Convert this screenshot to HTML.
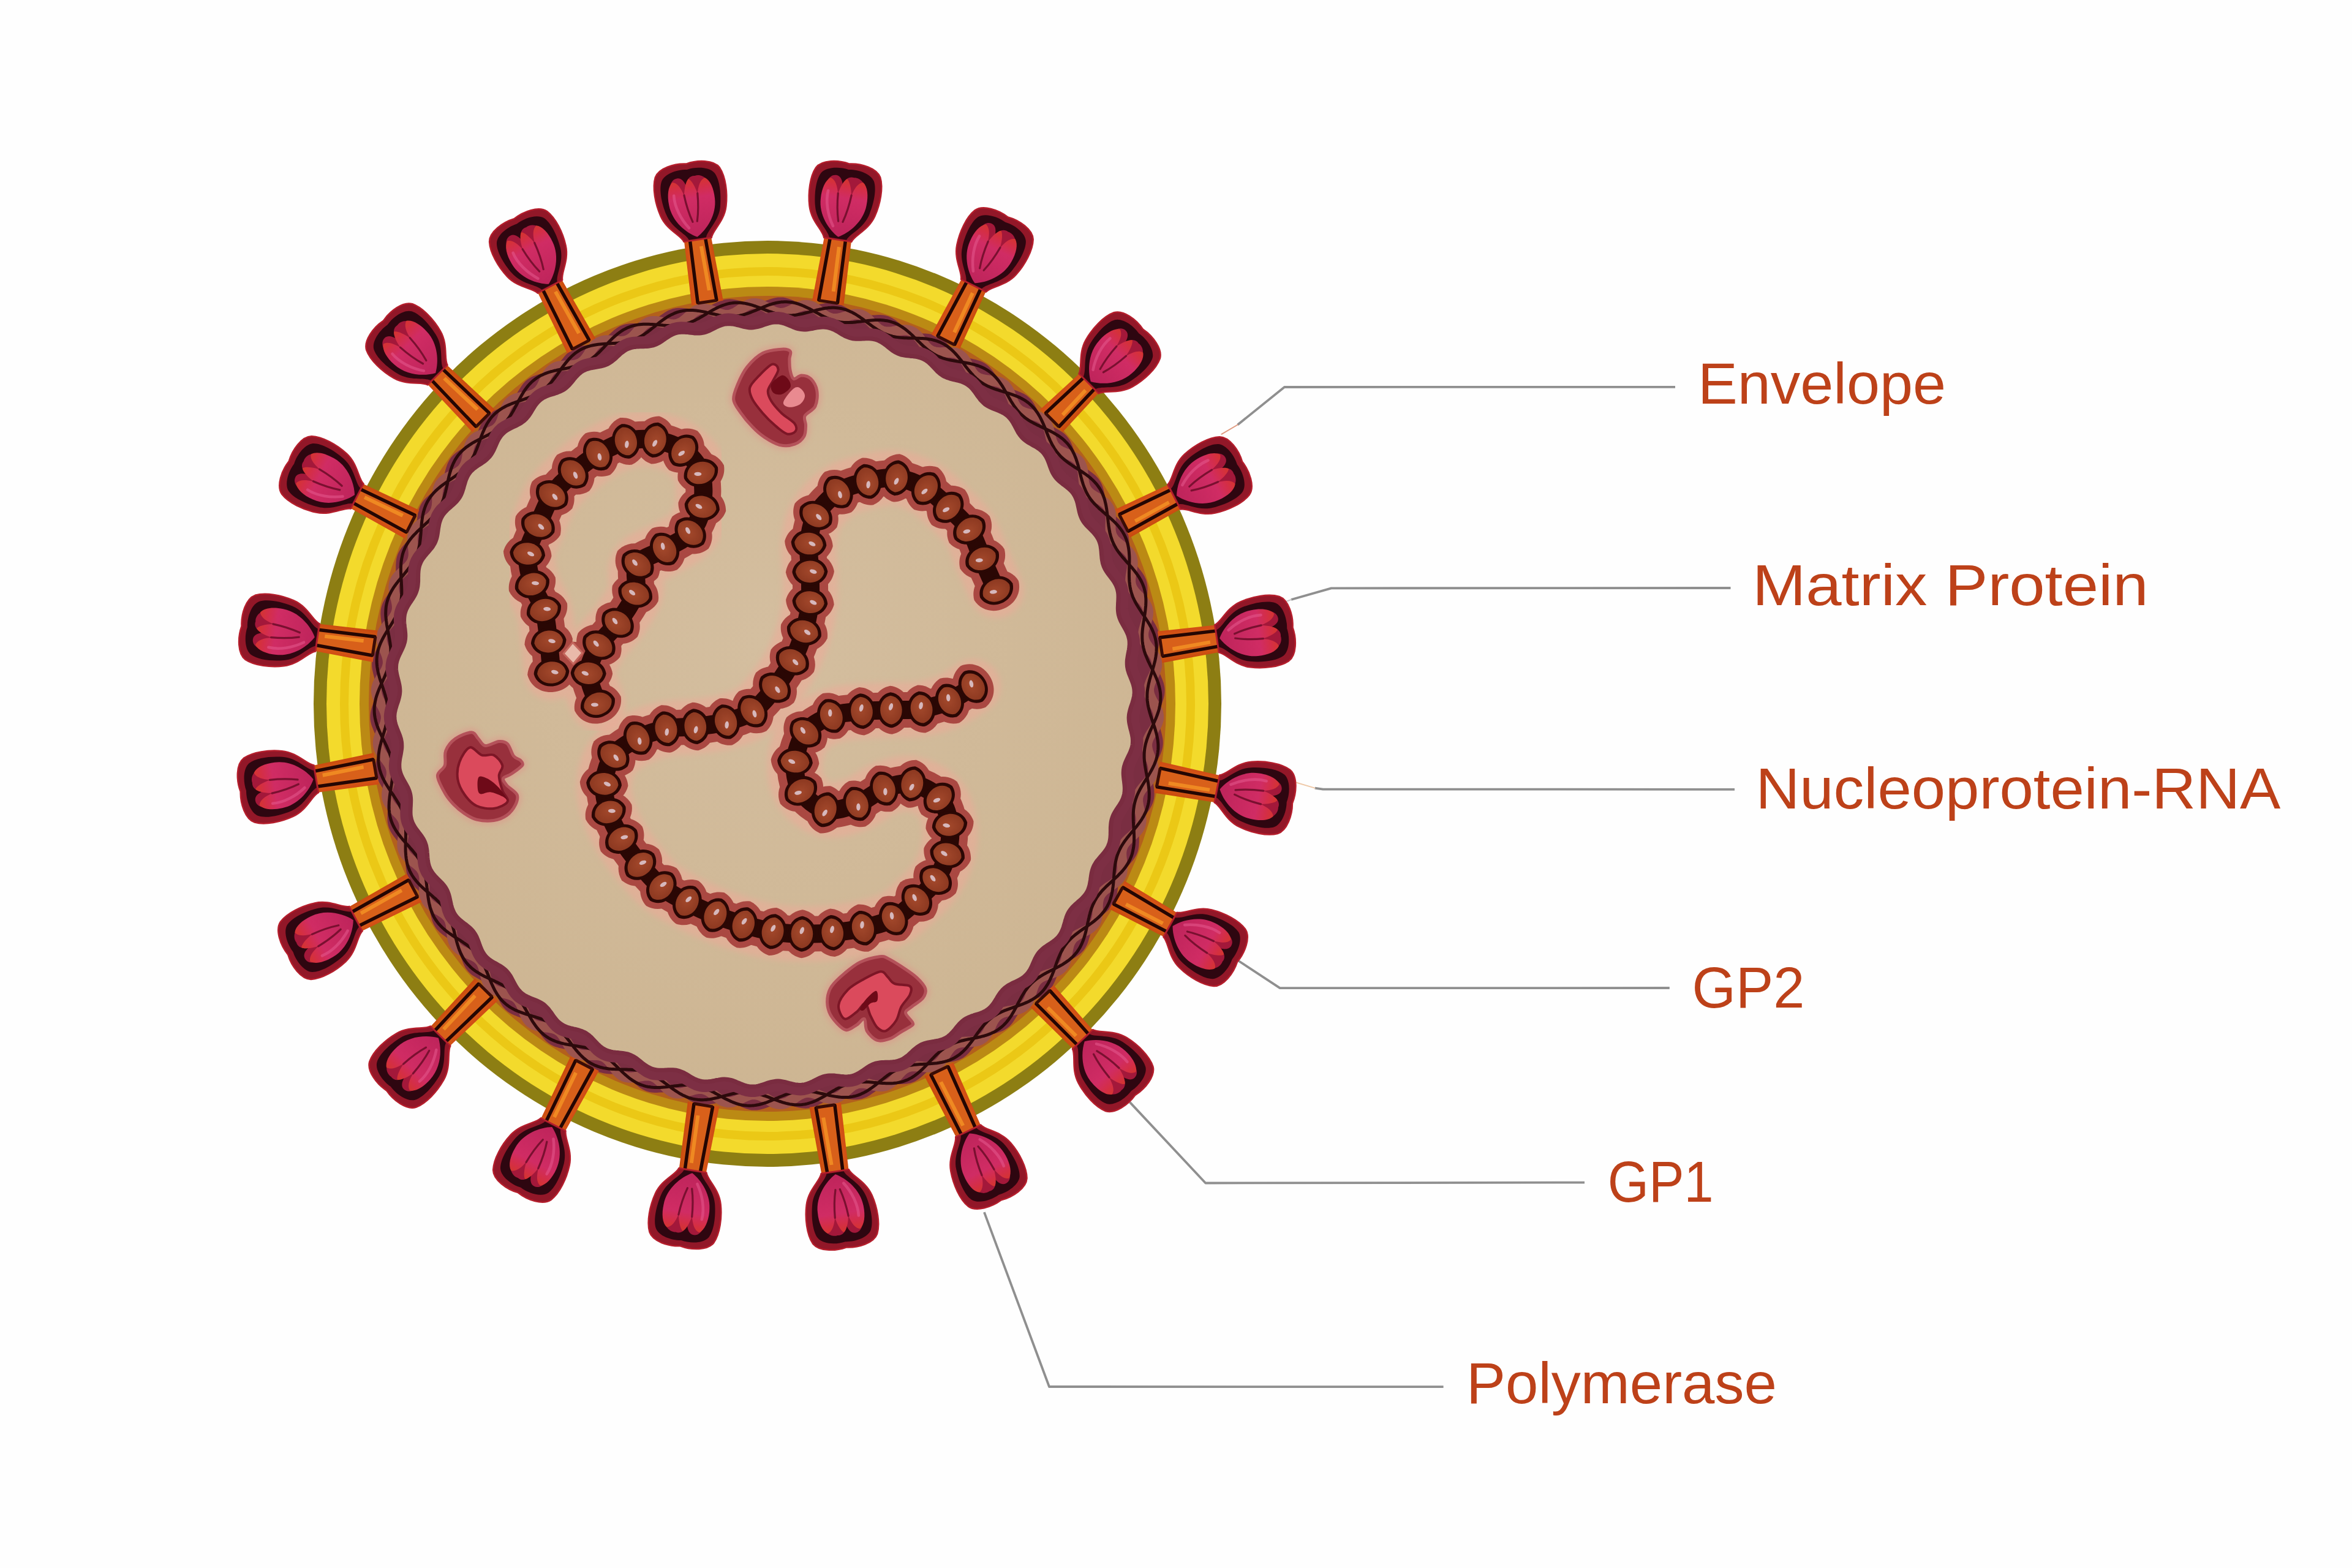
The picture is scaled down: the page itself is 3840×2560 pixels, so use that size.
<!DOCTYPE html>
<html><head><meta charset="utf-8"><title>Virus structure</title>
<style>html,body{margin:0;padding:0;background:#fefefe;}body{width:3840px;height:2560px;overflow:hidden;font-family:"Liberation Sans",sans-serif;}svg{display:block;}text{font-family:"Liberation Sans",sans-serif;}</style></head><body>
<svg width="3840" height="2560" viewBox="0 0 3840 2560">
<defs>
<linearGradient id="petal" gradientUnits="userSpaceOnUse" x1="0" y1="-48" x2="0" y2="60">
 <stop offset="0" stop-color="#d4362a"/><stop offset="0.16" stop-color="#d42e46"/><stop offset="0.34" stop-color="#d02c64"/><stop offset="1" stop-color="#be245b"/>
</linearGradient>
<linearGradient id="stalk" x1="0" y1="0" x2="1" y2="0">
 <stop offset="0" stop-color="#cf4a14"/><stop offset="0.5" stop-color="#de6a18"/><stop offset="1" stop-color="#c8480f"/>
</linearGradient>
<radialGradient id="core" cx="0.5" cy="0.42" r="0.62">
 <stop offset="0" stop-color="#d4be9f"/><stop offset="1" stop-color="#cdb592"/>
</radialGradient>
<radialGradient id="bead" cx="0.45" cy="0.42" r="0.6">
 <stop offset="0" stop-color="#a4492c"/><stop offset="1" stop-color="#8c3820"/>
</radialGradient>
<filter id="soft" x="-10%" y="-10%" width="120%" height="120%"><feGaussianBlur stdDeviation="5"/></filter>
<filter id="soft2" x="-10%" y="-10%" width="120%" height="120%"><feGaussianBlur stdDeviation="1.2"/></filter>
</defs>
<rect width="3840" height="2560" fill="#fefefe"/>
<g fill="none" stroke="#8f8f8f" stroke-width="3.8" stroke-linejoin="round" stroke-linecap="butt">
<polyline points="2020.6,693.5 2097,632 2735,631.8"/>
<polyline points="2108,979 2173.5,960.3 2825.5,960"/>
<polyline points="2146.7,1286.6 2160,1288.6 2832,1288.8"/>
<polyline points="2021.7,1568.5 2089.6,1613.2 2725.8,1613"/>
<polyline points="1844.7,1799.6 1968.2,1931.5 2587,1930.6"/>
<polyline points="1606.9,1979.2 1713,2264 2356.6,2264.2"/>
</g>
<g fill="none" stroke="#e09a80" stroke-width="2" stroke-linecap="round">
<path d="M2020.6,693.5 L1994.4,708.8"/><path d="M2108,979 L2100,982" stroke="#c8c8c8"/><path d="M2146.7,1286.6 L2111,1276" stroke="#efc9a8"/>
</g>
<g fill="#bd4119" font-size="95">
<text x="2772" y="658.6" textLength="405" lengthAdjust="spacingAndGlyphs">Envelope</text>
<text x="2861" y="988.4" textLength="646.6" lengthAdjust="spacingAndGlyphs">Matrix Protein</text>
<text x="2866.4" y="1320" textLength="857" lengthAdjust="spacingAndGlyphs">Nucleoprotein-RNA</text>
<text x="2762.5" y="1644.6" textLength="183.8" lengthAdjust="spacingAndGlyphs">GP2</text>
<text x="2624.7" y="1962" textLength="172.9" lengthAdjust="spacingAndGlyphs">GP1</text>
<text x="2394" y="2291" textLength="506.9" lengthAdjust="spacingAndGlyphs">Polymerase</text>
</g>
<ellipse cx="1253" cy="1149" rx="741" ry="756" fill="#8d7e13"/>
<ellipse cx="1253" cy="1149" rx="720" ry="735" fill="#f3da2c"/>
<ellipse cx="1253" cy="1149" rx="691" ry="706" fill="none" stroke="#ebc816" stroke-width="14"/>
<ellipse cx="1253" cy="1149" rx="666" ry="681" fill="#bb8a14"/>
<ellipse cx="1253" cy="1149" rx="651" ry="666" fill="#b3601c"/>
<path d="M1253,490 L1255.8,489 L1258.6,488.1 L1261.5,487.2 L1264.3,486.5 L1267.1,485.9 L1270,485.6 L1272.8,485.4 L1275.6,485.4 L1278.5,485.6 L1281.3,486.1 L1284.1,486.7 L1286.9,487.6 L1289.7,488.5 L1292.4,489.6 L1295.2,490.8 L1297.9,492 L1300.6,493.1 L1303.3,494.3 L1306.1,495.4 L1308.8,496.3 L1311.5,497.1 L1314.3,497.8 L1317,498.3 L1319.8,498.6 L1322.6,498.7 L1325.4,498.6 L1328.2,498.3 L1331.1,498 L1334,497.5 L1336.9,496.9 L1339.8,496.3 L1342.7,495.7 L1345.6,495.2 L1348.6,494.7 L1351.5,494.3 L1354.4,494.1 L1357.2,494.1 L1360.1,494.2 L1362.9,494.6 L1365.7,495.2 L1368.4,495.9 L1371.1,496.9 L1373.8,498.1 L1376.4,499.4 L1379,500.8 L1381.6,502.3 L1384.1,503.9 L1386.7,505.4 L1389.2,507 L1391.8,508.4 L1394.3,509.8 L1396.9,511 L1399.5,512.1 L1402.2,513 L1404.9,513.7 L1407.6,514.3 L1410.4,514.7 L1413.2,514.9 L1416.1,514.9 L1419,514.9 L1422,514.7 L1424.9,514.6 L1427.9,514.4 L1430.9,514.2 L1433.9,514.1 L1436.8,514.1 L1439.7,514.3 L1442.6,514.6 L1445.4,515.1 L1448.2,515.8 L1450.8,516.6 L1453.5,517.7 L1456,519 L1458.5,520.5 L1461,522.1 L1463.4,523.8 L1465.7,525.7 L1468.1,527.6 L1470.4,529.5 L1472.7,531.3 L1475,533.2 L1477.3,534.9 L1479.7,536.6 L1482.2,538 L1484.6,539.4 L1487.2,540.5 L1489.8,541.5 L1492.5,542.3 L1495.3,542.9 L1498.1,543.4 L1501,543.8 L1503.9,544.1 L1506.9,544.4 L1509.8,544.6 L1512.8,544.8 L1515.8,545.1 L1518.7,545.5 L1521.6,546 L1524.4,546.7 L1527.2,547.5 L1529.8,548.5 L1532.4,549.7 L1534.9,551.1 L1537.3,552.7 L1539.6,554.4 L1541.8,556.3 L1544,558.3 L1546.1,560.5 L1548.1,562.6 L1550.2,564.8 L1552.2,567 L1554.2,569.2 L1556.3,571.3 L1558.4,573.3 L1560.6,575.1 L1562.9,576.8 L1565.2,578.4 L1567.7,579.8 L1570.2,581 L1572.8,582 L1575.5,583 L1578.3,583.8 L1581.2,584.5 L1584.1,585.2 L1587,585.8 L1589.9,586.4 L1592.8,587.1 L1595.7,587.9 L1598.5,588.8 L1601.2,589.8 L1603.9,590.9 L1606.4,592.2 L1608.8,593.7 L1611.2,595.4 L1613.4,597.2 L1615.4,599.2 L1617.4,601.4 L1619.3,603.7 L1621.1,606 L1622.9,608.5 L1624.6,610.9 L1626.3,613.4 L1628,615.9 L1629.8,618.2 L1631.6,620.5 L1633.5,622.7 L1635.5,624.8 L1637.6,626.7 L1639.8,628.4 L1642.1,630 L1644.5,631.5 L1647.1,632.8 L1649.7,634 L1652.4,635.2 L1655.2,636.2 L1658,637.3 L1660.8,638.3 L1663.6,639.4 L1666.3,640.5 L1669,641.7 L1671.6,643 L1674.1,644.5 L1676.5,646.1 L1678.8,647.9 L1680.9,649.8 L1682.9,651.9 L1684.7,654.1 L1686.4,656.5 L1688,659 L1689.5,661.6 L1690.9,664.2 L1692.3,666.9 L1693.7,669.6 L1695.1,672.3 L1696.5,674.9 L1697.9,677.5 L1699.5,679.9 L1701.2,682.3 L1702.9,684.5 L1704.8,686.6 L1706.9,688.5 L1709.1,690.3 L1711.3,692 L1713.8,693.6 L1716.3,695.2 L1718.8,696.6 L1721.5,698 L1724.1,699.4 L1726.8,700.9 L1729.4,702.4 L1731.9,703.9 L1734.3,705.6 L1736.7,707.3 L1738.9,709.2 L1740.9,711.2 L1742.8,713.4 L1744.5,715.7 L1746.1,718.1 L1747.5,720.7 L1748.8,723.3 L1750,726.1 L1751.1,728.9 L1752.1,731.7 L1753.1,734.6 L1754.1,737.5 L1755.1,740.3 L1756.2,743 L1757.4,745.7 L1758.7,748.3 L1760.1,750.8 L1761.7,753.1 L1763.4,755.4 L1765.2,757.5 L1767.2,759.6 L1769.4,761.5 L1771.6,763.4 L1774,765.2 L1776.4,767 L1778.8,768.7 L1781.2,770.5 L1783.6,772.3 L1786,774.2 L1788.2,776.1 L1790.3,778.2 L1792.3,780.3 L1794.1,782.6 L1795.7,784.9 L1797.2,787.4 L1798.5,790 L1799.6,792.7 L1800.6,795.5 L1801.4,798.4 L1802.1,801.3 L1802.8,804.3 L1803.4,807.2 L1804,810.2 L1804.6,813.2 L1805.3,816.1 L1806.1,818.9 L1807,821.7 L1808,824.3 L1809.2,826.9 L1810.5,829.4 L1812.1,831.8 L1813.7,834.2 L1815.5,836.4 L1817.5,838.6 L1819.5,840.7 L1821.7,842.8 L1823.8,844.9 L1826,847 L1828.2,849.1 L1830.3,851.3 L1832.3,853.5 L1834.1,855.8 L1835.9,858.1 L1837.4,860.6 L1838.8,863.1 L1839.9,865.8 L1840.9,868.5 L1841.7,871.3 L1842.3,874.2 L1842.8,877.1 L1843.2,880.1 L1843.5,883.2 L1843.7,886.2 L1843.9,889.2 L1844.1,892.2 L1844.4,895.2 L1844.7,898.2 L1845.2,901 L1845.8,903.9 L1846.6,906.6 L1847.5,909.3 L1848.7,911.9 L1850,914.5 L1851.4,917 L1853,919.4 L1854.7,921.8 L1856.6,924.2 L1858.4,926.6 L1860.3,928.9 L1862.2,931.3 L1864,933.7 L1865.7,936.2 L1867.3,938.7 L1868.7,941.3 L1870,943.9 L1871.1,946.6 L1871.9,949.3 L1872.6,952.2 L1873.1,955 L1873.4,958 L1873.5,960.9 L1873.5,963.9 L1873.4,967 L1873.2,970 L1873,973.1 L1872.8,976.1 L1872.6,979.1 L1872.6,982.1 L1872.6,985 L1872.8,987.9 L1873.2,990.7 L1873.7,993.6 L1874.4,996.3 L1875.3,999 L1876.4,1001.7 L1877.6,1004.4 L1878.9,1007 L1880.4,1009.6 L1881.9,1012.2 L1883.5,1014.8 L1885,1017.4 L1886.5,1020.1 L1887.9,1022.7 L1889.2,1025.4 L1890.3,1028.1 L1891.3,1030.9 L1892.1,1033.7 L1892.6,1036.6 L1893,1039.4 L1893.1,1042.3 L1893.1,1045.3 L1892.8,1048.2 L1892.5,1051.2 L1892,1054.2 L1891.4,1057.2 L1890.8,1060.2 L1890.2,1063.2 L1889.6,1066.1 L1889.1,1069.1 L1888.8,1072 L1888.5,1074.9 L1888.4,1077.8 L1888.5,1080.6 L1888.8,1083.5 L1889.3,1086.3 L1889.9,1089.1 L1890.7,1091.9 L1891.7,1094.7 L1892.8,1097.5 L1893.9,1100.3 L1895.1,1103.1 L1896.3,1105.9 L1897.4,1108.7 L1898.5,1111.5 L1899.5,1114.3 L1900.3,1117.2 L1900.9,1120.1 L1901.4,1122.9 L1901.6,1125.8 L1901.6,1128.7 L1901.4,1131.6 L1901.1,1134.5 L1900.5,1137.4 L1899.8,1140.3 L1898.9,1143.2 L1898,1146.1 L1897,1149 L1896,1151.9 L1895,1154.7 L1894.1,1157.6 L1893.3,1160.4 L1892.6,1163.3 L1892.1,1166.1 L1891.8,1169 L1891.6,1171.8 L1891.6,1174.7 L1891.9,1177.5 L1892.2,1180.4 L1892.8,1183.3 L1893.4,1186.2 L1894.2,1189.1 L1895,1192.1 L1895.8,1195 L1896.6,1197.9 L1897.3,1200.9 L1897.9,1203.8 L1898.4,1206.8 L1898.7,1209.7 L1898.8,1212.6 L1898.7,1215.5 L1898.4,1218.4 L1897.9,1221.3 L1897.2,1224.1 L1896.3,1226.9 L1895.3,1229.7 L1894.1,1232.4 L1892.8,1235.2 L1891.4,1237.9 L1890,1240.6 L1888.7,1243.3 L1887.4,1246 L1886.2,1248.7 L1885.1,1251.5 L1884.1,1254.2 L1883.4,1257 L1882.8,1259.8 L1882.4,1262.6 L1882.1,1265.4 L1882.1,1268.3 L1882.2,1271.3 L1882.4,1274.2 L1882.7,1277.2 L1883.1,1280.2 L1883.5,1283.2 L1883.9,1286.2 L1884.3,1289.2 L1884.5,1292.3 L1884.7,1295.2 L1884.6,1298.2 L1884.4,1301.1 L1884,1304 L1883.4,1306.8 L1882.6,1309.6 L1881.6,1312.3 L1880.4,1315 L1879,1317.6 L1877.5,1320.2 L1875.9,1322.8 L1874.2,1325.3 L1872.4,1327.8 L1870.7,1330.3 L1869.1,1332.8 L1867.5,1335.3 L1866,1337.8 L1864.6,1340.4 L1863.5,1343 L1862.4,1345.7 L1861.6,1348.4 L1861,1351.2 L1860.5,1354 L1860.1,1356.9 L1859.9,1359.9 L1859.8,1362.8 L1859.8,1365.9 L1859.8,1368.9 L1859.8,1371.9 L1859.8,1375 L1859.6,1378 L1859.4,1381 L1859,1383.9 L1858.5,1386.8 L1857.8,1389.6 L1856.8,1392.4 L1855.7,1395 L1854.4,1397.6 L1852.9,1400.1 L1851.2,1402.5 L1849.4,1404.9 L1847.5,1407.2 L1845.5,1409.5 L1843.5,1411.7 L1841.5,1414 L1839.5,1416.2 L1837.5,1418.5 L1835.7,1420.8 L1834,1423.1 L1832.4,1425.5 L1831,1428 L1829.8,1430.6 L1828.7,1433.2 L1827.8,1435.9 L1827,1438.7 L1826.4,1441.6 L1825.9,1444.5 L1825.4,1447.5 L1825,1450.5 L1824.6,1453.5 L1824.2,1456.5 L1823.7,1459.5 L1823.1,1462.4 L1822.4,1465.3 L1821.5,1468.1 L1820.5,1470.8 L1819.2,1473.4 L1817.8,1476 L1816.2,1478.4 L1814.5,1480.7 L1812.5,1482.9 L1810.5,1485 L1808.3,1487 L1806.1,1489 L1803.7,1491 L1801.4,1492.9 L1799.1,1494.9 L1796.9,1496.8 L1794.7,1498.8 L1792.7,1500.9 L1790.8,1503 L1789,1505.3 L1787.4,1507.6 L1785.9,1510 L1784.6,1512.6 L1783.5,1515.2 L1782.4,1517.9 L1781.5,1520.7 L1780.6,1523.6 L1779.8,1526.5 L1779,1529.4 L1778.2,1532.3 L1777.3,1535.2 L1776.4,1538.1 L1775.3,1540.9 L1774.1,1543.5 L1772.8,1546.1 L1771.3,1548.6 L1769.6,1550.9 L1767.8,1553.1 L1765.7,1555.2 L1763.6,1557.1 L1761.3,1559 L1758.9,1560.7 L1756.4,1562.4 L1753.9,1564.1 L1751.3,1565.6 L1748.8,1567.2 L1746.3,1568.9 L1743.9,1570.5 L1741.5,1572.3 L1739.3,1574.1 L1737.2,1576 L1735.3,1578.1 L1733.5,1580.2 L1731.8,1582.5 L1730.2,1584.9 L1728.8,1587.5 L1727.5,1590.1 L1726.2,1592.8 L1725,1595.5 L1723.9,1598.3 L1722.7,1601.1 L1721.4,1603.9 L1720.1,1606.6 L1718.8,1609.2 L1717.3,1611.7 L1715.6,1614.1 L1713.8,1616.4 L1711.9,1618.5 L1709.8,1620.5 L1707.6,1622.3 L1705.3,1624 L1702.8,1625.5 L1700.2,1627 L1697.5,1628.3 L1694.8,1629.6 L1692.1,1630.8 L1689.4,1632.1 L1686.7,1633.3 L1684,1634.6 L1681.4,1636 L1679,1637.4 L1676.6,1639 L1674.4,1640.7 L1672.2,1642.6 L1670.2,1644.6 L1668.4,1646.7 L1666.6,1649 L1664.9,1651.4 L1663.3,1653.8 L1661.7,1656.4 L1660.2,1659 L1658.6,1661.5 L1657,1664.1 L1655.4,1666.6 L1653.7,1669.1 L1651.9,1671.4 L1650,1673.6 L1648,1675.7 L1645.8,1677.5 L1643.5,1679.3 L1641.1,1680.8 L1638.6,1682.2 L1636,1683.4 L1633.3,1684.5 L1630.5,1685.5 L1627.6,1686.4 L1624.8,1687.3 L1621.9,1688.1 L1619,1689 L1616.2,1689.9 L1613.5,1690.8 L1610.8,1691.9 L1608.2,1693.1 L1605.7,1694.4 L1603.4,1695.9 L1601.1,1697.6 L1598.9,1699.4 L1596.8,1701.3 L1594.8,1703.4 L1592.9,1705.6 L1591,1707.9 L1589.1,1710.2 L1587.2,1712.6 L1585.3,1714.9 L1583.4,1717.2 L1581.4,1719.4 L1579.3,1721.5 L1577.2,1723.5 L1574.9,1725.3 L1572.6,1726.9 L1570.1,1728.3 L1567.5,1729.6 L1564.9,1730.7 L1562.1,1731.6 L1559.3,1732.3 L1556.4,1732.9 L1553.5,1733.5 L1550.6,1733.9 L1547.6,1734.4 L1544.7,1734.8 L1541.8,1735.3 L1538.9,1735.8 L1536.1,1736.5 L1533.3,1737.3 L1530.7,1738.2 L1528.1,1739.3 L1525.6,1740.6 L1523.2,1742 L1520.8,1743.6 L1518.5,1745.3 L1516.3,1747.2 L1514.1,1749.2 L1511.9,1751.2 L1509.8,1753.3 L1507.6,1755.3 L1505.4,1757.3 L1503.1,1759.3 L1500.8,1761.1 L1498.4,1762.8 L1496,1764.3 L1493.5,1765.7 L1490.9,1766.8 L1488.2,1767.7 L1485.4,1768.5 L1482.6,1769.1 L1479.7,1769.5 L1476.8,1769.7 L1473.8,1769.9 L1470.9,1769.9 L1467.9,1770 L1464.9,1770 L1462,1770 L1459,1770.1 L1456.1,1770.4 L1453.3,1770.7 L1450.5,1771.2 L1447.8,1771.9 L1445.2,1772.7 L1442.6,1773.8 L1440,1775 L1437.5,1776.3 L1435,1777.8 L1432.6,1779.5 L1430.1,1781.1 L1427.7,1782.9 L1425.3,1784.6 L1422.8,1786.3 L1420.3,1788 L1417.8,1789.5 L1415.2,1790.9 L1412.6,1792.1 L1410,1793.1 L1407.3,1794 L1404.5,1794.6 L1401.7,1795 L1398.8,1795.2 L1395.9,1795.3 L1393,1795.2 L1390.1,1794.9 L1387.1,1794.6 L1384.2,1794.2 L1381.2,1793.8 L1378.3,1793.5 L1375.3,1793.1 L1372.5,1792.9 L1369.6,1792.8 L1366.8,1792.9 L1364,1793.1 L1361.2,1793.6 L1358.5,1794.2 L1355.8,1794.9 L1353.1,1795.9 L1350.5,1797 L1347.8,1798.2 L1345.2,1799.5 L1342.5,1800.9 L1339.9,1802.3 L1337.2,1803.6 L1334.6,1804.9 L1331.9,1806.1 L1329.1,1807.2 L1326.4,1808.1 L1323.6,1808.8 L1320.8,1809.3 L1318,1809.6 L1315.2,1809.7 L1312.3,1809.6 L1309.5,1809.3 L1306.6,1808.8 L1303.7,1808.2 L1300.8,1807.5 L1297.9,1806.7 L1295.1,1805.9 L1292.2,1805.1 L1289.4,1804.4 L1286.5,1803.8 L1283.7,1803.2 L1280.9,1802.8 L1278.1,1802.6 L1275.3,1802.6 L1272.5,1802.8 L1269.7,1803.1 L1267,1803.6 L1264.2,1804.3 L1261.4,1805.1 L1258.6,1806 L1255.8,1807 L1253,1808 L1250.2,1809 L1247.4,1809.9 L1244.5,1810.8 L1241.7,1811.5 L1238.9,1812.1 L1236,1812.4 L1233.2,1812.6 L1230.4,1812.6 L1227.5,1812.4 L1224.7,1811.9 L1221.9,1811.3 L1219.1,1810.4 L1216.3,1809.5 L1213.6,1808.4 L1210.8,1807.2 L1208.1,1806 L1205.4,1804.9 L1202.7,1803.7 L1199.9,1802.6 L1197.2,1801.7 L1194.5,1800.9 L1191.7,1800.2 L1189,1799.7 L1186.2,1799.4 L1183.4,1799.3 L1180.6,1799.4 L1177.8,1799.7 L1174.9,1800 L1172,1800.5 L1169.1,1801.1 L1166.2,1801.7 L1163.3,1802.3 L1160.4,1802.8 L1157.4,1803.3 L1154.5,1803.7 L1151.6,1803.9 L1148.8,1803.9 L1145.9,1803.8 L1143.1,1803.4 L1140.3,1802.8 L1137.6,1802.1 L1134.9,1801.1 L1132.2,1799.9 L1129.6,1798.6 L1127,1797.2 L1124.4,1795.7 L1121.9,1794.1 L1119.3,1792.6 L1116.8,1791 L1114.2,1789.6 L1111.7,1788.2 L1109.1,1787 L1106.5,1785.9 L1103.8,1785 L1101.1,1784.3 L1098.4,1783.7 L1095.6,1783.3 L1092.8,1783.1 L1089.9,1783.1 L1087,1783.1 L1084,1783.3 L1081.1,1783.4 L1078.1,1783.6 L1075.1,1783.8 L1072.1,1783.9 L1069.2,1783.9 L1066.3,1783.7 L1063.4,1783.4 L1060.6,1782.9 L1057.8,1782.2 L1055.2,1781.4 L1052.5,1780.3 L1050,1779 L1047.5,1777.5 L1045,1775.9 L1042.6,1774.2 L1040.3,1772.3 L1037.9,1770.4 L1035.6,1768.5 L1033.3,1766.7 L1031,1764.8 L1028.7,1763.1 L1026.3,1761.4 L1023.8,1760 L1021.4,1758.6 L1018.8,1757.5 L1016.2,1756.5 L1013.5,1755.7 L1010.7,1755.1 L1007.9,1754.6 L1005,1754.2 L1002.1,1753.9 L999.1,1753.6 L996.2,1753.4 L993.2,1753.2 L990.2,1752.9 L987.3,1752.5 L984.4,1752 L981.6,1751.3 L978.8,1750.5 L976.2,1749.5 L973.6,1748.3 L971.1,1746.9 L968.7,1745.3 L966.4,1743.6 L964.2,1741.7 L962,1739.7 L959.9,1737.5 L957.9,1735.4 L955.8,1733.2 L953.8,1731 L951.8,1728.8 L949.7,1726.7 L947.6,1724.7 L945.4,1722.9 L943.1,1721.2 L940.8,1719.6 L938.3,1718.2 L935.8,1717 L933.2,1716 L930.5,1715 L927.7,1714.2 L924.8,1713.5 L921.9,1712.8 L919,1712.2 L916.1,1711.6 L913.2,1710.9 L910.3,1710.1 L907.5,1709.2 L904.8,1708.2 L902.1,1707.1 L899.6,1705.8 L897.2,1704.3 L894.8,1702.6 L892.6,1700.8 L890.6,1698.8 L888.6,1696.6 L886.7,1694.3 L884.9,1692 L883.1,1689.5 L881.4,1687.1 L879.7,1684.6 L878,1682.1 L876.2,1679.8 L874.4,1677.5 L872.5,1675.3 L870.5,1673.2 L868.4,1671.3 L866.2,1669.6 L863.9,1668 L861.5,1666.5 L858.9,1665.2 L856.3,1664 L853.6,1662.8 L850.8,1661.8 L848,1660.7 L845.2,1659.7 L842.4,1658.6 L839.7,1657.5 L837,1656.3 L834.4,1655 L831.9,1653.5 L829.5,1651.9 L827.2,1650.1 L825.1,1648.2 L823.1,1646.1 L821.3,1643.9 L819.6,1641.5 L818,1639 L816.5,1636.4 L815.1,1633.8 L813.7,1631.1 L812.3,1628.4 L810.9,1625.7 L809.5,1623.1 L808.1,1620.5 L806.5,1618.1 L804.8,1615.7 L803.1,1613.5 L801.2,1611.4 L799.1,1609.5 L796.9,1607.7 L794.7,1606 L792.2,1604.4 L789.7,1602.8 L787.2,1601.4 L784.5,1600 L781.9,1598.6 L779.2,1597.1 L776.6,1595.6 L774.1,1594.1 L771.7,1592.4 L769.3,1590.7 L767.1,1588.8 L765.1,1586.8 L763.2,1584.6 L761.5,1582.3 L759.9,1579.9 L758.5,1577.3 L757.2,1574.7 L756,1571.9 L754.9,1569.1 L753.9,1566.3 L752.9,1563.4 L751.9,1560.5 L750.9,1557.7 L749.8,1555 L748.6,1552.3 L747.3,1549.7 L745.9,1547.2 L744.3,1544.9 L742.6,1542.6 L740.8,1540.5 L738.8,1538.4 L736.6,1536.5 L734.4,1534.6 L732,1532.8 L729.6,1531 L727.2,1529.3 L724.8,1527.5 L722.4,1525.7 L720,1523.8 L717.8,1521.9 L715.7,1519.8 L713.7,1517.7 L711.9,1515.4 L710.3,1513.1 L708.8,1510.6 L707.5,1508 L706.4,1505.3 L705.4,1502.5 L704.6,1499.6 L703.9,1496.7 L703.2,1493.7 L702.6,1490.8 L702,1487.8 L701.4,1484.8 L700.7,1481.9 L699.9,1479.1 L699,1476.3 L698,1473.7 L696.8,1471.1 L695.5,1468.6 L693.9,1466.2 L692.3,1463.8 L690.5,1461.6 L688.5,1459.4 L686.5,1457.3 L684.3,1455.2 L682.2,1453.1 L680,1451 L677.8,1448.9 L675.7,1446.7 L673.7,1444.5 L671.9,1442.2 L670.1,1439.9 L668.6,1437.4 L667.2,1434.9 L666.1,1432.2 L665.1,1429.5 L664.3,1426.7 L663.7,1423.8 L663.2,1420.9 L662.8,1417.9 L662.5,1414.8 L662.3,1411.8 L662.1,1408.8 L661.9,1405.8 L661.6,1402.8 L661.3,1399.8 L660.8,1397 L660.2,1394.1 L659.4,1391.4 L658.5,1388.7 L657.3,1386.1 L656,1383.5 L654.6,1381 L653,1378.6 L651.3,1376.2 L649.4,1373.8 L647.6,1371.4 L645.7,1369.1 L643.8,1366.7 L642,1364.3 L640.3,1361.8 L638.7,1359.3 L637.3,1356.7 L636,1354.1 L634.9,1351.4 L634.1,1348.7 L633.4,1345.8 L632.9,1343 L632.6,1340 L632.5,1337.1 L632.5,1334.1 L632.6,1331 L632.8,1328 L633,1324.9 L633.2,1321.9 L633.4,1318.9 L633.4,1315.9 L633.4,1313 L633.2,1310.1 L632.8,1307.3 L632.3,1304.4 L631.6,1301.7 L630.7,1299 L629.6,1296.3 L628.4,1293.6 L627.1,1291 L625.6,1288.4 L624.1,1285.8 L622.5,1283.2 L621,1280.6 L619.5,1277.9 L618.1,1275.3 L616.8,1272.6 L615.7,1269.9 L614.7,1267.1 L613.9,1264.3 L613.4,1261.4 L613,1258.6 L612.9,1255.7 L612.9,1252.7 L613.2,1249.8 L613.5,1246.8 L614,1243.8 L614.6,1240.8 L615.2,1237.8 L615.8,1234.8 L616.4,1231.9 L616.9,1228.9 L617.2,1226 L617.5,1223.1 L617.6,1220.2 L617.5,1217.4 L617.2,1214.5 L616.7,1211.7 L616.1,1208.9 L615.3,1206.1 L614.3,1203.3 L613.2,1200.5 L612.1,1197.7 L610.9,1194.9 L609.7,1192.1 L608.6,1189.3 L607.5,1186.5 L606.5,1183.7 L605.7,1180.8 L605.1,1177.9 L604.6,1175.1 L604.4,1172.2 L604.4,1169.3 L604.6,1166.4 L604.9,1163.5 L605.5,1160.6 L606.2,1157.7 L607.1,1154.8 L608,1151.9 L609,1149 L610,1146.1 L611,1143.3 L611.9,1140.4 L612.7,1137.6 L613.4,1134.7 L613.9,1131.9 L614.2,1129 L614.4,1126.2 L614.4,1123.3 L614.1,1120.5 L613.8,1117.6 L613.2,1114.7 L612.6,1111.8 L611.8,1108.9 L611,1105.9 L610.2,1103 L609.4,1100.1 L608.7,1097.1 L608.1,1094.2 L607.6,1091.2 L607.3,1088.3 L607.2,1085.4 L607.3,1082.5 L607.6,1079.6 L608.1,1076.7 L608.8,1073.9 L609.7,1071.1 L610.7,1068.3 L611.9,1065.6 L613.2,1062.8 L614.6,1060.1 L616,1057.4 L617.3,1054.7 L618.6,1052 L619.8,1049.3 L620.9,1046.5 L621.9,1043.8 L622.6,1041 L623.2,1038.2 L623.6,1035.4 L623.9,1032.6 L623.9,1029.7 L623.8,1026.7 L623.6,1023.8 L623.3,1020.8 L622.9,1017.8 L622.5,1014.8 L622.1,1011.8 L621.7,1008.8 L621.5,1005.7 L621.3,1002.8 L621.4,999.8 L621.6,996.9 L622,994 L622.6,991.2 L623.4,988.4 L624.4,985.7 L625.6,983 L627,980.4 L628.5,977.8 L630.1,975.2 L631.8,972.7 L633.6,970.2 L635.3,967.7 L636.9,965.2 L638.5,962.7 L640,960.2 L641.4,957.6 L642.5,955 L643.6,952.3 L644.4,949.6 L645,946.8 L645.5,944 L645.9,941.1 L646.1,938.1 L646.2,935.2 L646.2,932.1 L646.2,929.1 L646.2,926.1 L646.2,923 L646.4,920 L646.6,917 L647,914.1 L647.5,911.2 L648.2,908.4 L649.2,905.6 L650.3,903 L651.6,900.4 L653.1,897.9 L654.8,895.5 L656.6,893.1 L658.5,890.8 L660.5,888.5 L662.5,886.3 L664.5,884 L666.5,881.8 L668.5,879.5 L670.3,877.2 L672,874.9 L673.6,872.5 L675,870 L676.2,867.4 L677.3,864.8 L678.2,862.1 L679,859.3 L679.6,856.4 L680.1,853.5 L680.6,850.5 L681,847.5 L681.4,844.5 L681.8,841.5 L682.3,838.5 L682.9,835.6 L683.6,832.7 L684.5,829.9 L685.5,827.2 L686.8,824.6 L688.2,822 L689.8,819.6 L691.5,817.3 L693.5,815.1 L695.5,813 L697.7,811 L699.9,809 L702.3,807 L704.6,805.1 L706.9,803.1 L709.1,801.2 L711.3,799.2 L713.3,797.1 L715.2,795 L717,792.7 L718.6,790.4 L720.1,788 L721.4,785.4 L722.5,782.8 L723.6,780.1 L724.5,777.3 L725.4,774.4 L726.2,771.5 L727,768.6 L727.8,765.7 L728.7,762.8 L729.6,759.9 L730.7,757.1 L731.9,754.5 L733.2,751.9 L734.7,749.4 L736.4,747.1 L738.2,744.9 L740.3,742.8 L742.4,740.9 L744.7,739 L747.1,737.3 L749.6,735.6 L752.1,733.9 L754.7,732.4 L757.2,730.8 L759.7,729.1 L762.1,727.5 L764.5,725.7 L766.7,723.9 L768.8,722 L770.7,719.9 L772.5,717.8 L774.2,715.5 L775.8,713.1 L777.2,710.5 L778.5,707.9 L779.8,705.2 L781,702.5 L782.1,699.7 L783.3,696.9 L784.6,694.1 L785.9,691.4 L787.2,688.8 L788.7,686.3 L790.4,683.9 L792.2,681.6 L794.1,679.5 L796.2,677.5 L798.4,675.7 L800.7,674 L803.2,672.5 L805.8,671 L808.5,669.7 L811.2,668.4 L813.9,667.2 L816.6,665.9 L819.3,664.7 L822,663.4 L824.6,662 L827,660.6 L829.4,659 L831.6,657.3 L833.8,655.4 L835.8,653.4 L837.6,651.3 L839.4,649 L841.1,646.6 L842.7,644.2 L844.3,641.6 L845.8,639 L847.4,636.5 L849,633.9 L850.6,631.4 L852.3,628.9 L854.1,626.6 L856,624.4 L858,622.3 L860.2,620.5 L862.5,618.7 L864.9,617.2 L867.4,615.8 L870,614.6 L872.7,613.5 L875.5,612.5 L878.4,611.6 L881.2,610.7 L884.1,609.9 L887,609 L889.8,608.1 L892.5,607.2 L895.2,606.1 L897.8,604.9 L900.3,603.6 L902.6,602.1 L904.9,600.4 L907.1,598.6 L909.2,596.7 L911.2,594.6 L913.1,592.4 L915,590.1 L916.9,587.8 L918.8,585.4 L920.7,583.1 L922.6,580.8 L924.6,578.6 L926.7,576.5 L928.8,574.5 L931.1,572.7 L933.4,571.1 L935.9,569.7 L938.5,568.4 L941.1,567.3 L943.9,566.4 L946.7,565.7 L949.6,565.1 L952.5,564.5 L955.4,564.1 L958.4,563.6 L961.3,563.2 L964.2,562.7 L967.1,562.2 L969.9,561.5 L972.7,560.7 L975.3,559.8 L977.9,558.7 L980.4,557.4 L982.8,556 L985.2,554.4 L987.5,552.7 L989.7,550.8 L991.9,548.8 L994.1,546.8 L996.2,544.7 L998.4,542.7 L1000.6,540.7 L1002.9,538.7 L1005.2,536.9 L1007.6,535.2 L1010,533.7 L1012.5,532.3 L1015.1,531.2 L1017.8,530.3 L1020.6,529.5 L1023.4,528.9 L1026.3,528.5 L1029.2,528.3 L1032.2,528.1 L1035.1,528.1 L1038.1,528 L1041.1,528 L1044,528 L1047,527.9 L1049.9,527.6 L1052.7,527.3 L1055.5,526.8 L1058.2,526.1 L1060.8,525.3 L1063.4,524.2 L1066,523 L1068.5,521.7 L1071,520.2 L1073.4,518.5 L1075.9,516.9 L1078.3,515.1 L1080.7,513.4 L1083.2,511.7 L1085.7,510 L1088.2,508.5 L1090.8,507.1 L1093.4,505.9 L1096,504.9 L1098.7,504 L1101.5,503.4 L1104.3,503 L1107.2,502.8 L1110.1,502.7 L1113,502.8 L1115.9,503.1 L1118.9,503.4 L1121.8,503.8 L1124.8,504.2 L1127.7,504.5 L1130.7,504.9 L1133.5,505.1 L1136.4,505.2 L1139.2,505.1 L1142,504.9 L1144.8,504.4 L1147.5,503.8 L1150.2,503.1 L1152.9,502.1 L1155.5,501 L1158.2,499.8 L1160.8,498.5 L1163.5,497.1 L1166.1,495.7 L1168.8,494.4 L1171.4,493.1 L1174.1,491.9 L1176.9,490.8 L1179.6,489.9 L1182.4,489.2 L1185.2,488.7 L1188,488.4 L1190.8,488.3 L1193.7,488.4 L1196.5,488.7 L1199.4,489.2 L1202.3,489.8 L1205.2,490.5 L1208.1,491.3 L1210.9,492.1 L1213.8,492.9 L1216.6,493.6 L1219.5,494.2 L1222.3,494.8 L1225.1,495.2 L1227.9,495.4 L1230.7,495.4 L1233.5,495.2 L1236.3,494.9 L1239,494.4 L1241.8,493.7 L1244.6,492.9 L1247.4,492 L1250.2,491Z" fill="#7a2e42"/>
<path d="M1253,503 L1255.7,504.6 L1258.5,506.2 L1261.2,507.6 L1263.9,508.9 L1266.6,509.9 L1269.3,510.7 L1272,511.2 L1274.7,511.4 L1277.5,511.3 L1280.2,510.9 L1283,510.2 L1285.7,509.2 L1288.5,508.1 L1291.4,506.8 L1294.2,505.4 L1297.1,504 L1299.9,502.6 L1302.8,501.4 L1305.7,500.3 L1308.5,499.4 L1311.4,498.7 L1314.2,498.4 L1317,498.3 L1319.8,498.6 L1322.5,499.3 L1325.2,500.2 L1327.9,501.4 L1330.5,502.9 L1333.1,504.6 L1335.6,506.5 L1338.2,508.4 L1340.7,510.4 L1343.2,512.3 L1345.7,514.2 L1348.2,515.9 L1350.7,517.3 L1353.3,518.6 L1355.9,519.5 L1358.5,520.2 L1361.2,520.6 L1364,520.6 L1366.8,520.4 L1369.6,519.9 L1372.5,519.3 L1375.5,518.4 L1378.5,517.5 L1381.5,516.5 L1384.5,515.5 L1387.6,514.6 L1390.6,513.8 L1393.5,513.3 L1396.5,512.9 L1399.3,512.9 L1402.1,513.2 L1404.9,513.7 L1407.5,514.7 L1410.1,515.9 L1412.6,517.4 L1415,519.2 L1417.4,521.1 L1419.6,523.3 L1421.9,525.6 L1424.1,527.9 L1426.3,530.1 L1428.5,532.4 L1430.8,534.4 L1433.1,536.3 L1435.4,538 L1437.8,539.4 L1440.3,540.5 L1442.9,541.3 L1445.6,541.9 L1448.4,542.1 L1451.3,542.1 L1454.3,541.9 L1457.3,541.5 L1460.4,541 L1463.5,540.4 L1466.6,539.9 L1469.8,539.4 L1472.8,539 L1475.9,538.8 L1478.9,538.8 L1481.7,539.1 L1484.5,539.6 L1487.2,540.5 L1489.7,541.7 L1492.2,543.2 L1494.5,544.9 L1496.6,546.9 L1498.7,549.2 L1500.7,551.6 L1502.7,554.1 L1504.6,556.7 L1506.4,559.3 L1508.3,561.8 L1510.3,564.2 L1512.2,566.5 L1514.3,568.5 L1516.5,570.3 L1518.8,571.9 L1521.2,573.1 L1523.8,574.1 L1526.5,574.8 L1529.3,575.3 L1532.2,575.6 L1535.2,575.7 L1538.3,575.6 L1541.5,575.5 L1544.7,575.4 L1547.9,575.3 L1551,575.3 L1554.1,575.5 L1557.1,575.8 L1559.9,576.4 L1562.6,577.3 L1565.2,578.4 L1567.6,579.8 L1569.9,581.6 L1572,583.5 L1573.9,585.8 L1575.7,588.2 L1577.4,590.9 L1579,593.6 L1580.5,596.4 L1582,599.3 L1583.6,602.1 L1585.1,604.8 L1586.8,607.3 L1588.5,609.7 L1590.4,611.9 L1592.4,613.8 L1594.6,615.4 L1596.9,616.9 L1599.5,618 L1602.1,618.9 L1605,619.7 L1607.9,620.2 L1611,620.6 L1614.1,621 L1617.3,621.3 L1620.5,621.6 L1623.6,622 L1626.7,622.6 L1629.6,623.3 L1632.4,624.2 L1635.1,625.3 L1637.5,626.8 L1639.8,628.4 L1641.8,630.4 L1643.7,632.6 L1645.4,635 L1646.9,637.6 L1648.2,640.4 L1649.5,643.3 L1650.6,646.3 L1651.8,649.3 L1652.9,652.3 L1654,655.3 L1655.3,658.1 L1656.7,660.7 L1658.2,663.2 L1659.9,665.5 L1661.7,667.5 L1663.8,669.3 L1666.1,670.8 L1668.6,672.2 L1671.2,673.3 L1674.1,674.3 L1677,675.2 L1680.1,676 L1683.2,676.7 L1686.3,677.5 L1689.3,678.3 L1692.3,679.2 L1695.2,680.3 L1697.9,681.5 L1700.4,683 L1702.8,684.7 L1704.8,686.6 L1706.7,688.7 L1708.3,691.1 L1709.7,693.6 L1710.9,696.4 L1711.9,699.3 L1712.8,702.3 L1713.6,705.5 L1714.3,708.6 L1715,711.8 L1715.7,714.9 L1716.6,717.9 L1717.5,720.7 L1718.6,723.4 L1719.9,726 L1721.4,728.3 L1723.2,730.4 L1725.2,732.3 L1727.4,734.1 L1729.8,735.6 L1732.4,737.1 L1735.2,738.4 L1738.1,739.6 L1741,740.8 L1744,741.9 L1747,743.1 L1749.9,744.4 L1752.6,745.8 L1755.2,747.4 L1757.6,749.1 L1759.7,751 L1761.6,753.1 L1763.3,755.5 L1764.6,758 L1765.7,760.7 L1766.6,763.5 L1767.3,766.5 L1767.8,769.6 L1768.2,772.8 L1768.5,776 L1768.7,779.3 L1769.1,782.5 L1769.4,785.6 L1769.9,788.6 L1770.6,791.5 L1771.5,794.2 L1772.6,796.8 L1774,799.2 L1775.6,801.4 L1777.5,803.5 L1779.7,805.4 L1782,807.2 L1784.5,808.9 L1787.2,810.5 L1789.9,812.1 L1792.7,813.7 L1795.5,815.3 L1798.2,816.9 L1800.8,818.7 L1803.3,820.5 L1805.5,822.5 L1807.4,824.7 L1809.1,827 L1810.5,829.5 L1811.6,832.1 L1812.4,834.9 L1813,837.8 L1813.3,840.8 L1813.5,844 L1813.4,847.2 L1813.3,850.4 L1813.2,853.6 L1813,856.8 L1813,860 L1813,863.1 L1813.2,866.1 L1813.7,869 L1814.4,871.7 L1815.3,874.3 L1816.6,876.8 L1818.1,879.2 L1819.8,881.4 L1821.9,883.5 L1824.1,885.6 L1826.5,887.6 L1829,889.5 L1831.5,891.5 L1834.1,893.4 L1836.6,895.4 L1839,897.5 L1841.2,899.6 L1843.2,901.9 L1844.9,904.2 L1846.4,906.7 L1847.5,909.3 L1848.4,912 L1848.9,914.9 L1849.2,917.8 L1849.2,920.9 L1848.9,924 L1848.5,927.1 L1848,930.3 L1847.4,933.5 L1846.8,936.7 L1846.3,939.8 L1845.9,942.9 L1845.7,945.9 L1845.6,948.9 L1845.9,951.7 L1846.4,954.5 L1847.2,957.1 L1848.3,959.7 L1849.7,962.2 L1851.3,964.6 L1853.2,967 L1855.2,969.3 L1857.4,971.5 L1859.7,973.8 L1862,976.1 L1864.2,978.4 L1866.4,980.8 L1868.3,983.2 L1870.1,985.7 L1871.6,988.2 L1872.8,990.8 L1873.7,993.6 L1874.2,996.3 L1874.5,999.2 L1874.4,1002.2 L1874.1,1005.1 L1873.5,1008.2 L1872.8,1011.3 L1871.8,1014.3 L1870.8,1017.4 L1869.8,1020.5 L1868.9,1023.6 L1868,1026.6 L1867.3,1029.6 L1866.8,1032.5 L1866.6,1035.4 L1866.7,1038.2 L1867,1041 L1867.7,1043.7 L1868.6,1046.3 L1869.8,1049 L1871.3,1051.6 L1873,1054.1 L1874.8,1056.7 L1876.8,1059.2 L1878.7,1061.8 L1880.7,1064.4 L1882.5,1067 L1884.2,1069.7 L1885.7,1072.4 L1886.9,1075.1 L1887.8,1077.8 L1888.5,1080.6 L1888.7,1083.5 L1888.7,1086.4 L1888.4,1089.2 L1887.7,1092.2 L1886.8,1095.1 L1885.7,1098 L1884.4,1101 L1883,1103.9 L1881.6,1106.8 L1880.2,1109.7 L1878.9,1112.6 L1877.8,1115.5 L1876.8,1118.3 L1876.2,1121.1 L1875.7,1123.9 L1875.6,1126.7 L1875.8,1129.5 L1876.3,1132.3 L1877.1,1135.1 L1878.2,1137.8 L1879.4,1140.6 L1880.9,1143.4 L1882.4,1146.2 L1884,1149 L1885.6,1151.8 L1887.1,1154.7 L1888.5,1157.5 L1889.7,1160.4 L1890.6,1163.2 L1891.2,1166.1 L1891.6,1169 L1891.6,1171.8 L1891.3,1174.7 L1890.6,1177.5 L1889.7,1180.3 L1888.5,1183.1 L1887,1185.9 L1885.4,1188.6 L1883.7,1191.3 L1881.9,1194 L1880.1,1196.7 L1878.4,1199.4 L1876.9,1202.1 L1875.5,1204.8 L1874.4,1207.5 L1873.5,1210.2 L1872.9,1212.9 L1872.6,1215.7 L1872.7,1218.5 L1873,1221.3 L1873.6,1224.2 L1874.4,1227.1 L1875.4,1230.1 L1876.5,1233 L1877.8,1236 L1879,1239.1 L1880.1,1242.1 L1881.1,1245.1 L1882,1248.1 L1882.6,1251.1 L1883,1254 L1883,1256.9 L1882.8,1259.8 L1882.2,1262.5 L1881.3,1265.3 L1880,1267.9 L1878.5,1270.6 L1876.8,1273.1 L1874.9,1275.6 L1872.8,1278.1 L1870.7,1280.5 L1868.6,1283 L1866.5,1285.4 L1864.6,1287.8 L1862.8,1290.3 L1861.2,1292.8 L1859.9,1295.3 L1858.9,1298 L1858.2,1300.6 L1857.7,1303.4 L1857.6,1306.2 L1857.7,1309.1 L1858.1,1312.1 L1858.6,1315.2 L1859.3,1318.3 L1860.1,1321.4 L1860.9,1324.5 L1861.7,1327.7 L1862.3,1330.8 L1862.8,1333.9 L1863.1,1337 L1863.2,1339.9 L1862.9,1342.8 L1862.4,1345.7 L1861.5,1348.4 L1860.4,1351 L1858.9,1353.5 L1857.1,1355.9 L1855.1,1358.2 L1852.9,1360.5 L1850.6,1362.6 L1848.2,1364.8 L1845.8,1366.9 L1843.4,1369 L1841.1,1371.1 L1838.9,1373.3 L1837,1375.6 L1835.3,1377.9 L1833.8,1380.3 L1832.7,1382.8 L1831.8,1385.5 L1831.2,1388.2 L1830.8,1391.1 L1830.7,1394 L1830.8,1397.1 L1831.1,1400.2 L1831.4,1403.4 L1831.8,1406.6 L1832.1,1409.9 L1832.4,1413.1 L1832.6,1416.2 L1832.5,1419.3 L1832.2,1422.3 L1831.7,1425.2 L1830.9,1427.9 L1829.7,1430.5 L1828.3,1433 L1826.6,1435.3 L1824.6,1437.5 L1822.4,1439.6 L1820,1441.5 L1817.4,1443.4 L1814.8,1445.2 L1812.1,1447 L1809.4,1448.7 L1806.8,1450.5 L1804.4,1452.4 L1802.1,1454.3 L1800,1456.3 L1798.2,1458.5 L1796.6,1460.8 L1795.3,1463.2 L1794.2,1465.8 L1793.5,1468.5 L1792.9,1471.4 L1792.5,1474.4 L1792.3,1477.5 L1792.2,1480.7 L1792.2,1483.9 L1792.1,1487.2 L1792,1490.4 L1791.7,1493.6 L1791.3,1496.7 L1790.7,1499.6 L1789.9,1502.4 L1788.8,1505.1 L1787.4,1507.6 L1785.7,1509.9 L1783.8,1512 L1781.6,1513.9 L1779.2,1515.7 L1776.6,1517.4 L1773.9,1518.9 L1771,1520.3 L1768.1,1521.7 L1765.2,1523.1 L1762.4,1524.5 L1759.7,1525.9 L1757.1,1527.5 L1754.7,1529.2 L1752.5,1531 L1750.6,1533 L1748.9,1535.2 L1747.5,1537.6 L1746.3,1540.1 L1745.3,1542.8 L1744.5,1545.7 L1743.8,1548.7 L1743.2,1551.8 L1742.7,1555 L1742.2,1558.2 L1741.7,1561.4 L1741.1,1564.5 L1740.3,1567.5 L1739.4,1570.4 L1738.2,1573.2 L1736.9,1575.7 L1735.2,1578 L1733.4,1580.2 L1731.3,1582.1 L1728.9,1583.7 L1726.3,1585.2 L1723.6,1586.5 L1720.7,1587.7 L1717.7,1588.8 L1714.7,1589.8 L1711.6,1590.7 L1708.6,1591.7 L1705.7,1592.7 L1702.9,1593.9 L1700.3,1595.2 L1697.8,1596.6 L1695.6,1598.3 L1693.5,1600.1 L1691.7,1602.2 L1690.1,1604.5 L1688.7,1607 L1687.5,1609.7 L1686.4,1612.5 L1685.4,1615.5 L1684.4,1618.6 L1683.5,1621.7 L1682.6,1624.7 L1681.6,1627.8 L1680.5,1630.7 L1679.2,1633.5 L1677.8,1636.1 L1676.1,1638.5 L1674.3,1640.7 L1672.2,1642.6 L1669.9,1644.2 L1667.4,1645.6 L1664.7,1646.8 L1661.9,1647.8 L1658.9,1648.6 L1655.9,1649.3 L1652.7,1649.9 L1649.6,1650.4 L1646.5,1650.9 L1643.4,1651.5 L1640.4,1652.2 L1637.6,1653.1 L1634.9,1654.1 L1632.4,1655.4 L1630.1,1656.9 L1628,1658.6 L1626,1660.6 L1624.3,1662.8 L1622.6,1665.2 L1621.1,1667.8 L1619.7,1670.6 L1618.4,1673.5 L1617.1,1676.4 L1615.7,1679.3 L1614.3,1682.2 L1612.9,1685 L1611.3,1687.6 L1609.6,1690.1 L1607.7,1692.3 L1605.6,1694.2 L1603.4,1695.9 L1600.9,1697.3 L1598.3,1698.5 L1595.6,1699.4 L1592.6,1700 L1589.6,1700.4 L1586.5,1700.7 L1583.4,1700.9 L1580.2,1701 L1577,1701.1 L1573.9,1701.2 L1570.8,1701.5 L1567.9,1701.9 L1565,1702.5 L1562.3,1703.3 L1559.8,1704.3 L1557.4,1705.7 L1555.2,1707.3 L1553.1,1709.1 L1551.1,1711.3 L1549.3,1713.6 L1547.5,1716.1 L1545.7,1718.7 L1544,1721.4 L1542.3,1724.1 L1540.6,1726.8 L1538.8,1729.4 L1536.9,1731.8 L1534.9,1734.1 L1532.8,1736.1 L1530.5,1737.8 L1528.1,1739.3 L1525.5,1740.4 L1522.8,1741.3 L1520,1741.9 L1517.1,1742.2 L1514.1,1742.2 L1511,1742.1 L1507.8,1741.9 L1504.7,1741.5 L1501.5,1741.2 L1498.4,1740.9 L1495.3,1740.7 L1492.3,1740.6 L1489.4,1740.7 L1486.6,1741.1 L1483.9,1741.7 L1481.3,1742.6 L1478.9,1743.8 L1476.5,1745.3 L1474.3,1747 L1472.1,1749 L1470,1751.1 L1467.9,1753.5 L1465.8,1755.9 L1463.8,1758.3 L1461.7,1760.8 L1459.6,1763.1 L1457.4,1765.3 L1455.1,1767.3 L1452.8,1769.1 L1450.3,1770.6 L1447.8,1771.8 L1445.1,1772.7 L1442.4,1773.3 L1439.6,1773.5 L1436.6,1773.5 L1433.6,1773.2 L1430.6,1772.7 L1427.5,1772.1 L1424.4,1771.4 L1421.4,1770.6 L1418.3,1769.8 L1415.3,1769.1 L1412.3,1768.6 L1409.4,1768.2 L1406.5,1768.1 L1403.8,1768.3 L1401.1,1768.7 L1398.5,1769.5 L1395.9,1770.5 L1393.4,1771.8 L1391,1773.4 L1388.6,1775.2 L1386.2,1777.2 L1383.8,1779.3 L1381.5,1781.4 L1379.1,1783.5 L1376.7,1785.6 L1374.3,1787.5 L1371.8,1789.3 L1369.2,1790.8 L1366.6,1792 L1363.9,1792.9 L1361.2,1793.6 L1358.4,1793.8 L1355.6,1793.8 L1352.7,1793.4 L1349.8,1792.8 L1346.9,1792 L1343.9,1791 L1341,1789.8 L1338,1788.6 L1335.1,1787.4 L1332.2,1786.3 L1329.3,1785.3 L1326.5,1784.5 L1323.6,1783.9 L1320.9,1783.6 L1318.1,1783.5 L1315.4,1783.8 L1312.7,1784.4 L1310.1,1785.3 L1307.5,1786.4 L1304.8,1787.8 L1302.2,1789.4 L1299.6,1791.1 L1297,1792.9 L1294.3,1794.7 L1291.7,1796.4 L1289,1798 L1286.3,1799.5 L1283.6,1800.7 L1280.8,1801.6 L1278.1,1802.3 L1275.3,1802.6 L1272.5,1802.6 L1269.7,1802.2 L1266.9,1801.6 L1264.1,1800.7 L1261.3,1799.5 L1258.5,1798.1 L1255.8,1796.6 L1253,1795 L1250.3,1793.4 L1247.5,1791.8 L1244.8,1790.4 L1242.1,1789.1 L1239.4,1788.1 L1236.7,1787.3 L1234,1786.8 L1231.3,1786.6 L1228.5,1786.7 L1225.8,1787.1 L1223,1787.8 L1220.3,1788.8 L1217.5,1789.9 L1214.6,1791.2 L1211.8,1792.6 L1208.9,1794 L1206.1,1795.4 L1203.2,1796.6 L1200.3,1797.7 L1197.5,1798.6 L1194.6,1799.3 L1191.8,1799.6 L1189,1799.7 L1186.2,1799.4 L1183.5,1798.7 L1180.8,1797.8 L1178.1,1796.6 L1175.5,1795.1 L1172.9,1793.4 L1170.4,1791.5 L1167.8,1789.6 L1165.3,1787.6 L1162.8,1785.7 L1160.3,1783.8 L1157.8,1782.1 L1155.3,1780.7 L1152.7,1779.4 L1150.1,1778.5 L1147.5,1777.8 L1144.8,1777.4 L1142,1777.4 L1139.2,1777.6 L1136.4,1778.1 L1133.5,1778.7 L1130.5,1779.6 L1127.5,1780.5 L1124.5,1781.5 L1121.5,1782.5 L1118.4,1783.4 L1115.4,1784.2 L1112.5,1784.7 L1109.5,1785.1 L1106.7,1785.1 L1103.9,1784.8 L1101.1,1784.3 L1098.5,1783.3 L1095.9,1782.1 L1093.4,1780.6 L1091,1778.8 L1088.6,1776.9 L1086.4,1774.7 L1084.1,1772.4 L1081.9,1770.1 L1079.7,1767.9 L1077.5,1765.6 L1075.2,1763.6 L1072.9,1761.7 L1070.6,1760 L1068.2,1758.6 L1065.7,1757.5 L1063.1,1756.7 L1060.4,1756.1 L1057.6,1755.9 L1054.7,1755.9 L1051.7,1756.1 L1048.7,1756.5 L1045.6,1757 L1042.5,1757.6 L1039.4,1758.1 L1036.2,1758.6 L1033.2,1759 L1030.1,1759.2 L1027.1,1759.2 L1024.3,1758.9 L1021.5,1758.4 L1018.8,1757.5 L1016.3,1756.3 L1013.8,1754.8 L1011.5,1753.1 L1009.4,1751.1 L1007.3,1748.8 L1005.3,1746.4 L1003.3,1743.9 L1001.4,1741.3 L999.6,1738.7 L997.7,1736.2 L995.7,1733.8 L993.8,1731.5 L991.7,1729.5 L989.5,1727.7 L987.2,1726.1 L984.8,1724.9 L982.2,1723.9 L979.5,1723.2 L976.7,1722.7 L973.8,1722.4 L970.8,1722.3 L967.7,1722.4 L964.5,1722.5 L961.3,1722.6 L958.1,1722.7 L955,1722.7 L951.9,1722.5 L948.9,1722.2 L946.1,1721.6 L943.4,1720.7 L940.8,1719.6 L938.4,1718.2 L936.1,1716.4 L934,1714.5 L932.1,1712.2 L930.3,1709.8 L928.6,1707.1 L927,1704.4 L925.5,1701.6 L924,1698.7 L922.4,1695.9 L920.9,1693.2 L919.2,1690.7 L917.5,1688.3 L915.6,1686.1 L913.6,1684.2 L911.4,1682.6 L909.1,1681.1 L906.5,1680 L903.9,1679.1 L901,1678.3 L898.1,1677.8 L895,1677.4 L891.9,1677 L888.7,1676.7 L885.5,1676.4 L882.4,1676 L879.3,1675.4 L876.4,1674.7 L873.6,1673.8 L870.9,1672.7 L868.5,1671.2 L866.2,1669.6 L864.2,1667.6 L862.3,1665.4 L860.6,1663 L859.1,1660.4 L857.8,1657.6 L856.5,1654.7 L855.4,1651.7 L854.2,1648.7 L853.1,1645.7 L852,1642.7 L850.7,1639.9 L849.3,1637.3 L847.8,1634.8 L846.1,1632.5 L844.3,1630.5 L842.2,1628.7 L839.9,1627.2 L837.4,1625.8 L834.8,1624.7 L831.9,1623.7 L829,1622.8 L825.9,1622 L822.8,1621.3 L819.7,1620.5 L816.7,1619.7 L813.7,1618.8 L810.8,1617.7 L808.1,1616.5 L805.6,1615 L803.2,1613.3 L801.2,1611.4 L799.3,1609.3 L797.7,1606.9 L796.3,1604.4 L795.1,1601.6 L794.1,1598.7 L793.2,1595.7 L792.4,1592.5 L791.7,1589.4 L791,1586.2 L790.3,1583.1 L789.4,1580.1 L788.5,1577.3 L787.4,1574.6 L786.1,1572 L784.6,1569.7 L782.8,1567.6 L780.8,1565.7 L778.6,1563.9 L776.2,1562.4 L773.6,1560.9 L770.8,1559.6 L767.9,1558.4 L765,1557.2 L762,1556.1 L759,1554.9 L756.1,1553.6 L753.4,1552.2 L750.8,1550.6 L748.4,1548.9 L746.3,1547 L744.4,1544.9 L742.7,1542.5 L741.4,1540 L740.3,1537.3 L739.4,1534.5 L738.7,1531.5 L738.2,1528.4 L737.8,1525.2 L737.5,1522 L737.3,1518.7 L736.9,1515.5 L736.6,1512.4 L736.1,1509.4 L735.4,1506.5 L734.5,1503.8 L733.4,1501.2 L732,1498.8 L730.4,1496.6 L728.5,1494.5 L726.3,1492.6 L724,1490.8 L721.5,1489.1 L718.8,1487.5 L716.1,1485.9 L713.3,1484.3 L710.5,1482.7 L707.8,1481.1 L705.2,1479.3 L702.7,1477.5 L700.5,1475.5 L698.6,1473.3 L696.9,1471 L695.5,1468.5 L694.4,1465.9 L693.6,1463.1 L693,1460.2 L692.7,1457.2 L692.5,1454 L692.6,1450.8 L692.7,1447.6 L692.8,1444.4 L693,1441.2 L693,1438 L693,1434.9 L692.8,1431.9 L692.3,1429 L691.6,1426.3 L690.7,1423.7 L689.4,1421.2 L687.9,1418.8 L686.2,1416.6 L684.1,1414.5 L681.9,1412.4 L679.5,1410.4 L677,1408.5 L674.5,1406.5 L671.9,1404.6 L669.4,1402.6 L667,1400.5 L664.8,1398.4 L662.8,1396.1 L661.1,1393.8 L659.6,1391.3 L658.5,1388.7 L657.6,1386 L657.1,1383.1 L656.8,1380.2 L656.8,1377.1 L657.1,1374 L657.5,1370.9 L658,1367.7 L658.6,1364.5 L659.2,1361.3 L659.7,1358.2 L660.1,1355.1 L660.3,1352.1 L660.4,1349.1 L660.1,1346.3 L659.6,1343.5 L658.8,1340.9 L657.7,1338.3 L656.3,1335.8 L654.7,1333.4 L652.8,1331 L650.8,1328.7 L648.6,1326.5 L646.3,1324.2 L644,1321.9 L641.8,1319.6 L639.6,1317.2 L637.7,1314.8 L635.9,1312.3 L634.4,1309.8 L633.2,1307.2 L632.3,1304.4 L631.8,1301.7 L631.5,1298.8 L631.6,1295.8 L631.9,1292.9 L632.5,1289.8 L633.2,1286.7 L634.2,1283.7 L635.2,1280.6 L636.2,1277.5 L637.1,1274.4 L638,1271.4 L638.7,1268.4 L639.2,1265.5 L639.4,1262.6 L639.3,1259.8 L639,1257 L638.3,1254.3 L637.4,1251.7 L636.2,1249 L634.7,1246.4 L633,1243.9 L631.2,1241.3 L629.2,1238.8 L627.3,1236.2 L625.3,1233.6 L623.5,1231 L621.8,1228.3 L620.3,1225.6 L619.1,1222.9 L618.2,1220.2 L617.5,1217.4 L617.3,1214.5 L617.3,1211.6 L617.6,1208.8 L618.3,1205.8 L619.2,1202.9 L620.3,1200 L621.6,1197 L623,1194.1 L624.4,1191.2 L625.8,1188.3 L627.1,1185.4 L628.2,1182.5 L629.2,1179.7 L629.8,1176.9 L630.3,1174.1 L630.4,1171.3 L630.2,1168.5 L629.7,1165.7 L628.9,1162.9 L627.8,1160.2 L626.6,1157.4 L625.1,1154.6 L623.6,1151.8 L622,1149 L620.4,1146.2 L618.9,1143.3 L617.5,1140.5 L616.3,1137.6 L615.4,1134.8 L614.8,1131.9 L614.4,1129 L614.4,1126.2 L614.7,1123.3 L615.4,1120.5 L616.3,1117.7 L617.5,1114.9 L619,1112.1 L620.6,1109.4 L622.3,1106.7 L624.1,1104 L625.9,1101.3 L627.6,1098.6 L629.1,1095.9 L630.5,1093.2 L631.6,1090.5 L632.5,1087.8 L633.1,1085.1 L633.4,1082.3 L633.3,1079.5 L633,1076.7 L632.4,1073.8 L631.6,1070.9 L630.6,1067.9 L629.5,1065 L628.2,1062 L627,1058.9 L625.9,1055.9 L624.9,1052.9 L624,1049.9 L623.4,1046.9 L623,1044 L623,1041.1 L623.2,1038.2 L623.8,1035.5 L624.7,1032.7 L626,1030.1 L627.5,1027.4 L629.2,1024.9 L631.1,1022.4 L633.2,1019.9 L635.3,1017.5 L637.4,1015 L639.5,1012.6 L641.4,1010.2 L643.2,1007.7 L644.8,1005.2 L646.1,1002.7 L647.1,1000 L647.8,997.4 L648.3,994.6 L648.4,991.8 L648.3,988.9 L647.9,985.9 L647.4,982.8 L646.7,979.7 L645.9,976.6 L645.1,973.5 L644.3,970.3 L643.7,967.2 L643.2,964.1 L642.9,961 L642.8,958.1 L643.1,955.2 L643.6,952.3 L644.5,949.6 L645.6,947 L647.1,944.5 L648.9,942.1 L650.9,939.8 L653.1,937.5 L655.4,935.4 L657.8,933.2 L660.2,931.1 L662.6,929 L664.9,926.9 L667.1,924.7 L669,922.4 L670.7,920.1 L672.2,917.7 L673.3,915.2 L674.2,912.5 L674.8,909.8 L675.2,906.9 L675.3,904 L675.2,900.9 L674.9,897.8 L674.6,894.6 L674.2,891.4 L673.9,888.1 L673.6,884.9 L673.4,881.8 L673.5,878.7 L673.8,875.7 L674.3,872.8 L675.1,870.1 L676.3,867.5 L677.7,865 L679.4,862.7 L681.4,860.5 L683.6,858.4 L686,856.5 L688.6,854.6 L691.2,852.8 L693.9,851 L696.6,849.3 L699.2,847.5 L701.6,845.6 L703.9,843.7 L706,841.7 L707.8,839.5 L709.4,837.2 L710.7,834.8 L711.8,832.2 L712.5,829.5 L713.1,826.6 L713.5,823.6 L713.7,820.5 L713.8,817.3 L713.8,814.1 L713.9,810.8 L714,807.6 L714.3,804.4 L714.7,801.3 L715.3,798.4 L716.1,795.6 L717.2,792.9 L718.6,790.4 L720.3,788.1 L722.2,786 L724.4,784.1 L726.8,782.3 L729.4,780.6 L732.1,779.1 L735,777.7 L737.9,776.3 L740.8,774.9 L743.6,773.5 L746.3,772.1 L748.9,770.5 L751.3,768.8 L753.5,767 L755.4,765 L757.1,762.8 L758.5,760.4 L759.7,757.9 L760.7,755.2 L761.5,752.3 L762.2,749.3 L762.8,746.2 L763.3,743 L763.8,739.8 L764.3,736.6 L764.9,733.5 L765.7,730.5 L766.6,727.6 L767.8,724.8 L769.1,722.3 L770.8,720 L772.6,717.8 L774.7,715.9 L777.1,714.3 L779.7,712.8 L782.4,711.5 L785.3,710.3 L788.3,709.2 L791.3,708.2 L794.4,707.3 L797.4,706.3 L800.3,705.3 L803.1,704.1 L805.7,702.8 L808.2,701.4 L810.4,699.7 L812.5,697.9 L814.3,695.8 L815.9,693.5 L817.3,691 L818.5,688.3 L819.6,685.5 L820.6,682.5 L821.6,679.4 L822.5,676.3 L823.4,673.3 L824.4,670.2 L825.5,667.3 L826.8,664.5 L828.2,661.9 L829.9,659.5 L831.7,657.3 L833.8,655.4 L836.1,653.8 L838.6,652.4 L841.3,651.2 L844.1,650.2 L847.1,649.4 L850.1,648.7 L853.3,648.1 L856.4,647.6 L859.5,647.1 L862.6,646.5 L865.6,645.8 L868.4,644.9 L871.1,643.9 L873.6,642.6 L875.9,641.1 L878,639.4 L880,637.4 L881.7,635.2 L883.4,632.8 L884.9,630.2 L886.3,627.4 L887.6,624.5 L888.9,621.6 L890.3,618.7 L891.7,615.8 L893.1,613 L894.7,610.4 L896.4,607.9 L898.3,605.7 L900.4,603.8 L902.6,602.1 L905.1,600.7 L907.7,599.5 L910.4,598.6 L913.4,598 L916.4,597.6 L919.5,597.3 L922.6,597.1 L925.8,597 L929,596.9 L932.1,596.8 L935.2,596.5 L938.1,596.1 L941,595.5 L943.7,594.7 L946.2,593.7 L948.6,592.3 L950.8,590.7 L952.9,588.9 L954.9,586.7 L956.7,584.4 L958.5,581.9 L960.3,579.3 L962,576.6 L963.7,573.9 L965.4,571.2 L967.2,568.6 L969.1,566.2 L971.1,563.9 L973.2,561.9 L975.5,560.2 L977.9,558.7 L980.5,557.6 L983.2,556.7 L986,556.1 L988.9,555.8 L991.9,555.8 L995,555.9 L998.2,556.1 L1001.3,556.5 L1004.5,556.8 L1007.6,557.1 L1010.7,557.3 L1013.7,557.4 L1016.6,557.3 L1019.4,556.9 L1022.1,556.3 L1024.7,555.4 L1027.1,554.2 L1029.5,552.7 L1031.7,551 L1033.9,549 L1036,546.9 L1038.1,544.5 L1040.2,542.1 L1042.2,539.7 L1044.3,537.2 L1046.4,534.9 L1048.6,532.7 L1050.9,530.7 L1053.2,528.9 L1055.7,527.4 L1058.2,526.2 L1060.9,525.3 L1063.6,524.7 L1066.4,524.5 L1069.4,524.5 L1072.4,524.8 L1075.4,525.3 L1078.5,525.9 L1081.6,526.6 L1084.6,527.4 L1087.7,528.2 L1090.7,528.9 L1093.7,529.4 L1096.6,529.8 L1099.5,529.9 L1102.2,529.7 L1104.9,529.3 L1107.5,528.5 L1110.1,527.5 L1112.6,526.2 L1115,524.6 L1117.4,522.8 L1119.8,520.8 L1122.2,518.7 L1124.5,516.6 L1126.9,514.5 L1129.3,512.4 L1131.7,510.5 L1134.2,508.7 L1136.8,507.2 L1139.4,506 L1142.1,505.1 L1144.8,504.4 L1147.6,504.2 L1150.4,504.2 L1153.3,504.6 L1156.2,505.2 L1159.1,506 L1162.1,507 L1165,508.2 L1168,509.4 L1170.9,510.6 L1173.8,511.7 L1176.7,512.7 L1179.5,513.5 L1182.4,514.1 L1185.1,514.4 L1187.9,514.5 L1190.6,514.2 L1193.3,513.6 L1195.9,512.7 L1198.5,511.6 L1201.2,510.2 L1203.8,508.6 L1206.4,506.9 L1209,505.1 L1211.7,503.3 L1214.3,501.6 L1217,500 L1219.7,498.5 L1222.4,497.3 L1225.2,496.4 L1227.9,495.7 L1230.7,495.4 L1233.5,495.4 L1236.3,495.8 L1239.1,496.4 L1241.9,497.3 L1244.7,498.5 L1247.5,499.9 L1250.2,501.4Z" fill="none" stroke="#9c544e" stroke-width="17"/>
<path d="M1253,498.7 L1255.8,497.7 L1258.6,496.8 L1261.4,496 L1264.2,495.2 L1267,494.5 L1269.8,494 L1272.6,493.5 L1275.4,493.1 L1278.2,492.9 L1281,492.8 L1283.8,492.8 L1286.6,492.9 L1289.4,493.2 L1292.2,493.5 L1294.9,494 L1297.7,494.6 L1300.5,495.3 L1303.2,496.2 L1305.9,497.1 L1308.6,498.1 L1311.3,499.2 L1314,500.4 L1316.7,501.7 L1319.3,503 L1322,504.3 L1324.6,505.7 L1327.2,507.1 L1329.8,508.6 L1332.4,510 L1335,511.4 L1337.6,512.8 L1340.1,514.2 L1342.7,515.6 L1345.3,516.9 L1347.8,518.1 L1350.4,519.3 L1353,520.4 L1355.6,521.4 L1358.1,522.3 L1360.7,523.2 L1363.4,523.9 L1366,524.6 L1368.6,525.1 L1371.3,525.6 L1374,526 L1376.7,526.3 L1379.4,526.4 L1382.2,526.5 L1385,526.5 L1387.8,526.5 L1390.6,526.4 L1393.4,526.2 L1396.3,525.9 L1399.2,525.6 L1402.1,525.3 L1405,525 L1407.9,524.6 L1410.8,524.2 L1413.8,523.9 L1416.7,523.5 L1419.7,523.2 L1422.6,523 L1425.5,522.8 L1428.5,522.6 L1431.4,522.5 L1434.3,522.5 L1437.2,522.6 L1440.1,522.7 L1442.9,523 L1445.8,523.4 L1448.5,523.8 L1451.3,524.4 L1454,525.1 L1456.7,526 L1459.4,526.9 L1462,527.9 L1464.5,529.1 L1467.1,530.4 L1469.5,531.8 L1472,533.3 L1474.4,534.9 L1476.7,536.6 L1479.1,538.3 L1481.3,540.2 L1483.6,542.1 L1485.8,544 L1488,546 L1490.2,548.1 L1492.3,550.2 L1494.4,552.2 L1496.6,554.3 L1498.7,556.4 L1500.8,558.5 L1502.9,560.6 L1505,562.6 L1507.1,564.6 L1509.2,566.5 L1511.4,568.4 L1513.5,570.2 L1515.7,572 L1518,573.6 L1520.2,575.2 L1522.5,576.7 L1524.9,578.1 L1527.2,579.5 L1529.6,580.7 L1532.1,581.9 L1534.6,582.9 L1537.2,583.9 L1539.8,584.8 L1542.4,585.6 L1545.1,586.4 L1547.8,587.1 L1550.6,587.7 L1553.4,588.3 L1556.2,588.8 L1559.1,589.3 L1562,589.8 L1564.9,590.3 L1567.8,590.7 L1570.8,591.2 L1573.7,591.7 L1576.6,592.2 L1579.5,592.7 L1582.5,593.3 L1585.3,593.9 L1588.2,594.6 L1591,595.3 L1593.8,596.1 L1596.6,597 L1599.3,598 L1602,599.1 L1604.6,600.2 L1607.1,601.5 L1609.6,602.9 L1612,604.4 L1614.3,605.9 L1616.6,607.6 L1618.8,609.4 L1620.9,611.3 L1623,613.2 L1625,615.3 L1626.9,617.4 L1628.8,619.7 L1630.6,621.9 L1632.3,624.3 L1634,626.7 L1635.7,629.2 L1637.3,631.7 L1638.8,634.3 L1640.3,636.9 L1641.8,639.5 L1643.3,642.1 L1644.8,644.7 L1646.3,647.3 L1647.7,649.9 L1649.2,652.4 L1650.7,655 L1652.2,657.4 L1653.8,659.9 L1655.4,662.3 L1657,664.6 L1658.7,666.8 L1660.4,669 L1662.2,671.2 L1664,673.2 L1665.9,675.2 L1667.9,677.1 L1669.9,678.9 L1672,680.7 L1674.2,682.4 L1676.4,684 L1678.7,685.6 L1681,687.1 L1683.4,688.5 L1685.9,689.9 L1688.4,691.3 L1691,692.6 L1693.6,693.9 L1696.3,695.1 L1698.9,696.4 L1701.6,697.6 L1704.3,698.9 L1707,700.1 L1709.7,701.4 L1712.4,702.7 L1715.1,704 L1717.7,705.4 L1720.4,706.8 L1722.9,708.3 L1725.4,709.8 L1727.9,711.4 L1730.3,713 L1732.6,714.7 L1734.9,716.5 L1737,718.4 L1739.1,720.4 L1741.1,722.4 L1743,724.5 L1744.8,726.7 L1746.5,729 L1748.1,731.3 L1749.6,733.7 L1751.1,736.2 L1752.4,738.8 L1753.7,741.4 L1754.8,744.1 L1755.9,746.8 L1757,749.6 L1757.9,752.4 L1758.8,755.3 L1759.7,758.2 L1760.5,761.1 L1761.2,764 L1762,766.9 L1762.7,769.8 L1763.5,772.8 L1764.2,775.7 L1764.9,778.6 L1765.7,781.4 L1766.4,784.3 L1767.3,787.1 L1768.1,789.8 L1769,792.5 L1770,795.2 L1771.1,797.8 L1772.2,800.4 L1773.3,802.9 L1774.6,805.4 L1775.9,807.8 L1777.4,810.2 L1778.9,812.5 L1780.4,814.7 L1782.1,816.9 L1783.9,819.1 L1785.7,821.2 L1787.6,823.3 L1789.6,825.3 L1791.6,827.3 L1793.7,829.3 L1795.9,831.3 L1798.1,833.2 L1800.3,835.2 L1802.5,837.1 L1804.8,839 L1807.1,841 L1809.4,842.9 L1811.6,844.9 L1813.9,846.9 L1816.1,848.9 L1818.3,851 L1820.4,853.1 L1822.5,855.2 L1824.5,857.4 L1826.4,859.6 L1828.2,861.9 L1830,864.2 L1831.6,866.5 L1833.2,869 L1834.6,871.4 L1836,874 L1837.2,876.5 L1838.3,879.2 L1839.3,881.9 L1840.2,884.6 L1841,887.4 L1841.7,890.2 L1842.2,893 L1842.7,895.9 L1843.1,898.8 L1843.4,901.8 L1843.6,904.8 L1843.8,907.7 L1843.9,910.8 L1843.9,913.8 L1843.9,916.8 L1843.8,919.8 L1843.8,922.9 L1843.7,925.9 L1843.6,928.9 L1843.6,931.9 L1843.5,934.9 L1843.5,937.8 L1843.5,940.8 L1843.6,943.7 L1843.7,946.6 L1843.9,949.5 L1844.2,952.3 L1844.5,955.1 L1844.9,957.9 L1845.4,960.6 L1846,963.3 L1846.7,966 L1847.5,968.6 L1848.4,971.3 L1849.3,973.9 L1850.4,976.4 L1851.6,979 L1852.8,981.5 L1854.1,984 L1855.5,986.6 L1857,989 L1858.5,991.5 L1860.1,994 L1861.7,996.5 L1863.3,999 L1865,1001.5 L1866.7,1003.9 L1868.4,1006.4 L1870.1,1009 L1871.7,1011.5 L1873.3,1014 L1874.9,1016.6 L1876.5,1019.2 L1877.9,1021.8 L1879.3,1024.4 L1880.7,1027 L1881.9,1029.7 L1883,1032.4 L1884.1,1035.1 L1885,1037.9 L1885.8,1040.6 L1886.5,1043.4 L1887.1,1046.2 L1887.5,1049.1 L1887.9,1051.9 L1888.1,1054.8 L1888.2,1057.6 L1888.1,1060.5 L1888,1063.4 L1887.8,1066.4 L1887.4,1069.3 L1887,1072.2 L1886.5,1075.1 L1885.9,1078.1 L1885.2,1081 L1884.4,1083.9 L1883.7,1086.8 L1882.8,1089.8 L1882,1092.7 L1881.1,1095.6 L1880.3,1098.5 L1879.4,1101.3 L1878.5,1104.2 L1877.7,1107.1 L1876.9,1109.9 L1876.2,1112.8 L1875.5,1115.6 L1874.9,1118.4 L1874.4,1121.2 L1873.9,1124 L1873.5,1126.8 L1873.2,1129.6 L1873,1132.4 L1872.9,1135.1 L1872.9,1137.9 L1873,1140.7 L1873.2,1143.5 L1873.5,1146.2 L1873.9,1149 L1874.3,1151.8 L1874.9,1154.6 L1875.5,1157.3 L1876.3,1160.1 L1877,1162.9 L1877.9,1165.8 L1878.7,1168.6 L1879.7,1171.4 L1880.6,1174.2 L1881.6,1177.1 L1882.5,1180 L1883.5,1182.8 L1884.5,1185.7 L1885.4,1188.6 L1886.3,1191.5 L1887.1,1194.4 L1887.9,1197.3 L1888.6,1200.2 L1889.2,1203.1 L1889.7,1206 L1890.2,1208.9 L1890.5,1211.8 L1890.8,1214.7 L1890.9,1217.6 L1890.9,1220.5 L1890.8,1223.4 L1890.5,1226.2 L1890.2,1229.1 L1889.7,1231.9 L1889.1,1234.7 L1888.4,1237.5 L1887.6,1240.3 L1886.6,1243 L1885.6,1245.8 L1884.5,1248.5 L1883.2,1251.2 L1881.9,1253.8 L1880.5,1256.5 L1879.1,1259.1 L1877.6,1261.7 L1876.1,1264.3 L1874.5,1266.9 L1872.9,1269.5 L1871.3,1272 L1869.7,1274.6 L1868.1,1277.1 L1866.5,1279.7 L1865,1282.2 L1863.5,1284.7 L1862.1,1287.3 L1860.7,1289.8 L1859.4,1292.4 L1858.2,1294.9 L1857,1297.5 L1855.9,1300.1 L1855,1302.7 L1854.1,1305.3 L1853.3,1308 L1852.6,1310.7 L1852,1313.4 L1851.5,1316.1 L1851.1,1318.9 L1850.7,1321.6 L1850.5,1324.5 L1850.3,1327.3 L1850.2,1330.2 L1850.2,1333.1 L1850.2,1336 L1850.3,1338.9 L1850.4,1341.9 L1850.6,1344.9 L1850.7,1347.9 L1850.9,1350.9 L1851.1,1353.9 L1851.3,1356.9 L1851.4,1359.9 L1851.5,1363 L1851.6,1366 L1851.6,1369 L1851.6,1372 L1851.4,1375 L1851.3,1377.9 L1851,1380.9 L1850.6,1383.8 L1850.1,1386.6 L1849.5,1389.5 L1848.9,1392.3 L1848.1,1395 L1847.2,1397.8 L1846.1,1400.4 L1845,1403 L1843.7,1405.6 L1842.4,1408.1 L1840.9,1410.6 L1839.4,1413 L1837.7,1415.4 L1835.9,1417.8 L1834.1,1420 L1832.2,1422.3 L1830.2,1424.5 L1828.1,1426.6 L1826,1428.8 L1823.9,1430.9 L1821.7,1432.9 L1819.5,1435 L1817.3,1437 L1815.1,1439.1 L1812.9,1441.1 L1810.7,1443.1 L1808.5,1445.1 L1806.4,1447.1 L1804.3,1449.2 L1802.3,1451.2 L1800.3,1453.3 L1798.4,1455.4 L1796.6,1457.6 L1794.8,1459.8 L1793.1,1462 L1791.5,1464.2 L1790,1466.5 L1788.6,1468.9 L1787.2,1471.3 L1786,1473.8 L1784.8,1476.3 L1783.7,1478.8 L1782.7,1481.4 L1781.7,1484.1 L1780.9,1486.8 L1780,1489.5 L1779.3,1492.3 L1778.5,1495.2 L1777.9,1498 L1777.2,1500.9 L1776.6,1503.8 L1775.9,1506.7 L1775.3,1509.7 L1774.7,1512.6 L1774,1515.6 L1773.4,1518.5 L1772.7,1521.5 L1771.9,1524.4 L1771.1,1527.3 L1770.2,1530.1 L1769.3,1532.9 L1768.3,1535.7 L1767.2,1538.4 L1766.1,1541.1 L1764.8,1543.7 L1763.5,1546.3 L1762.1,1548.7 L1760.5,1551.1 L1758.9,1553.5 L1757.2,1555.7 L1755.3,1557.9 L1753.4,1560 L1751.4,1562 L1749.3,1564 L1747.1,1565.9 L1744.9,1567.7 L1742.5,1569.4 L1740.1,1571.1 L1737.7,1572.7 L1735.2,1574.3 L1732.6,1575.8 L1730,1577.2 L1727.4,1578.6 L1724.7,1580 L1722.1,1581.4 L1719.4,1582.7 L1716.8,1584.1 L1714.1,1585.4 L1711.5,1586.8 L1708.9,1588.1 L1706.3,1589.5 L1703.8,1590.9 L1701.3,1592.4 L1698.9,1593.8 L1696.5,1595.4 L1694.2,1596.9 L1692,1598.6 L1689.8,1600.3 L1687.7,1602 L1685.7,1603.9 L1683.7,1605.8 L1681.8,1607.8 L1680,1609.8 L1678.2,1611.9 L1676.5,1614.1 L1674.8,1616.4 L1673.2,1618.7 L1671.7,1621.1 L1670.2,1623.5 L1668.7,1626 L1667.3,1628.5 L1665.9,1631.1 L1664.5,1633.7 L1663.1,1636.3 L1661.7,1639 L1660.4,1641.6 L1659,1644.3 L1657.5,1646.9 L1656.1,1649.6 L1654.6,1652.2 L1653.1,1654.8 L1651.6,1657.3 L1650,1659.8 L1648.3,1662.2 L1646.6,1664.6 L1644.8,1666.9 L1643,1669.1 L1641,1671.2 L1639,1673.3 L1637,1675.2 L1634.8,1677.1 L1632.6,1678.8 L1630.3,1680.5 L1628,1682 L1625.6,1683.5 L1623.1,1684.9 L1620.5,1686.1 L1617.9,1687.3 L1615.2,1688.4 L1612.5,1689.4 L1609.7,1690.3 L1606.9,1691.2 L1604.1,1691.9 L1601.2,1692.7 L1598.3,1693.3 L1595.4,1694 L1592.5,1694.6 L1589.6,1695.2 L1586.7,1695.7 L1583.8,1696.3 L1580.9,1696.8 L1578,1697.4 L1575.2,1698 L1572.3,1698.7 L1569.6,1699.3 L1566.8,1700.1 L1564.1,1700.9 L1561.5,1701.7 L1558.8,1702.6 L1556.3,1703.6 L1553.7,1704.7 L1551.3,1705.8 L1548.8,1707.1 L1546.5,1708.4 L1544.1,1709.8 L1541.8,1711.3 L1539.6,1712.9 L1537.4,1714.5 L1535.2,1716.3 L1533.1,1718.1 L1531,1720 L1528.9,1721.9 L1526.8,1723.9 L1524.8,1726 L1522.8,1728.1 L1520.7,1730.2 L1518.7,1732.4 L1516.7,1734.6 L1514.6,1736.7 L1512.6,1738.9 L1510.5,1741.1 L1508.4,1743.2 L1506.3,1745.3 L1504.1,1747.3 L1501.9,1749.3 L1499.7,1751.2 L1497.5,1753.1 L1495.2,1754.8 L1492.8,1756.5 L1490.4,1758.1 L1488,1759.6 L1485.5,1760.9 L1483,1762.2 L1480.4,1763.4 L1477.8,1764.4 L1475.2,1765.3 L1472.5,1766.1 L1469.7,1766.8 L1467,1767.4 L1464.2,1767.9 L1461.3,1768.2 L1458.5,1768.5 L1455.6,1768.7 L1452.7,1768.8 L1449.7,1768.8 L1446.8,1768.7 L1443.9,1768.6 L1440.9,1768.5 L1437.9,1768.3 L1435,1768 L1432,1767.8 L1429.1,1767.5 L1426.1,1767.3 L1423.2,1767 L1420.3,1766.8 L1417.4,1766.6 L1414.6,1766.5 L1411.7,1766.4 L1408.9,1766.3 L1406.1,1766.4 L1403.3,1766.5 L1400.6,1766.7 L1397.9,1767 L1395.2,1767.3 L1392.5,1767.8 L1389.8,1768.3 L1387.2,1769 L1384.6,1769.7 L1382,1770.6 L1379.4,1771.5 L1376.9,1772.6 L1374.3,1773.7 L1371.8,1774.8 L1369.3,1776.1 L1366.7,1777.4 L1364.2,1778.8 L1361.7,1780.3 L1359.2,1781.7 L1356.7,1783.2 L1354.1,1784.7 L1351.6,1786.3 L1349,1787.8 L1346.5,1789.3 L1343.9,1790.8 L1341.3,1792.2 L1338.7,1793.6 L1336.1,1795 L1333.5,1796.3 L1330.8,1797.5 L1328.1,1798.6 L1325.4,1799.6 L1322.7,1800.5 L1320,1801.4 L1317.3,1802.1 L1314.5,1802.7 L1311.7,1803.1 L1309,1803.5 L1306.2,1803.7 L1303.4,1803.8 L1300.5,1803.8 L1297.7,1803.7 L1294.9,1803.4 L1292.1,1803.1 L1289.3,1802.6 L1286.4,1802 L1283.6,1801.4 L1280.8,1800.6 L1278,1799.8 L1275.2,1798.9 L1272.4,1798 L1269.6,1797 L1266.8,1796 L1264,1794.9 L1261.2,1793.9 L1258.5,1792.8 L1255.7,1791.7 L1253,1790.7 L1250.3,1789.7 L1247.5,1788.8 L1244.8,1787.8 L1242.1,1787 L1239.4,1786.2 L1236.7,1785.5 L1234,1784.9 L1231.3,1784.3 L1228.6,1783.9 L1225.9,1783.5 L1223.3,1783.3 L1220.6,1783.1 L1217.8,1783.1 L1215.1,1783.1 L1212.4,1783.2 L1209.7,1783.5 L1206.9,1783.8 L1204.2,1784.2 L1201.4,1784.7 L1198.6,1785.2 L1195.9,1785.8 L1193.1,1786.5 L1190.2,1787.2 L1187.4,1787.9 L1184.6,1788.6 L1181.7,1789.4 L1178.9,1790.2 L1176,1790.9 L1173.1,1791.7 L1170.3,1792.4 L1167.4,1793 L1164.5,1793.6 L1161.6,1794.2 L1158.7,1794.7 L1155.8,1795.1 L1153,1795.4 L1150.1,1795.6 L1147.3,1795.7 L1144.4,1795.7 L1141.6,1795.5 L1138.8,1795.3 L1136,1794.9 L1133.3,1794.5 L1130.5,1793.9 L1127.8,1793.2 L1125.1,1792.3 L1122.4,1791.4 L1119.8,1790.3 L1117.2,1789.1 L1114.6,1787.9 L1112.1,1786.5 L1109.5,1785.1 L1107,1783.5 L1104.5,1781.9 L1102.1,1780.3 L1099.7,1778.6 L1097.2,1776.9 L1094.8,1775.1 L1092.5,1773.3 L1090.1,1771.5 L1087.7,1769.7 L1085.3,1768 L1083,1766.2 L1080.6,1764.5 L1078.3,1762.9 L1075.9,1761.3 L1073.5,1759.7 L1071.1,1758.3 L1068.7,1756.9 L1066.3,1755.6 L1063.8,1754.3 L1061.3,1753.2 L1058.8,1752.1 L1056.3,1751.2 L1053.7,1750.3 L1051.1,1749.6 L1048.5,1748.9 L1045.8,1748.3 L1043.1,1747.8 L1040.3,1747.4 L1037.6,1747 L1034.8,1746.7 L1031.9,1746.5 L1029.1,1746.3 L1026.2,1746.2 L1023.3,1746.1 L1020.4,1746.1 L1017.4,1746 L1014.5,1746 L1011.5,1745.9 L1008.5,1745.8 L1005.6,1745.7 L1002.6,1745.6 L999.6,1745.4 L996.7,1745.2 L993.8,1744.9 L990.9,1744.5 L988,1744.1 L985.2,1743.6 L982.4,1742.9 L979.6,1742.2 L976.9,1741.4 L974.2,1740.4 L971.6,1739.4 L969.1,1738.2 L966.5,1737 L964.1,1735.6 L961.7,1734.1 L959.3,1732.5 L957,1730.8 L954.8,1729 L952.6,1727.1 L950.5,1725.2 L948.4,1723.1 L946.4,1721 L944.4,1718.8 L942.5,1716.6 L940.6,1714.3 L938.7,1712 L936.8,1709.6 L935,1707.3 L933.2,1704.9 L931.4,1702.5 L929.6,1700.1 L927.8,1697.8 L926,1695.5 L924.1,1693.2 L922.3,1691 L920.4,1688.8 L918.5,1686.7 L916.6,1684.6 L914.6,1682.6 L912.6,1680.7 L910.5,1678.9 L908.4,1677.1 L906.3,1675.5 L904.1,1673.9 L901.8,1672.4 L899.5,1670.9 L897.1,1669.6 L894.6,1668.3 L892.1,1667.1 L889.6,1666 L887,1664.9 L884.3,1663.9 L881.7,1662.9 L878.9,1662 L876.2,1661.1 L873.4,1660.2 L870.6,1659.3 L867.7,1658.5 L864.9,1657.6 L862,1656.7 L859.2,1655.8 L856.4,1654.9 L853.5,1653.9 L850.7,1652.9 L848,1651.9 L845.3,1650.8 L842.6,1649.6 L840,1648.4 L837.4,1647 L834.9,1645.6 L832.4,1644.1 L830.1,1642.5 L827.8,1640.9 L825.6,1639.1 L823.4,1637.2 L821.4,1635.3 L819.4,1633.3 L817.5,1631.1 L815.7,1628.9 L814,1626.6 L812.3,1624.3 L810.8,1621.8 L809.3,1619.3 L807.8,1616.7 L806.5,1614.1 L805.2,1611.4 L803.9,1608.7 L802.7,1606 L801.5,1603.2 L800.3,1600.4 L799.2,1597.6 L798.1,1594.8 L797,1592 L795.9,1589.3 L794.8,1586.5 L793.6,1583.8 L792.5,1581.1 L791.3,1578.5 L790,1575.9 L788.8,1573.3 L787.4,1570.8 L786,1568.4 L784.6,1566 L783.1,1563.7 L781.5,1561.5 L779.8,1559.3 L778,1557.2 L776.2,1555.1 L774.3,1553.1 L772.4,1551.2 L770.3,1549.3 L768.2,1547.5 L766,1545.7 L763.8,1544 L761.5,1542.3 L759.1,1540.6 L756.7,1539 L754.3,1537.3 L751.8,1535.7 L749.3,1534.1 L746.8,1532.5 L744.3,1530.9 L741.7,1529.3 L739.2,1527.6 L736.8,1525.9 L734.3,1524.2 L731.9,1522.5 L729.5,1520.7 L727.2,1518.9 L725,1517 L722.8,1515 L720.7,1513 L718.7,1510.9 L716.8,1508.8 L714.9,1506.6 L713.2,1504.3 L711.6,1502 L710,1499.6 L708.6,1497.1 L707.3,1494.6 L706.1,1492 L705,1489.3 L704,1486.6 L703,1483.9 L702.2,1481.1 L701.5,1478.2 L700.8,1475.3 L700.2,1472.4 L699.7,1469.4 L699.2,1466.5 L698.8,1463.5 L698.4,1460.5 L698,1457.5 L697.7,1454.5 L697.4,1451.5 L697,1448.5 L696.7,1445.5 L696.3,1442.6 L696,1439.6 L695.5,1436.7 L695.1,1433.9 L694.5,1431 L694,1428.2 L693.3,1425.5 L692.6,1422.8 L691.8,1420.1 L690.9,1417.5 L689.9,1414.9 L688.8,1412.3 L687.7,1409.8 L686.4,1407.4 L685.1,1404.9 L683.7,1402.5 L682.2,1400.2 L680.6,1397.8 L678.9,1395.5 L677.2,1393.3 L675.4,1391 L673.5,1388.7 L671.6,1386.5 L669.7,1384.3 L667.7,1382 L665.7,1379.8 L663.7,1377.6 L661.7,1375.3 L659.7,1373.1 L657.7,1370.8 L655.8,1368.5 L653.9,1366.2 L652.1,1363.8 L650.3,1361.4 L648.6,1359 L646.9,1356.5 L645.4,1354.1 L643.9,1351.5 L642.6,1349 L641.3,1346.4 L640.2,1343.7 L639.2,1341.1 L638.2,1338.3 L637.5,1335.6 L636.8,1332.8 L636.2,1330 L635.8,1327.1 L635.5,1324.3 L635.2,1321.4 L635.1,1318.4 L635.1,1315.5 L635.2,1312.5 L635.3,1309.6 L635.6,1306.6 L635.9,1303.6 L636.2,1300.6 L636.6,1297.6 L637,1294.6 L637.5,1291.6 L638,1288.6 L638.4,1285.6 L638.9,1282.6 L639.4,1279.7 L639.8,1276.7 L640.2,1273.8 L640.5,1270.9 L640.8,1268 L641,1265.2 L641.2,1262.3 L641.2,1259.5 L641.2,1256.7 L641.1,1253.9 L640.9,1251.1 L640.6,1248.3 L640.2,1245.6 L639.7,1242.9 L639.1,1240.2 L638.4,1237.5 L637.7,1234.8 L636.8,1232.1 L635.9,1229.4 L634.8,1226.7 L633.7,1224.1 L632.6,1221.4 L631.4,1218.7 L630.1,1216 L628.8,1213.4 L627.5,1210.7 L626.1,1208 L624.8,1205.3 L623.5,1202.6 L622.2,1199.8 L620.9,1197.1 L619.6,1194.3 L618.4,1191.6 L617.3,1188.8 L616.2,1186 L615.2,1183.2 L614.4,1180.4 L613.6,1177.6 L612.9,1174.7 L612.3,1171.9 L611.8,1169 L611.4,1166.2 L611.2,1163.3 L611.1,1160.5 L611.1,1157.6 L611.2,1154.7 L611.5,1151.9 L611.9,1149 L612.4,1146.1 L613,1143.3 L613.6,1140.4 L614.4,1137.6 L615.3,1134.8 L616.3,1131.9 L617.3,1129.1 L618.4,1126.3 L619.6,1123.5 L620.8,1120.7 L622,1118 L623.2,1115.2 L624.5,1112.5 L625.7,1109.7 L627,1107 L628.2,1104.3 L629.3,1101.5 L630.5,1098.8 L631.5,1096.1 L632.5,1093.4 L633.5,1090.7 L634.3,1088 L635.1,1085.3 L635.8,1082.6 L636.4,1079.8 L636.9,1077.1 L637.3,1074.4 L637.6,1071.6 L637.8,1068.8 L637.9,1066.1 L637.9,1063.3 L637.9,1060.5 L637.7,1057.6 L637.5,1054.8 L637.1,1051.9 L636.8,1049.1 L636.3,1046.2 L635.8,1043.2 L635.3,1040.3 L634.8,1037.4 L634.2,1034.4 L633.6,1031.5 L633,1028.5 L632.5,1025.5 L631.9,1022.5 L631.4,1019.6 L631,1016.6 L630.6,1013.6 L630.3,1010.6 L630,1007.6 L629.8,1004.7 L629.7,1001.7 L629.8,998.8 L629.9,995.9 L630.1,993 L630.4,990.1 L630.9,987.3 L631.5,984.5 L632.2,981.7 L633,979 L633.9,976.3 L635,973.6 L636.1,970.9 L637.4,968.3 L638.7,965.8 L640.2,963.2 L641.7,960.7 L643.4,958.2 L645.1,955.8 L646.8,953.4 L648.7,951 L650.5,948.6 L652.4,946.3 L654.3,943.9 L656.2,941.6 L658.2,939.3 L660.1,937 L662,934.7 L663.8,932.4 L665.7,930.1 L667.4,927.8 L669.2,925.5 L670.8,923.1 L672.4,920.8 L673.9,918.4 L675.4,916 L676.7,913.5 L678,911 L679.1,908.5 L680.2,906 L681.2,903.4 L682.1,900.8 L682.9,898.1 L683.6,895.4 L684.2,892.7 L684.8,889.9 L685.3,887.1 L685.7,884.3 L686.1,881.4 L686.4,878.5 L686.7,875.5 L687,872.6 L687.2,869.6 L687.4,866.6 L687.6,863.6 L687.9,860.5 L688.1,857.5 L688.4,854.5 L688.7,851.5 L689.1,848.5 L689.5,845.6 L690,842.6 L690.6,839.7 L691.2,836.8 L692,834 L692.8,831.2 L693.7,828.5 L694.7,825.8 L695.9,823.1 L697.1,820.5 L698.4,818 L699.9,815.6 L701.4,813.2 L703.1,810.8 L704.8,808.6 L706.7,806.4 L708.6,804.2 L710.6,802.1 L712.7,800.1 L714.9,798.1 L717.2,796.2 L719.5,794.3 L721.8,792.5 L724.2,790.7 L726.6,789 L729.1,787.2 L731.5,785.5 L734,783.8 L736.4,782.1 L738.9,780.4 L741.3,778.7 L743.7,777 L746,775.3 L748.3,773.5 L750.6,771.7 L752.8,769.9 L754.9,768.1 L757,766.2 L758.9,764.2 L760.8,762.2 L762.7,760.2 L764.4,758 L766.1,755.9 L767.7,753.6 L769.2,751.3 L770.7,749 L772,746.5 L773.3,744.1 L774.6,741.5 L775.8,738.9 L776.9,736.3 L778.1,733.6 L779.1,730.9 L780.2,728.1 L781.2,725.3 L782.2,722.5 L783.2,719.7 L784.2,716.9 L785.3,714 L786.3,711.2 L787.4,708.4 L788.5,705.6 L789.7,702.9 L790.9,700.2 L792.2,697.5 L793.5,694.9 L794.9,692.3 L796.4,689.8 L798,687.4 L799.6,685 L801.3,682.7 L803.1,680.5 L805,678.4 L807,676.4 L809.1,674.5 L811.3,672.6 L813.5,670.9 L815.8,669.2 L818.2,667.6 L820.6,666.1 L823.2,664.7 L825.8,663.3 L828.4,662.1 L831.1,660.9 L833.8,659.7 L836.5,658.6 L839.3,657.6 L842.1,656.5 L844.9,655.5 L847.8,654.6 L850.6,653.6 L853.4,652.6 L856.2,651.7 L858.9,650.7 L861.7,649.7 L864.4,648.7 L867,647.6 L869.6,646.5 L872.2,645.3 L874.7,644.1 L877.2,642.8 L879.5,641.4 L881.9,640 L884.2,638.5 L886.4,636.9 L888.5,635.2 L890.7,633.5 L892.7,631.7 L894.7,629.8 L896.6,627.8 L898.6,625.7 L900.4,623.6 L902.2,621.4 L904,619.2 L905.8,616.9 L907.5,614.6 L909.3,612.2 L911,609.8 L912.7,607.3 L914.4,604.9 L916.2,602.5 L917.9,600 L919.7,597.6 L921.5,595.2 L923.3,592.9 L925.2,590.6 L927.1,588.3 L929,586.1 L931.1,584 L933.1,581.9 L935.2,580 L937.4,578.1 L939.6,576.3 L941.9,574.7 L944.3,573.1 L946.7,571.6 L949.1,570.3 L951.7,569 L954.2,567.9 L956.9,566.8 L959.6,565.9 L962.3,565.1 L965.1,564.4 L967.9,563.7 L970.7,563.2 L973.6,562.7 L976.5,562.3 L979.5,562 L982.4,561.7 L985.4,561.4 L988.3,561.2 L991.3,561.1 L994.2,560.9 L997.2,560.8 L1000.1,560.6 L1003.1,560.4 L1006,560.2 L1008.8,560 L1011.7,559.7 L1014.5,559.4 L1017.3,559 L1020.1,558.6 L1022.8,558.1 L1025.5,557.5 L1028.1,556.8 L1030.8,556 L1033.3,555.2 L1035.9,554.2 L1038.4,553.2 L1040.9,552 L1043.3,550.8 L1045.7,549.5 L1048.1,548.1 L1050.5,546.6 L1052.8,545.1 L1055.1,543.4 L1057.5,541.8 L1059.8,540 L1062.1,538.2 L1064.4,536.4 L1066.7,534.6 L1069,532.7 L1071.3,530.8 L1073.6,529 L1075.9,527.1 L1078.3,525.3 L1080.7,523.5 L1083.1,521.8 L1085.5,520.1 L1087.9,518.5 L1090.4,516.9 L1092.9,515.5 L1095.5,514.1 L1098,512.9 L1100.6,511.7 L1103.2,510.7 L1105.9,509.7 L1108.6,508.9 L1111.3,508.2 L1114.1,507.6 L1116.8,507.2 L1119.6,506.8 L1122.4,506.6 L1125.3,506.5 L1128.1,506.5 L1131,506.6 L1133.9,506.8 L1136.8,507.1 L1139.7,507.4 L1142.6,507.9 L1145.5,508.4 L1148.4,508.9 L1151.3,509.5 L1154.2,510.2 L1157.1,510.8 L1159.9,511.5 L1162.8,512.2 L1165.7,512.8 L1168.5,513.4 L1171.4,514 L1174.2,514.6 L1177,515.1 L1179.8,515.6 L1182.6,515.9 L1185.3,516.2 L1188.1,516.4 L1190.8,516.6 L1193.5,516.6 L1196.3,516.6 L1199,516.4 L1201.7,516.2 L1204.3,515.8 L1207,515.4 L1209.7,514.8 L1212.4,514.2 L1215,513.5 L1217.7,512.7 L1220.4,511.8 L1223.1,510.9 L1225.7,509.9 L1228.4,508.8 L1231.1,507.7 L1233.8,506.6 L1236.5,505.4 L1239.3,504.3 L1242,503.1 L1244.7,502 L1247.5,500.8 L1250.2,499.8Z" fill="none" stroke="#2c0a0c" stroke-width="5" stroke-linejoin="round"/>
<path d="M1253,507.3 L1255.7,508.3 L1258.5,509.2 L1261.2,510.2 L1263.9,511 L1266.6,511.8 L1269.3,512.5 L1272,513.1 L1274.7,513.7 L1277.4,514.1 L1280.1,514.5 L1282.7,514.7 L1285.4,514.9 L1288.2,514.9 L1290.9,514.9 L1293.6,514.8 L1296.3,514.5 L1299.1,514.2 L1301.8,513.8 L1304.6,513.3 L1307.4,512.8 L1310.1,512.2 L1312.9,511.5 L1315.8,510.8 L1318.6,510.1 L1321.4,509.4 L1324.3,508.6 L1327.1,507.8 L1330,507.1 L1332.9,506.3 L1335.7,505.6 L1338.6,505 L1341.5,504.4 L1344.4,503.8 L1347.3,503.3 L1350.2,502.9 L1353,502.6 L1355.9,502.4 L1358.7,502.3 L1361.6,502.3 L1364.4,502.5 L1367.2,502.7 L1370,503.1 L1372.7,503.5 L1375.5,504.1 L1378.2,504.8 L1380.9,505.7 L1383.6,506.6 L1386.2,507.7 L1388.8,508.9 L1391.4,510.1 L1393.9,511.5 L1396.5,512.9 L1399,514.5 L1401.5,516.1 L1403.9,517.7 L1406.3,519.4 L1408.8,521.1 L1411.2,522.9 L1413.5,524.7 L1415.9,526.5 L1418.3,528.3 L1420.7,530 L1423,531.8 L1425.4,533.5 L1427.7,535.1 L1430.1,536.7 L1432.5,538.3 L1434.9,539.7 L1437.3,541.1 L1439.7,542.4 L1442.2,543.7 L1444.7,544.8 L1447.2,545.9 L1449.7,546.8 L1452.3,547.7 L1454.9,548.4 L1457.5,549.1 L1460.2,549.7 L1462.9,550.2 L1465.7,550.6 L1468.4,551 L1471.2,551.3 L1474.1,551.5 L1476.9,551.7 L1479.8,551.8 L1482.7,551.9 L1485.6,551.9 L1488.6,552 L1491.5,552 L1494.5,552.1 L1497.5,552.2 L1500.4,552.3 L1503.4,552.4 L1506.4,552.6 L1509.3,552.8 L1512.2,553.1 L1515.1,553.5 L1518,553.9 L1520.8,554.4 L1523.6,555.1 L1526.4,555.8 L1529.1,556.6 L1531.8,557.6 L1534.4,558.6 L1536.9,559.8 L1539.5,561 L1541.9,562.4 L1544.3,563.9 L1546.7,565.5 L1549,567.2 L1551.2,569 L1553.4,570.9 L1555.5,572.8 L1557.6,574.9 L1559.6,577 L1561.6,579.2 L1563.5,581.4 L1565.4,583.7 L1567.3,586 L1569.2,588.4 L1571,590.7 L1572.8,593.1 L1574.6,595.5 L1576.4,597.9 L1578.2,600.2 L1580,602.5 L1581.9,604.8 L1583.7,607 L1585.6,609.2 L1587.5,611.3 L1589.4,613.4 L1591.4,615.4 L1593.4,617.3 L1595.5,619.1 L1597.6,620.9 L1599.7,622.5 L1601.9,624.1 L1604.2,625.6 L1606.5,627.1 L1608.9,628.4 L1611.4,629.7 L1613.9,630.9 L1616.4,632 L1619,633.1 L1621.7,634.1 L1624.3,635.1 L1627.1,636 L1629.8,636.9 L1632.6,637.8 L1635.4,638.7 L1638.3,639.5 L1641.1,640.4 L1644,641.3 L1646.8,642.2 L1649.6,643.1 L1652.5,644.1 L1655.3,645.1 L1658,646.1 L1660.7,647.2 L1663.4,648.4 L1666,649.6 L1668.6,651 L1671.1,652.4 L1673.6,653.9 L1675.9,655.5 L1678.2,657.1 L1680.4,658.9 L1682.6,660.8 L1684.6,662.7 L1686.6,664.7 L1688.5,666.9 L1690.3,669.1 L1692,671.4 L1693.7,673.7 L1695.2,676.2 L1696.7,678.7 L1698.2,681.3 L1699.5,683.9 L1700.8,686.6 L1702.1,689.3 L1703.3,692 L1704.5,694.8 L1705.7,697.6 L1706.8,700.4 L1707.9,703.2 L1709,706 L1710.1,708.7 L1711.2,711.5 L1712.4,714.2 L1713.5,716.9 L1714.7,719.5 L1716,722.1 L1717.2,724.7 L1718.6,727.2 L1720,729.6 L1721.4,732 L1722.9,734.3 L1724.5,736.5 L1726.2,738.7 L1728,740.8 L1729.8,742.9 L1731.7,744.9 L1733.6,746.8 L1735.7,748.7 L1737.8,750.5 L1740,752.3 L1742.2,754 L1744.5,755.7 L1746.9,757.4 L1749.3,759 L1751.7,760.7 L1754.2,762.3 L1756.7,763.9 L1759.2,765.5 L1761.7,767.1 L1764.3,768.7 L1766.8,770.4 L1769.2,772.1 L1771.7,773.8 L1774.1,775.5 L1776.5,777.3 L1778.8,779.1 L1781,781 L1783.2,783 L1785.3,785 L1787.3,787.1 L1789.2,789.2 L1791.1,791.4 L1792.8,793.7 L1794.4,796 L1796,798.4 L1797.4,800.9 L1798.7,803.4 L1799.9,806 L1801,808.7 L1802,811.4 L1803,814.1 L1803.8,816.9 L1804.5,819.8 L1805.2,822.7 L1805.8,825.6 L1806.3,828.6 L1806.8,831.5 L1807.2,834.5 L1807.6,837.5 L1808,840.5 L1808.3,843.5 L1808.6,846.5 L1809,849.5 L1809.3,852.5 L1809.7,855.4 L1810,858.4 L1810.5,861.3 L1810.9,864.1 L1811.5,867 L1812,869.8 L1812.7,872.5 L1813.4,875.2 L1814.2,877.9 L1815.1,880.5 L1816.1,883.1 L1817.2,885.7 L1818.3,888.2 L1819.6,890.6 L1820.9,893.1 L1822.3,895.5 L1823.8,897.8 L1825.4,900.2 L1827.1,902.5 L1828.8,904.7 L1830.6,907 L1832.5,909.3 L1834.4,911.5 L1836.3,913.7 L1838.3,916 L1840.3,918.2 L1842.3,920.4 L1844.3,922.7 L1846.3,924.9 L1848.3,927.2 L1850.2,929.5 L1852.1,931.8 L1853.9,934.2 L1855.7,936.6 L1857.4,939 L1859.1,941.5 L1860.6,943.9 L1862.1,946.5 L1863.4,949 L1864.7,951.6 L1865.8,954.3 L1866.8,956.9 L1867.8,959.7 L1868.5,962.4 L1869.2,965.2 L1869.8,968 L1870.2,970.9 L1870.5,973.7 L1870.8,976.6 L1870.9,979.6 L1870.9,982.5 L1870.8,985.5 L1870.7,988.4 L1870.4,991.4 L1870.1,994.4 L1869.8,997.4 L1869.4,1000.4 L1869,1003.4 L1868.5,1006.4 L1868,1009.4 L1867.6,1012.4 L1867.1,1015.4 L1866.6,1018.3 L1866.2,1021.3 L1865.8,1024.2 L1865.5,1027.1 L1865.2,1030 L1865,1032.8 L1864.8,1035.7 L1864.8,1038.5 L1864.8,1041.3 L1864.9,1044.1 L1865.1,1046.9 L1865.4,1049.7 L1865.8,1052.4 L1866.3,1055.1 L1866.9,1057.8 L1867.6,1060.5 L1868.3,1063.2 L1869.2,1065.9 L1870.1,1068.6 L1871.2,1071.3 L1872.3,1073.9 L1873.4,1076.6 L1874.6,1079.3 L1875.9,1082 L1877.2,1084.6 L1878.5,1087.3 L1879.9,1090 L1881.2,1092.7 L1882.5,1095.4 L1883.8,1098.2 L1885.1,1100.9 L1886.4,1103.7 L1887.6,1106.4 L1888.7,1109.2 L1889.8,1112 L1890.8,1114.8 L1891.6,1117.6 L1892.4,1120.4 L1893.1,1123.3 L1893.7,1126.1 L1894.2,1129 L1894.6,1131.8 L1894.8,1134.7 L1894.9,1137.5 L1894.9,1140.4 L1894.8,1143.3 L1894.5,1146.1 L1894.1,1149 L1893.6,1151.9 L1893,1154.7 L1892.4,1157.6 L1891.6,1160.4 L1890.7,1163.2 L1889.7,1166.1 L1888.7,1168.9 L1887.6,1171.7 L1886.4,1174.5 L1885.2,1177.3 L1884,1180 L1882.8,1182.8 L1881.5,1185.5 L1880.3,1188.3 L1879,1191 L1877.8,1193.7 L1876.7,1196.5 L1875.5,1199.2 L1874.5,1201.9 L1873.5,1204.6 L1872.5,1207.3 L1871.7,1210 L1870.9,1212.7 L1870.2,1215.4 L1869.6,1218.2 L1869.1,1220.9 L1868.7,1223.6 L1868.4,1226.4 L1868.2,1229.2 L1868.1,1231.9 L1868.1,1234.7 L1868.1,1237.5 L1868.3,1240.4 L1868.5,1243.2 L1868.9,1246.1 L1869.2,1248.9 L1869.7,1251.8 L1870.2,1254.8 L1870.7,1257.7 L1871.2,1260.6 L1871.8,1263.6 L1872.4,1266.5 L1873,1269.5 L1873.5,1272.5 L1874.1,1275.5 L1874.6,1278.4 L1875,1281.4 L1875.4,1284.4 L1875.7,1287.4 L1876,1290.4 L1876.2,1293.3 L1876.3,1296.3 L1876.2,1299.2 L1876.1,1302.1 L1875.9,1305 L1875.6,1307.9 L1875.1,1310.7 L1874.5,1313.5 L1873.8,1316.3 L1873,1319 L1872.1,1321.7 L1871,1324.4 L1869.9,1327.1 L1868.6,1329.7 L1867.3,1332.2 L1865.8,1334.8 L1864.3,1337.3 L1862.6,1339.8 L1860.9,1342.2 L1859.2,1344.6 L1857.3,1347 L1855.5,1349.4 L1853.6,1351.7 L1851.7,1354.1 L1849.8,1356.4 L1847.8,1358.7 L1845.9,1361 L1844,1363.3 L1842.2,1365.6 L1840.3,1367.9 L1838.6,1370.2 L1836.8,1372.5 L1835.2,1374.9 L1833.6,1377.2 L1832.1,1379.6 L1830.6,1382 L1829.3,1384.5 L1828,1387 L1826.9,1389.5 L1825.8,1392 L1824.8,1394.6 L1823.9,1397.2 L1823.1,1399.9 L1822.4,1402.6 L1821.8,1405.3 L1821.2,1408.1 L1820.7,1410.9 L1820.3,1413.7 L1819.9,1416.6 L1819.6,1419.5 L1819.3,1422.5 L1819,1425.4 L1818.8,1428.4 L1818.6,1431.4 L1818.4,1434.4 L1818.1,1437.5 L1817.9,1440.5 L1817.6,1443.5 L1817.3,1446.5 L1816.9,1449.5 L1816.5,1452.4 L1816,1455.4 L1815.4,1458.3 L1814.8,1461.2 L1814,1464 L1813.2,1466.8 L1812.3,1469.5 L1811.3,1472.2 L1810.1,1474.9 L1808.9,1477.5 L1807.6,1480 L1806.1,1482.4 L1804.6,1484.8 L1802.9,1487.2 L1801.2,1489.4 L1799.3,1491.6 L1797.4,1493.8 L1795.4,1495.9 L1793.3,1497.9 L1791.1,1499.9 L1788.8,1501.8 L1786.5,1503.7 L1784.2,1505.5 L1781.8,1507.3 L1779.4,1509 L1776.9,1510.8 L1774.5,1512.5 L1772,1514.2 L1769.6,1515.9 L1767.1,1517.6 L1764.7,1519.3 L1762.3,1521 L1760,1522.7 L1757.7,1524.5 L1755.4,1526.3 L1753.2,1528.1 L1751.1,1529.9 L1749,1531.8 L1747.1,1533.8 L1745.2,1535.8 L1743.3,1537.8 L1741.6,1540 L1739.9,1542.1 L1738.3,1544.4 L1736.8,1546.7 L1735.3,1549 L1734,1551.5 L1732.7,1553.9 L1731.4,1556.5 L1730.2,1559.1 L1729.1,1561.7 L1727.9,1564.4 L1726.9,1567.1 L1725.8,1569.9 L1724.8,1572.7 L1723.8,1575.5 L1722.8,1578.3 L1721.8,1581.1 L1720.7,1584 L1719.7,1586.8 L1718.6,1589.6 L1717.5,1592.4 L1716.3,1595.1 L1715.1,1597.8 L1713.8,1600.5 L1712.5,1603.1 L1711.1,1605.7 L1709.6,1608.2 L1708,1610.6 L1706.4,1613 L1704.7,1615.3 L1702.9,1617.5 L1701,1619.6 L1699,1621.6 L1696.9,1623.5 L1694.7,1625.4 L1692.5,1627.1 L1690.2,1628.8 L1687.8,1630.4 L1685.4,1631.9 L1682.8,1633.3 L1680.2,1634.7 L1677.6,1635.9 L1674.9,1637.1 L1672.2,1638.3 L1669.5,1639.4 L1666.7,1640.4 L1663.9,1641.5 L1661.1,1642.5 L1658.2,1643.4 L1655.4,1644.4 L1652.6,1645.4 L1649.8,1646.3 L1647.1,1647.3 L1644.3,1648.3 L1641.6,1649.3 L1639,1650.4 L1636.4,1651.5 L1633.8,1652.7 L1631.3,1653.9 L1628.8,1655.2 L1626.5,1656.6 L1624.1,1658 L1621.8,1659.5 L1619.6,1661.1 L1617.5,1662.8 L1615.3,1664.5 L1613.3,1666.3 L1611.3,1668.2 L1609.4,1670.2 L1607.4,1672.3 L1605.6,1674.4 L1603.8,1676.6 L1602,1678.8 L1600.2,1681.1 L1598.5,1683.4 L1596.7,1685.8 L1595,1688.2 L1593.3,1690.7 L1591.6,1693.1 L1589.8,1695.5 L1588.1,1698 L1586.3,1700.4 L1584.5,1702.8 L1582.7,1705.1 L1580.8,1707.4 L1578.9,1709.7 L1577,1711.9 L1574.9,1714 L1572.9,1716.1 L1570.8,1718 L1568.6,1719.9 L1566.4,1721.7 L1564.1,1723.3 L1561.7,1724.9 L1559.3,1726.4 L1556.9,1727.7 L1554.3,1729 L1551.8,1730.1 L1549.1,1731.2 L1546.4,1732.1 L1543.7,1732.9 L1540.9,1733.6 L1538.1,1734.3 L1535.3,1734.8 L1532.4,1735.3 L1529.5,1735.7 L1526.5,1736 L1523.6,1736.3 L1520.6,1736.6 L1517.7,1736.8 L1514.7,1736.9 L1511.8,1737.1 L1508.8,1737.2 L1505.9,1737.4 L1502.9,1737.6 L1500,1737.8 L1497.2,1738 L1494.3,1738.3 L1491.5,1738.6 L1488.7,1739 L1485.9,1739.4 L1483.2,1739.9 L1480.5,1740.5 L1477.9,1741.2 L1475.2,1742 L1472.7,1742.8 L1470.1,1743.8 L1467.6,1744.8 L1465.1,1746 L1462.7,1747.2 L1460.3,1748.5 L1457.9,1749.9 L1455.5,1751.4 L1453.2,1752.9 L1450.9,1754.6 L1448.5,1756.2 L1446.2,1758 L1443.9,1759.8 L1441.6,1761.6 L1439.3,1763.4 L1437,1765.3 L1434.7,1767.2 L1432.4,1769 L1430.1,1770.9 L1427.7,1772.7 L1425.3,1774.5 L1422.9,1776.2 L1420.5,1777.9 L1418.1,1779.5 L1415.6,1781.1 L1413.1,1782.5 L1410.5,1783.9 L1408,1785.1 L1405.4,1786.3 L1402.8,1787.3 L1400.1,1788.3 L1397.4,1789.1 L1394.7,1789.8 L1391.9,1790.4 L1389.2,1790.8 L1386.4,1791.2 L1383.6,1791.4 L1380.7,1791.5 L1377.9,1791.5 L1375,1791.4 L1372.1,1791.2 L1369.2,1790.9 L1366.3,1790.6 L1363.4,1790.1 L1360.5,1789.6 L1357.6,1789.1 L1354.7,1788.5 L1351.8,1787.8 L1348.9,1787.2 L1346.1,1786.5 L1343.2,1785.8 L1340.3,1785.2 L1337.5,1784.6 L1334.6,1784 L1331.8,1783.4 L1329,1782.9 L1326.2,1782.4 L1323.4,1782.1 L1320.7,1781.8 L1317.9,1781.6 L1315.2,1781.4 L1312.5,1781.4 L1309.7,1781.4 L1307,1781.6 L1304.3,1781.8 L1301.7,1782.2 L1299,1782.6 L1296.3,1783.2 L1293.6,1783.8 L1291,1784.5 L1288.3,1785.3 L1285.6,1786.2 L1282.9,1787.1 L1280.3,1788.1 L1277.6,1789.2 L1274.9,1790.3 L1272.2,1791.4 L1269.5,1792.6 L1266.7,1793.7 L1264,1794.9 L1261.3,1796 L1258.5,1797.2 L1255.8,1798.2 L1253,1799.3 L1250.2,1800.3 L1247.4,1801.2 L1244.6,1802 L1241.8,1802.8 L1239,1803.5 L1236.2,1804 L1233.4,1804.5 L1230.6,1804.9 L1227.8,1805.1 L1225,1805.2 L1222.2,1805.2 L1219.4,1805.1 L1216.6,1804.8 L1213.8,1804.5 L1211.1,1804 L1208.3,1803.4 L1205.5,1802.7 L1202.8,1801.8 L1200.1,1800.9 L1197.4,1799.9 L1194.7,1798.8 L1192,1797.6 L1189.3,1796.3 L1186.7,1795 L1184,1793.7 L1181.4,1792.3 L1178.8,1790.9 L1176.2,1789.4 L1173.6,1788 L1171,1786.6 L1168.4,1785.2 L1165.9,1783.8 L1163.3,1782.4 L1160.7,1781.1 L1158.2,1779.9 L1155.6,1778.7 L1153,1777.6 L1150.4,1776.6 L1147.9,1775.7 L1145.3,1774.8 L1142.6,1774.1 L1140,1773.4 L1137.4,1772.9 L1134.7,1772.4 L1132,1772 L1129.3,1771.7 L1126.6,1771.6 L1123.8,1771.5 L1121,1771.5 L1118.2,1771.5 L1115.4,1771.6 L1112.6,1771.8 L1109.7,1772.1 L1106.8,1772.4 L1103.9,1772.7 L1101,1773 L1098.1,1773.4 L1095.2,1773.8 L1092.2,1774.1 L1089.3,1774.5 L1086.3,1774.8 L1083.4,1775 L1080.5,1775.2 L1077.5,1775.4 L1074.6,1775.5 L1071.7,1775.5 L1068.8,1775.4 L1065.9,1775.3 L1063.1,1775 L1060.2,1774.6 L1057.5,1774.2 L1054.7,1773.6 L1052,1772.9 L1049.3,1772 L1046.6,1771.1 L1044,1770.1 L1041.5,1768.9 L1038.9,1767.6 L1036.5,1766.2 L1034,1764.7 L1031.6,1763.1 L1029.3,1761.4 L1026.9,1759.7 L1024.7,1757.8 L1022.4,1755.9 L1020.2,1754 L1018,1752 L1015.8,1749.9 L1013.7,1747.8 L1011.6,1745.8 L1009.4,1743.7 L1007.3,1741.6 L1005.2,1739.5 L1003.1,1737.4 L1001,1735.4 L998.9,1733.4 L996.8,1731.5 L994.6,1729.6 L992.5,1727.8 L990.3,1726 L988,1724.4 L985.8,1722.8 L983.5,1721.3 L981.1,1719.9 L978.8,1718.5 L976.4,1717.3 L973.9,1716.1 L971.4,1715.1 L968.8,1714.1 L966.2,1713.2 L963.6,1712.4 L960.9,1711.6 L958.2,1710.9 L955.4,1710.3 L952.6,1709.7 L949.8,1709.2 L946.9,1708.7 L944,1708.2 L941.1,1707.7 L938.2,1707.3 L935.2,1706.8 L932.3,1706.3 L929.4,1705.8 L926.5,1705.3 L923.5,1704.7 L920.7,1704.1 L917.8,1703.4 L915,1702.7 L912.2,1701.9 L909.4,1701 L906.7,1700 L904,1698.9 L901.4,1697.8 L898.9,1696.5 L896.4,1695.1 L894,1693.6 L891.7,1692.1 L889.4,1690.4 L887.2,1688.6 L885.1,1686.7 L883,1684.8 L881,1682.7 L879.1,1680.6 L877.2,1678.3 L875.4,1676.1 L873.7,1673.7 L872,1671.3 L870.3,1668.8 L868.7,1666.3 L867.2,1663.7 L865.7,1661.1 L864.2,1658.5 L862.7,1655.9 L861.2,1653.3 L859.7,1650.7 L858.3,1648.1 L856.8,1645.6 L855.3,1643 L853.8,1640.6 L852.2,1638.1 L850.6,1635.7 L849,1633.4 L847.3,1631.2 L845.6,1629 L843.8,1626.8 L842,1624.8 L840.1,1622.8 L838.1,1620.9 L836.1,1619.1 L834,1617.3 L831.8,1615.6 L829.6,1614 L827.3,1612.4 L825,1610.9 L822.6,1609.5 L820.1,1608.1 L817.6,1606.7 L815,1605.4 L812.4,1604.1 L809.7,1602.9 L807.1,1601.6 L804.4,1600.4 L801.7,1599.1 L799,1597.9 L796.3,1596.6 L793.6,1595.3 L790.9,1594 L788.3,1592.6 L785.6,1591.2 L783.1,1589.7 L780.6,1588.2 L778.1,1586.6 L775.7,1585 L773.4,1583.3 L771.1,1581.5 L769,1579.6 L766.9,1577.6 L764.9,1575.6 L763,1573.5 L761.2,1571.3 L759.5,1569 L757.9,1566.7 L756.4,1564.3 L754.9,1561.8 L753.6,1559.2 L752.3,1556.6 L751.2,1553.9 L750.1,1551.2 L749,1548.4 L748.1,1545.6 L747.2,1542.7 L746.3,1539.8 L745.5,1536.9 L744.8,1534 L744,1531.1 L743.3,1528.2 L742.5,1525.2 L741.8,1522.3 L741.1,1519.4 L740.3,1516.6 L739.6,1513.7 L738.7,1510.9 L737.9,1508.2 L737,1505.5 L736,1502.8 L734.9,1500.2 L733.8,1497.6 L732.7,1495.1 L731.4,1492.6 L730.1,1490.2 L728.6,1487.8 L727.1,1485.5 L725.6,1483.3 L723.9,1481.1 L722.1,1478.9 L720.3,1476.8 L718.4,1474.7 L716.4,1472.7 L714.4,1470.7 L712.3,1468.7 L710.1,1466.7 L707.9,1464.8 L705.7,1462.8 L703.5,1460.9 L701.2,1459 L698.9,1457 L696.6,1455.1 L694.4,1453.1 L692.1,1451.1 L689.9,1449.1 L687.7,1447 L685.6,1444.9 L683.5,1442.8 L681.5,1440.6 L679.6,1438.4 L677.8,1436.1 L676,1433.8 L674.4,1431.5 L672.8,1429 L671.4,1426.6 L670,1424 L668.8,1421.5 L667.7,1418.8 L666.7,1416.1 L665.8,1413.4 L665,1410.6 L664.3,1407.8 L663.8,1405 L663.3,1402.1 L662.9,1399.2 L662.6,1396.2 L662.4,1393.2 L662.2,1390.3 L662.1,1387.2 L662.1,1384.2 L662.1,1381.2 L662.2,1378.2 L662.2,1375.1 L662.3,1372.1 L662.4,1369.1 L662.4,1366.1 L662.5,1363.1 L662.5,1360.2 L662.5,1357.2 L662.4,1354.3 L662.3,1351.4 L662.1,1348.5 L661.8,1345.7 L661.5,1342.9 L661.1,1340.1 L660.6,1337.4 L660,1334.7 L659.3,1332 L658.5,1329.4 L657.6,1326.7 L656.7,1324.1 L655.6,1321.6 L654.4,1319 L653.2,1316.5 L651.9,1314 L650.5,1311.4 L649,1309 L647.5,1306.5 L645.9,1304 L644.3,1301.5 L642.7,1299 L641,1296.5 L639.3,1294.1 L637.6,1291.6 L635.9,1289 L634.3,1286.5 L632.7,1284 L631.1,1281.4 L629.5,1278.8 L628.1,1276.2 L626.7,1273.6 L625.3,1271 L624.1,1268.3 L623,1265.6 L621.9,1262.9 L621,1260.1 L620.2,1257.4 L619.5,1254.6 L618.9,1251.8 L618.5,1248.9 L618.1,1246.1 L617.9,1243.2 L617.8,1240.4 L617.9,1237.5 L618,1234.6 L618.2,1231.6 L618.6,1228.7 L619,1225.8 L619.5,1222.9 L620.1,1219.9 L620.8,1217 L621.6,1214.1 L622.3,1211.2 L623.2,1208.2 L624,1205.3 L624.9,1202.4 L625.7,1199.5 L626.6,1196.7 L627.5,1193.8 L628.3,1190.9 L629.1,1188.1 L629.8,1185.2 L630.5,1182.4 L631.1,1179.6 L631.6,1176.8 L632.1,1174 L632.5,1171.2 L632.8,1168.4 L633,1165.6 L633.1,1162.9 L633.1,1160.1 L633,1157.3 L632.8,1154.5 L632.5,1151.8 L632.1,1149 L631.7,1146.2 L631.1,1143.4 L630.5,1140.7 L629.7,1137.9 L629,1135.1 L628.1,1132.2 L627.3,1129.4 L626.3,1126.6 L625.4,1123.8 L624.4,1120.9 L623.5,1118 L622.5,1115.2 L621.5,1112.3 L620.6,1109.4 L619.7,1106.5 L618.9,1103.6 L618.1,1100.7 L617.4,1097.8 L616.8,1094.9 L616.3,1092 L615.8,1089.1 L615.5,1086.2 L615.2,1083.3 L615.1,1080.4 L615.1,1077.5 L615.2,1074.6 L615.5,1071.8 L615.8,1068.9 L616.3,1066.1 L616.9,1063.3 L617.6,1060.5 L618.4,1057.7 L619.4,1055 L620.4,1052.2 L621.5,1049.5 L622.8,1046.8 L624.1,1044.2 L625.5,1041.5 L626.9,1038.9 L628.4,1036.3 L629.9,1033.7 L631.5,1031.1 L633.1,1028.5 L634.7,1026 L636.3,1023.4 L637.9,1020.9 L639.5,1018.3 L641,1015.8 L642.5,1013.3 L643.9,1010.7 L645.3,1008.2 L646.6,1005.6 L647.8,1003.1 L649,1000.5 L650.1,997.9 L651,995.3 L651.9,992.7 L652.7,990 L653.4,987.3 L654,984.6 L654.5,981.9 L654.9,979.1 L655.3,976.4 L655.5,973.5 L655.7,970.7 L655.8,967.8 L655.8,964.9 L655.8,962 L655.7,959.1 L655.6,956.1 L655.4,953.1 L655.3,950.1 L655.1,947.1 L654.9,944.1 L654.7,941.1 L654.6,938.1 L654.5,935 L654.4,932 L654.4,929 L654.4,926 L654.6,923 L654.7,920.1 L655,917.1 L655.4,914.2 L655.9,911.4 L656.5,908.5 L657.1,905.7 L657.9,903 L658.8,900.2 L659.9,897.6 L661,895 L662.3,892.4 L663.6,889.9 L665.1,887.4 L666.6,885 L668.3,882.6 L670.1,880.2 L671.9,878 L673.8,875.7 L675.8,873.5 L677.9,871.4 L680,869.2 L682.1,867.1 L684.3,865.1 L686.5,863 L688.7,861 L690.9,858.9 L693.1,856.9 L695.3,854.9 L697.5,852.9 L699.6,850.9 L701.7,848.8 L703.7,846.8 L705.7,844.7 L707.6,842.6 L709.4,840.4 L711.2,838.2 L712.9,836 L714.5,833.8 L716,831.5 L717.4,829.1 L718.8,826.7 L720,824.2 L721.2,821.7 L722.3,819.2 L723.3,816.6 L724.3,813.9 L725.1,811.2 L726,808.5 L726.7,805.7 L727.5,802.8 L728.1,800 L728.8,797.1 L729.4,794.2 L730.1,791.3 L730.7,788.3 L731.3,785.4 L732,782.4 L732.6,779.5 L733.3,776.5 L734.1,773.6 L734.9,770.7 L735.8,767.9 L736.7,765.1 L737.7,762.3 L738.8,759.6 L739.9,756.9 L741.2,754.3 L742.5,751.7 L743.9,749.3 L745.5,746.9 L747.1,744.5 L748.8,742.3 L750.7,740.1 L752.6,738 L754.6,736 L756.7,734 L758.9,732.1 L761.1,730.3 L763.5,728.6 L765.9,726.9 L768.3,725.3 L770.8,723.7 L773.4,722.2 L776,720.8 L778.6,719.4 L781.3,718 L783.9,716.6 L786.6,715.3 L789.2,713.9 L791.9,712.6 L794.5,711.2 L797.1,709.9 L799.7,708.5 L802.2,707.1 L804.7,705.6 L807.1,704.2 L809.5,702.6 L811.8,701.1 L814,699.4 L816.2,697.7 L818.3,696 L820.3,694.1 L822.3,692.2 L824.2,690.2 L826,688.2 L827.8,686.1 L829.5,683.9 L831.2,681.6 L832.8,679.3 L834.3,676.9 L835.8,674.5 L837.3,672 L838.7,669.5 L840.1,666.9 L841.5,664.3 L842.9,661.7 L844.3,659 L845.6,656.4 L847,653.7 L848.5,651.1 L849.9,648.4 L851.4,645.8 L852.9,643.2 L854.4,640.7 L856,638.2 L857.7,635.8 L859.4,633.4 L861.2,631.1 L863,628.9 L865,626.8 L867,624.7 L869,622.8 L871.2,620.9 L873.4,619.2 L875.7,617.5 L878,616 L880.4,614.5 L882.9,613.1 L885.5,611.9 L888.1,610.7 L890.8,609.6 L893.5,608.6 L896.3,607.7 L899.1,606.8 L901.9,606.1 L904.8,605.3 L907.7,604.7 L910.6,604 L913.5,603.4 L916.4,602.8 L919.3,602.3 L922.2,601.7 L925.1,601.2 L928,600.6 L930.8,600 L933.7,599.3 L936.4,598.7 L939.2,597.9 L941.9,597.1 L944.5,596.3 L947.2,595.4 L949.7,594.4 L952.3,593.3 L954.7,592.2 L957.2,590.9 L959.5,589.6 L961.9,588.2 L964.2,586.7 L966.4,585.1 L968.6,583.5 L970.8,581.7 L972.9,579.9 L975,578 L977.1,576.1 L979.2,574.1 L981.2,572 L983.2,569.9 L985.3,567.8 L987.3,565.6 L989.3,563.4 L991.4,561.3 L993.4,559.1 L995.5,556.9 L997.6,554.8 L999.7,552.7 L1001.9,550.7 L1004.1,548.7 L1006.3,546.8 L1008.5,544.9 L1010.8,543.2 L1013.2,541.5 L1015.6,539.9 L1018,538.4 L1020.5,537.1 L1023,535.8 L1025.6,534.6 L1028.2,533.6 L1030.8,532.7 L1033.5,531.9 L1036.3,531.2 L1039,530.6 L1041.8,530.1 L1044.7,529.8 L1047.5,529.5 L1050.4,529.3 L1053.3,529.2 L1056.3,529.2 L1059.2,529.3 L1062.1,529.4 L1065.1,529.5 L1068.1,529.7 L1071,530 L1074,530.2 L1076.9,530.5 L1079.9,530.7 L1082.8,531 L1085.7,531.2 L1088.6,531.4 L1091.4,531.5 L1094.3,531.6 L1097.1,531.7 L1099.9,531.6 L1102.7,531.5 L1105.4,531.3 L1108.1,531 L1110.8,530.7 L1113.5,530.2 L1116.2,529.7 L1118.8,529 L1121.4,528.3 L1124,527.4 L1126.6,526.5 L1129.1,525.4 L1131.7,524.3 L1134.2,523.2 L1136.7,521.9 L1139.3,520.6 L1141.8,519.2 L1144.3,517.7 L1146.8,516.3 L1149.3,514.8 L1151.9,513.3 L1154.4,511.7 L1157,510.2 L1159.5,508.7 L1162.1,507.2 L1164.7,505.8 L1167.3,504.4 L1169.9,503 L1172.5,501.7 L1175.2,500.5 L1177.9,499.4 L1180.6,498.4 L1183.3,497.5 L1186,496.6 L1188.7,495.9 L1191.5,495.3 L1194.3,494.9 L1197,494.5 L1199.8,494.3 L1202.6,494.2 L1205.5,494.2 L1208.3,494.3 L1211.1,494.6 L1213.9,494.9 L1216.7,495.4 L1219.6,496 L1222.4,496.6 L1225.2,497.4 L1228,498.2 L1230.8,499.1 L1233.6,500 L1236.4,501 L1239.2,502 L1242,503.1 L1244.8,504.1 L1247.5,505.2 L1250.3,506.3Z" fill="none" stroke="#2c0a0c" stroke-width="5" stroke-linejoin="round"/>
<path d="M1248,521 L1250.7,520.1 L1253.3,519.3 L1256,518.5 L1258.7,517.9 L1261.4,517.4 L1264.1,517 L1266.7,516.9 L1269.4,516.9 L1272.1,517.1 L1274.7,517.5 L1277.4,518.1 L1280,518.9 L1282.7,519.7 L1285.3,520.7 L1287.9,521.8 L1290.5,522.8 L1293,523.9 L1295.6,525 L1298.2,526 L1300.8,526.8 L1303.4,527.6 L1306,528.2 L1308.6,528.6 L1311.2,528.9 L1313.8,529 L1316.5,529 L1319.2,528.8 L1321.9,528.4 L1324.6,528 L1327.3,527.5 L1330.1,527 L1332.8,526.5 L1335.6,526 L1338.4,525.6 L1341.1,525.3 L1343.8,525.1 L1346.6,525.1 L1349.2,525.3 L1351.9,525.7 L1354.5,526.2 L1357.1,526.9 L1359.7,527.8 L1362.2,528.9 L1364.7,530.1 L1367.1,531.4 L1369.6,532.8 L1372,534.2 L1374.4,535.7 L1376.8,537.1 L1379.3,538.4 L1381.7,539.7 L1384.1,540.8 L1386.6,541.8 L1389.1,542.7 L1391.7,543.4 L1394.3,543.9 L1396.9,544.3 L1399.6,544.5 L1402.3,544.6 L1405,544.6 L1407.8,544.5 L1410.6,544.4 L1413.4,544.3 L1416.2,544.2 L1419,544.1 L1421.8,544.2 L1424.5,544.4 L1427.2,544.7 L1429.9,545.2 L1432.5,545.8 L1435,546.7 L1437.5,547.7 L1439.9,548.9 L1442.3,550.3 L1444.6,551.8 L1446.9,553.4 L1449.2,555.1 L1451.4,556.9 L1453.6,558.6 L1455.8,560.4 L1458,562.1 L1460.2,563.7 L1462.5,565.2 L1464.8,566.6 L1467.1,567.9 L1469.6,569 L1472,569.9 L1474.6,570.7 L1477.2,571.3 L1479.8,571.8 L1482.5,572.2 L1485.3,572.6 L1488.1,572.8 L1490.9,573.1 L1493.7,573.4 L1496.4,573.7 L1499.2,574.1 L1501.9,574.6 L1504.6,575.3 L1507.2,576.1 L1509.7,577.1 L1512.1,578.2 L1514.5,579.5 L1516.7,581 L1518.9,582.7 L1521.1,584.4 L1523.1,586.3 L1525.1,588.3 L1527.1,590.4 L1529,592.4 L1531,594.5 L1532.9,596.5 L1534.9,598.4 L1536.9,600.3 L1539,602 L1541.2,603.6 L1543.4,605.1 L1545.7,606.4 L1548.1,607.6 L1550.6,608.6 L1553.1,609.6 L1555.7,610.4 L1558.4,611.1 L1561.1,611.8 L1563.8,612.4 L1566.6,613.1 L1569.3,613.8 L1572,614.6 L1574.6,615.4 L1577.2,616.4 L1579.7,617.5 L1582.1,618.8 L1584.4,620.2 L1586.6,621.8 L1588.7,623.5 L1590.6,625.4 L1592.5,627.5 L1594.3,629.6 L1596.1,631.8 L1597.8,634.1 L1599.4,636.4 L1601.1,638.7 L1602.7,641 L1604.4,643.3 L1606.1,645.4 L1608,647.5 L1609.8,649.4 L1611.8,651.2 L1613.9,652.9 L1616.1,654.4 L1618.4,655.8 L1620.8,657.1 L1623.2,658.3 L1625.8,659.4 L1628.3,660.5 L1631,661.5 L1633.6,662.6 L1636.2,663.6 L1638.8,664.7 L1641.3,665.9 L1643.8,667.2 L1646.1,668.7 L1648.4,670.2 L1650.5,671.9 L1652.5,673.7 L1654.4,675.7 L1656.1,677.8 L1657.7,680.1 L1659.3,682.4 L1660.7,684.9 L1662.1,687.3 L1663.4,689.9 L1664.8,692.4 L1666.1,694.9 L1667.5,697.4 L1668.9,699.8 L1670.4,702.1 L1672,704.3 L1673.6,706.4 L1675.4,708.4 L1677.4,710.3 L1679.4,712 L1681.6,713.7 L1683.8,715.2 L1686.2,716.7 L1688.6,718.1 L1691,719.5 L1693.5,720.9 L1696,722.3 L1698.4,723.8 L1700.8,725.3 L1703.1,726.9 L1705.2,728.6 L1707.3,730.4 L1709.2,732.3 L1711,734.4 L1712.6,736.6 L1714.1,738.9 L1715.5,741.3 L1716.7,743.8 L1717.9,746.4 L1718.9,749.1 L1719.9,751.8 L1720.9,754.5 L1721.9,757.1 L1722.9,759.8 L1724,762.4 L1725.1,764.9 L1726.3,767.4 L1727.7,769.7 L1729.2,772 L1730.8,774.1 L1732.6,776.2 L1734.4,778.2 L1736.4,780 L1738.6,781.8 L1740.7,783.6 L1743,785.3 L1745.2,787 L1747.5,788.8 L1749.7,790.5 L1751.9,792.3 L1754,794.2 L1756,796.2 L1757.8,798.2 L1759.5,800.4 L1761.1,802.7 L1762.4,805 L1763.7,807.5 L1764.7,810.1 L1765.7,812.7 L1766.5,815.4 L1767.2,818.2 L1767.9,821 L1768.5,823.8 L1769.1,826.6 L1769.7,829.4 L1770.4,832.1 L1771.2,834.8 L1772,837.4 L1773,840 L1774.2,842.5 L1775.4,844.8 L1776.9,847.2 L1778.4,849.4 L1780.1,851.5 L1781.9,853.6 L1783.8,855.7 L1785.8,857.7 L1787.8,859.7 L1789.9,861.8 L1791.9,863.8 L1793.8,865.9 L1795.7,868 L1797.4,870.2 L1799,872.5 L1800.4,874.8 L1801.7,877.3 L1802.8,879.8 L1803.8,882.4 L1804.5,885.1 L1805.2,887.8 L1805.6,890.6 L1806,893.4 L1806.3,896.3 L1806.6,899.2 L1806.8,902 L1807,904.9 L1807.3,907.7 L1807.7,910.5 L1808.2,913.3 L1808.8,915.9 L1809.5,918.6 L1810.4,921.1 L1811.5,923.6 L1812.7,926.1 L1814.1,928.4 L1815.6,930.8 L1817.2,933.1 L1818.8,935.4 L1820.6,937.7 L1822.3,940 L1824,942.3 L1825.7,944.6 L1827.3,946.9 L1828.7,949.3 L1830.1,951.8 L1831.3,954.3 L1832.3,956.9 L1833.1,959.5 L1833.7,962.2 L1834.2,964.9 L1834.5,967.7 L1834.6,970.6 L1834.7,973.4 L1834.6,976.3 L1834.5,979.2 L1834.3,982.1 L1834.2,984.9 L1834.1,987.8 L1834,990.6 L1834.1,993.4 L1834.3,996.2 L1834.7,998.9 L1835.2,1001.6 L1835.9,1004.2 L1836.7,1006.8 L1837.7,1009.4 L1838.8,1011.9 L1840,1014.4 L1841.4,1016.9 L1842.8,1019.4 L1844.2,1021.9 L1845.6,1024.4 L1847,1027 L1848.3,1029.5 L1849.5,1032.1 L1850.5,1034.7 L1851.4,1037.3 L1852.1,1040 L1852.6,1042.7 L1853,1045.5 L1853.1,1048.2 L1853.1,1051 L1852.9,1053.9 L1852.6,1056.7 L1852.2,1059.5 L1851.7,1062.4 L1851.2,1065.2 L1850.6,1068.1 L1850.1,1070.9 L1849.7,1073.7 L1849.4,1076.5 L1849.2,1079.2 L1849.1,1082 L1849.2,1084.7 L1849.5,1087.4 L1849.9,1090.1 L1850.5,1092.8 L1851.2,1095.5 L1852.1,1098.1 L1853.1,1100.8 L1854.1,1103.5 L1855.2,1106.1 L1856.3,1108.8 L1857.3,1111.5 L1858.3,1114.2 L1859.2,1116.9 L1859.9,1119.6 L1860.5,1122.4 L1860.9,1125.1 L1861.1,1127.9 L1861.2,1130.7 L1861,1133.4 L1860.6,1136.2 L1860.1,1139 L1859.5,1141.7 L1858.7,1144.5 L1857.9,1147.3 L1857,1150 L1856.1,1152.7 L1855.2,1155.5 L1854.4,1158.2 L1853.7,1160.9 L1853.1,1163.6 L1852.6,1166.4 L1852.3,1169.1 L1852.1,1171.8 L1852.2,1174.5 L1852.3,1177.3 L1852.7,1180 L1853.2,1182.8 L1853.7,1185.5 L1854.4,1188.3 L1855.1,1191.1 L1855.8,1193.9 L1856.5,1196.7 L1857.2,1199.5 L1857.7,1202.3 L1858.1,1205.1 L1858.4,1207.9 L1858.5,1210.7 L1858.4,1213.5 L1858.1,1216.2 L1857.6,1218.9 L1857,1221.7 L1856.2,1224.3 L1855.2,1227 L1854.1,1229.6 L1852.9,1232.3 L1851.7,1234.9 L1850.5,1237.5 L1849.2,1240 L1848,1242.6 L1846.9,1245.2 L1845.9,1247.8 L1845,1250.4 L1844.3,1253.1 L1843.8,1255.8 L1843.4,1258.5 L1843.2,1261.2 L1843.1,1263.9 L1843.2,1266.7 L1843.3,1269.5 L1843.6,1272.4 L1843.9,1275.2 L1844.3,1278.1 L1844.6,1281 L1844.9,1283.8 L1845.1,1286.7 L1845.2,1289.5 L1845.1,1292.4 L1844.9,1295.1 L1844.5,1297.9 L1843.9,1300.6 L1843.1,1303.2 L1842.2,1305.8 L1841.1,1308.4 L1839.8,1310.9 L1838.4,1313.4 L1836.9,1315.8 L1835.4,1318.2 L1833.8,1320.6 L1832.2,1323 L1830.7,1325.4 L1829.2,1327.8 L1827.8,1330.3 L1826.6,1332.7 L1825.5,1335.2 L1824.5,1337.8 L1823.8,1340.4 L1823.1,1343 L1822.6,1345.8 L1822.3,1348.5 L1822.1,1351.3 L1822,1354.1 L1821.9,1357 L1821.8,1359.9 L1821.8,1362.8 L1821.7,1365.7 L1821.6,1368.5 L1821.3,1371.4 L1820.9,1374.1 L1820.4,1376.9 L1819.7,1379.6 L1818.8,1382.2 L1817.8,1384.7 L1816.5,1387.2 L1815.1,1389.6 L1813.6,1391.9 L1811.9,1394.2 L1810.1,1396.4 L1808.3,1398.6 L1806.4,1400.8 L1804.5,1402.9 L1802.7,1405.1 L1800.9,1407.3 L1799.2,1409.5 L1797.6,1411.7 L1796.1,1414 L1794.8,1416.4 L1793.6,1418.9 L1792.6,1421.4 L1791.7,1424 L1791,1426.6 L1790.4,1429.3 L1789.8,1432.1 L1789.4,1434.9 L1789,1437.8 L1788.5,1440.6 L1788.1,1443.5 L1787.6,1446.3 L1787,1449.1 L1786.3,1451.8 L1785.4,1454.5 L1784.4,1457 L1783.3,1459.5 L1781.9,1461.9 L1780.4,1464.2 L1778.8,1466.4 L1777,1468.6 L1775.1,1470.6 L1773,1472.6 L1770.9,1474.5 L1768.8,1476.4 L1766.7,1478.3 L1764.5,1480.2 L1762.4,1482.1 L1760.4,1484 L1758.5,1486 L1756.7,1488 L1755.1,1490.2 L1753.5,1492.4 L1752.2,1494.7 L1750.9,1497.1 L1749.8,1499.6 L1748.8,1502.2 L1747.9,1504.9 L1747,1507.6 L1746.2,1510.3 L1745.4,1513.1 L1744.6,1515.8 L1743.8,1518.6 L1742.8,1521.3 L1741.8,1523.9 L1740.6,1526.4 L1739.4,1528.9 L1737.9,1531.2 L1736.3,1533.4 L1734.6,1535.6 L1732.7,1537.6 L1730.7,1539.4 L1728.6,1541.2 L1726.3,1542.9 L1724,1544.6 L1721.6,1546.1 L1719.3,1547.7 L1716.9,1549.3 L1714.6,1550.8 L1712.3,1552.5 L1710.1,1554.1 L1708,1555.9 L1706.1,1557.8 L1704.2,1559.7 L1702.5,1561.8 L1700.9,1564 L1699.5,1566.3 L1698.1,1568.6 L1696.8,1571.1 L1695.6,1573.7 L1694.4,1576.3 L1693.3,1578.9 L1692.1,1581.5 L1690.9,1584.1 L1689.7,1586.6 L1688.3,1589.1 L1686.9,1591.5 L1685.3,1593.8 L1683.6,1595.9 L1681.8,1598 L1679.8,1599.8 L1677.8,1601.6 L1675.5,1603.2 L1673.2,1604.7 L1670.8,1606.1 L1668.3,1607.4 L1665.8,1608.7 L1663.2,1609.9 L1660.7,1611.1 L1658.1,1612.3 L1655.7,1613.6 L1653.3,1615 L1650.9,1616.4 L1648.7,1617.9 L1646.6,1619.6 L1644.6,1621.3 L1642.7,1623.2 L1640.9,1625.2 L1639.2,1627.4 L1637.6,1629.6 L1636,1632 L1634.5,1634.3 L1633,1636.8 L1631.6,1639.2 L1630,1641.6 L1628.5,1644 L1626.8,1646.3 L1625.1,1648.5 L1623.3,1650.5 L1621.4,1652.5 L1619.3,1654.3 L1617.2,1655.9 L1614.9,1657.4 L1612.5,1658.7 L1610.1,1659.9 L1607.5,1661 L1604.9,1662 L1602.2,1662.9 L1599.5,1663.8 L1596.9,1664.6 L1594.2,1665.5 L1591.6,1666.4 L1589,1667.3 L1586.5,1668.4 L1584,1669.5 L1581.7,1670.8 L1579.4,1672.3 L1577.3,1673.8 L1575.2,1675.5 L1573.2,1677.4 L1571.3,1679.3 L1569.5,1681.4 L1567.6,1683.5 L1565.8,1685.7 L1564,1687.9 L1562.2,1690.1 L1560.4,1692.2 L1558.5,1694.3 L1556.5,1696.3 L1554.4,1698.1 L1552.3,1699.8 L1550.1,1701.3 L1547.8,1702.7 L1545.3,1703.9 L1542.8,1705 L1540.3,1705.8 L1537.6,1706.6 L1534.9,1707.2 L1532.2,1707.8 L1529.4,1708.3 L1526.6,1708.7 L1523.8,1709.2 L1521.1,1709.7 L1518.4,1710.3 L1515.8,1710.9 L1513.2,1711.7 L1510.7,1712.6 L1508.2,1713.7 L1505.9,1714.9 L1503.6,1716.2 L1501.4,1717.7 L1499.2,1719.4 L1497.1,1721.1 L1495,1722.9 L1492.9,1724.8 L1490.8,1726.8 L1488.7,1728.7 L1486.6,1730.5 L1484.5,1732.4 L1482.3,1734.1 L1480,1735.6 L1477.7,1737.1 L1475.3,1738.3 L1472.8,1739.4 L1470.3,1740.3 L1467.7,1741.1 L1465.1,1741.6 L1462.4,1742 L1459.6,1742.3 L1456.8,1742.5 L1454,1742.6 L1451.2,1742.7 L1448.4,1742.8 L1445.6,1742.9 L1442.9,1743 L1440.2,1743.3 L1437.5,1743.6 L1434.9,1744.1 L1432.3,1744.8 L1429.8,1745.6 L1427.3,1746.6 L1424.9,1747.7 L1422.5,1749 L1420.2,1750.4 L1417.8,1751.9 L1415.5,1753.4 L1413.2,1755 L1410.9,1756.7 L1408.6,1758.2 L1406.2,1759.7 L1403.8,1761.2 L1401.4,1762.4 L1398.9,1763.6 L1396.4,1764.6 L1393.8,1765.3 L1391.2,1765.9 L1388.5,1766.4 L1385.9,1766.6 L1383.1,1766.7 L1380.4,1766.6 L1377.6,1766.4 L1374.8,1766.2 L1372,1765.9 L1369.2,1765.5 L1366.5,1765.2 L1363.7,1765 L1361,1764.8 L1358.3,1764.8 L1355.6,1764.8 L1353,1765.1 L1350.4,1765.5 L1347.8,1766 L1345.2,1766.8 L1342.7,1767.7 L1340.2,1768.7 L1337.7,1769.8 L1335.2,1771 L1332.7,1772.3 L1330.2,1773.5 L1327.6,1774.8 L1325.1,1776 L1322.6,1777.1 L1320,1778 L1317.4,1778.9 L1314.8,1779.5 L1312.1,1780 L1309.5,1780.3 L1306.8,1780.4 L1304.1,1780.3 L1301.4,1780 L1298.7,1779.6 L1295.9,1779.1 L1293.2,1778.5 L1290.5,1777.8 L1287.8,1777.1 L1285.1,1776.4 L1282.4,1775.7 L1279.7,1775.1 L1277,1774.7 L1274.4,1774.3 L1271.7,1774.1 L1269.1,1774.1 L1266.5,1774.3 L1263.8,1774.6 L1261.2,1775.1 L1258.6,1775.7 L1255.9,1776.4 L1253.3,1777.2 L1250.7,1778.1 L1248,1779 L1245.3,1779.9 L1242.7,1780.7 L1240,1781.5 L1237.3,1782.1 L1234.6,1782.6 L1231.9,1783 L1229.3,1783.1 L1226.6,1783.1 L1223.9,1782.9 L1221.3,1782.5 L1218.6,1781.9 L1216,1781.1 L1213.3,1780.3 L1210.7,1779.3 L1208.1,1778.2 L1205.5,1777.2 L1203,1776.1 L1200.4,1775 L1197.8,1774 L1195.2,1773.2 L1192.6,1772.4 L1190,1771.8 L1187.4,1771.4 L1184.8,1771.1 L1182.2,1771 L1179.5,1771 L1176.8,1771.2 L1174.1,1771.6 L1171.4,1772 L1168.7,1772.5 L1165.9,1773 L1163.2,1773.5 L1160.4,1774 L1157.6,1774.4 L1154.9,1774.7 L1152.2,1774.9 L1149.4,1774.9 L1146.8,1774.7 L1144.1,1774.3 L1141.5,1773.8 L1138.9,1773.1 L1136.3,1772.2 L1133.8,1771.1 L1131.3,1769.9 L1128.9,1768.6 L1126.4,1767.2 L1124,1765.8 L1121.6,1764.3 L1119.2,1762.9 L1116.7,1761.6 L1114.3,1760.3 L1111.9,1759.2 L1109.4,1758.2 L1106.9,1757.3 L1104.3,1756.6 L1101.7,1756.1 L1099.1,1755.7 L1096.4,1755.5 L1093.7,1755.4 L1091,1755.4 L1088.2,1755.5 L1085.4,1755.6 L1082.6,1755.7 L1079.8,1755.8 L1077,1755.9 L1074.2,1755.8 L1071.5,1755.6 L1068.8,1755.3 L1066.1,1754.8 L1063.5,1754.2 L1061,1753.3 L1058.5,1752.3 L1056.1,1751.1 L1053.7,1749.7 L1051.4,1748.2 L1049.1,1746.6 L1046.8,1744.9 L1044.6,1743.1 L1042.4,1741.4 L1040.2,1739.6 L1038,1737.9 L1035.8,1736.3 L1033.5,1734.8 L1031.2,1733.4 L1028.9,1732.1 L1026.4,1731 L1024,1730.1 L1021.4,1729.3 L1018.8,1728.7 L1016.2,1728.2 L1013.5,1727.8 L1010.7,1727.4 L1007.9,1727.2 L1005.1,1726.9 L1002.3,1726.6 L999.6,1726.3 L996.8,1725.9 L994.1,1725.4 L991.4,1724.7 L988.8,1723.9 L986.3,1722.9 L983.9,1721.8 L981.5,1720.5 L979.3,1719 L977.1,1717.3 L974.9,1715.6 L972.9,1713.7 L970.9,1711.7 L968.9,1709.6 L967,1707.6 L965,1705.5 L963.1,1703.5 L961.1,1701.6 L959.1,1699.7 L957,1698 L954.8,1696.4 L952.6,1694.9 L950.3,1693.6 L947.9,1692.4 L945.4,1691.4 L942.9,1690.4 L940.3,1689.6 L937.6,1688.9 L934.9,1688.2 L932.2,1687.6 L929.4,1686.9 L926.7,1686.2 L924,1685.4 L921.4,1684.6 L918.8,1683.6 L916.3,1682.5 L913.9,1681.2 L911.6,1679.8 L909.4,1678.2 L907.3,1676.5 L905.4,1674.6 L903.5,1672.5 L901.7,1670.4 L899.9,1668.2 L898.2,1665.9 L896.6,1663.6 L894.9,1661.3 L893.3,1659 L891.6,1656.7 L889.9,1654.6 L888,1652.5 L886.2,1650.6 L884.2,1648.8 L882.1,1647.1 L879.9,1645.6 L877.6,1644.2 L875.2,1642.9 L872.8,1641.7 L870.2,1640.6 L867.7,1639.5 L865,1638.5 L862.4,1637.4 L859.8,1636.4 L857.2,1635.3 L854.7,1634.1 L852.2,1632.8 L849.9,1631.3 L847.6,1629.8 L845.5,1628.1 L843.5,1626.3 L841.6,1624.3 L839.9,1622.2 L838.3,1619.9 L836.7,1617.6 L835.3,1615.1 L833.9,1612.7 L832.6,1610.1 L831.2,1607.6 L829.9,1605.1 L828.5,1602.6 L827.1,1600.2 L825.6,1597.9 L824,1595.7 L822.4,1593.6 L820.6,1591.6 L818.6,1589.7 L816.6,1588 L814.4,1586.3 L812.2,1584.8 L809.8,1583.3 L807.4,1581.9 L805,1580.5 L802.5,1579.1 L800,1577.7 L797.6,1576.2 L795.2,1574.7 L792.9,1573.1 L790.8,1571.4 L788.7,1569.6 L786.8,1567.7 L785,1565.6 L783.4,1563.4 L781.9,1561.1 L780.5,1558.7 L779.3,1556.2 L778.1,1553.6 L777.1,1550.9 L776.1,1548.2 L775.1,1545.5 L774.1,1542.9 L773.1,1540.2 L772,1537.6 L770.9,1535.1 L769.7,1532.6 L768.3,1530.3 L766.8,1528 L765.2,1525.9 L763.4,1523.8 L761.6,1521.8 L759.6,1520 L757.4,1518.2 L755.3,1516.4 L753,1514.7 L750.8,1513 L748.5,1511.2 L746.3,1509.5 L744.1,1507.7 L742,1505.8 L740,1503.8 L738.2,1501.8 L736.5,1499.6 L734.9,1497.3 L733.6,1495 L732.3,1492.5 L731.3,1489.9 L730.3,1487.3 L729.5,1484.6 L728.8,1481.8 L728.1,1479 L727.5,1476.2 L726.9,1473.4 L726.3,1470.6 L725.6,1467.9 L724.8,1465.2 L724,1462.6 L723,1460 L721.8,1457.5 L720.6,1455.2 L719.1,1452.8 L717.6,1450.6 L715.9,1448.5 L714.1,1446.4 L712.2,1444.3 L710.2,1442.3 L708.2,1440.3 L706.1,1438.2 L704.1,1436.2 L702.2,1434.1 L700.3,1432 L698.6,1429.8 L697,1427.5 L695.6,1425.2 L694.3,1422.7 L693.2,1420.2 L692.2,1417.6 L691.5,1414.9 L690.8,1412.2 L690.4,1409.4 L690,1406.6 L689.7,1403.7 L689.4,1400.8 L689.2,1398 L689,1395.1 L688.7,1392.3 L688.3,1389.5 L687.8,1386.7 L687.2,1384.1 L686.5,1381.4 L685.6,1378.9 L684.5,1376.4 L683.3,1373.9 L681.9,1371.6 L680.4,1369.2 L678.8,1366.9 L677.2,1364.6 L675.4,1362.3 L673.7,1360 L672,1357.7 L670.3,1355.4 L668.7,1353.1 L667.3,1350.7 L665.9,1348.2 L664.7,1345.7 L663.7,1343.1 L662.9,1340.5 L662.3,1337.8 L661.8,1335.1 L661.5,1332.3 L661.4,1329.4 L661.3,1326.6 L661.4,1323.7 L661.5,1320.8 L661.7,1317.9 L661.8,1315.1 L661.9,1312.2 L662,1309.4 L661.9,1306.6 L661.7,1303.8 L661.3,1301.1 L660.8,1298.4 L660.1,1295.8 L659.3,1293.2 L658.3,1290.6 L657.2,1288.1 L656,1285.6 L654.6,1283.1 L653.2,1280.6 L651.8,1278.1 L650.4,1275.6 L649,1273 L647.7,1270.5 L646.5,1267.9 L645.5,1265.3 L644.6,1262.7 L643.9,1260 L643.4,1257.3 L643,1254.5 L642.9,1251.8 L642.9,1249 L643.1,1246.1 L643.4,1243.3 L643.8,1240.5 L644.3,1237.6 L644.8,1234.8 L645.4,1231.9 L645.9,1229.1 L646.3,1226.3 L646.6,1223.5 L646.8,1220.8 L646.9,1218 L646.8,1215.3 L646.5,1212.6 L646.1,1209.9 L645.5,1207.2 L644.8,1204.5 L643.9,1201.9 L642.9,1199.2 L641.9,1196.5 L640.8,1193.9 L639.7,1191.2 L638.7,1188.5 L637.7,1185.8 L636.8,1183.1 L636.1,1180.4 L635.5,1177.6 L635.1,1174.9 L634.9,1172.1 L634.8,1169.3 L635,1166.6 L635.4,1163.8 L635.9,1161 L636.5,1158.3 L637.3,1155.5 L638.1,1152.7 L639,1150 L639.9,1147.3 L640.8,1144.5 L641.6,1141.8 L642.3,1139.1 L642.9,1136.4 L643.4,1133.6 L643.7,1130.9 L643.9,1128.2 L643.8,1125.5 L643.7,1122.7 L643.3,1120 L642.8,1117.2 L642.3,1114.5 L641.6,1111.7 L640.9,1108.9 L640.2,1106.1 L639.5,1103.3 L638.8,1100.5 L638.3,1097.7 L637.9,1094.9 L637.6,1092.1 L637.5,1089.3 L637.6,1086.5 L637.9,1083.8 L638.4,1081.1 L639,1078.3 L639.8,1075.7 L640.8,1073 L641.9,1070.4 L643.1,1067.7 L644.3,1065.1 L645.5,1062.5 L646.8,1060 L648,1057.4 L649.1,1054.8 L650.1,1052.2 L651,1049.6 L651.7,1046.9 L652.2,1044.2 L652.6,1041.5 L652.8,1038.8 L652.9,1036.1 L652.8,1033.3 L652.7,1030.5 L652.4,1027.6 L652.1,1024.8 L651.7,1021.9 L651.4,1019 L651.1,1016.2 L650.9,1013.3 L650.8,1010.5 L650.9,1007.6 L651.1,1004.9 L651.5,1002.1 L652.1,999.4 L652.9,996.8 L653.8,994.2 L654.9,991.6 L656.2,989.1 L657.6,986.6 L659.1,984.2 L660.6,981.8 L662.2,979.4 L663.8,977 L665.3,974.6 L666.8,972.2 L668.2,969.7 L669.4,967.3 L670.5,964.8 L671.5,962.2 L672.2,959.6 L672.9,957 L673.4,954.2 L673.7,951.5 L673.9,948.7 L674,945.9 L674.1,943 L674.2,940.1 L674.2,937.2 L674.3,934.3 L674.4,931.5 L674.7,928.6 L675.1,925.9 L675.6,923.1 L676.3,920.4 L677.2,917.8 L678.2,915.3 L679.5,912.8 L680.9,910.4 L682.4,908.1 L684.1,905.8 L685.9,903.6 L687.7,901.4 L689.6,899.2 L691.5,897.1 L693.3,894.9 L695.1,892.7 L696.8,890.5 L698.4,888.3 L699.9,886 L701.2,883.6 L702.4,881.1 L703.4,878.6 L704.3,876 L705,873.4 L705.6,870.7 L706.2,867.9 L706.6,865.1 L707,862.2 L707.5,859.4 L707.9,856.5 L708.4,853.7 L709,850.9 L709.7,848.2 L710.6,845.5 L711.6,843 L712.7,840.5 L714.1,838.1 L715.6,835.8 L717.2,833.6 L719,831.4 L720.9,829.4 L723,827.4 L725.1,825.5 L727.2,823.6 L729.3,821.7 L731.5,819.8 L733.6,817.9 L735.6,816 L737.5,814 L739.3,812 L740.9,809.8 L742.5,807.6 L743.8,805.3 L745.1,802.9 L746.2,800.4 L747.2,797.8 L748.1,795.1 L749,792.4 L749.8,789.7 L750.6,786.9 L751.4,784.2 L752.2,781.4 L753.2,778.7 L754.2,776.1 L755.4,773.6 L756.6,771.1 L758.1,768.8 L759.7,766.6 L761.4,764.4 L763.3,762.4 L765.3,760.6 L767.4,758.8 L769.7,757.1 L772,755.4 L774.4,753.9 L776.7,752.3 L779.1,750.7 L781.4,749.2 L783.7,747.5 L785.9,745.9 L788,744.1 L789.9,742.2 L791.8,740.3 L793.5,738.2 L795.1,736 L796.5,733.7 L797.9,731.4 L799.2,728.9 L800.4,726.3 L801.6,723.7 L802.7,721.1 L803.9,718.5 L805.1,715.9 L806.3,713.4 L807.7,710.9 L809.1,708.5 L810.7,706.2 L812.4,704.1 L814.2,702 L816.2,700.2 L818.2,698.4 L820.5,696.8 L822.8,695.3 L825.2,693.9 L827.7,692.6 L830.2,691.3 L832.8,690.1 L835.3,688.9 L837.9,687.7 L840.3,686.4 L842.7,685 L845.1,683.6 L847.3,682.1 L849.4,680.4 L851.4,678.7 L853.3,676.8 L855.1,674.8 L856.8,672.6 L858.4,670.4 L860,668 L861.5,665.7 L863,663.2 L864.4,660.8 L866,658.4 L867.5,656 L869.2,653.7 L870.9,651.5 L872.7,649.5 L874.6,647.5 L876.7,645.7 L878.8,644.1 L881.1,642.6 L883.5,641.3 L885.9,640.1 L888.5,639 L891.1,638 L893.8,637.1 L896.5,636.2 L899.1,635.4 L901.8,634.5 L904.4,633.6 L907,632.7 L909.5,631.6 L912,630.5 L914.3,629.2 L916.6,627.7 L918.7,626.2 L920.8,624.5 L922.8,622.6 L924.7,620.7 L926.5,618.6 L928.4,616.5 L930.2,614.3 L932,612.1 L933.8,609.9 L935.6,607.8 L937.5,605.7 L939.5,603.7 L941.6,601.9 L943.7,600.2 L945.9,598.7 L948.2,597.3 L950.7,596.1 L953.2,595 L955.7,594.2 L958.4,593.4 L961.1,592.8 L963.8,592.2 L966.6,591.7 L969.4,591.3 L972.2,590.8 L974.9,590.3 L977.6,589.7 L980.2,589.1 L982.8,588.3 L985.3,587.4 L987.8,586.3 L990.1,585.1 L992.4,583.8 L994.6,582.3 L996.8,580.6 L998.9,578.9 L1001,577.1 L1003.1,575.2 L1005.2,573.2 L1007.3,571.3 L1009.4,569.5 L1011.5,567.6 L1013.7,565.9 L1016,564.4 L1018.3,562.9 L1020.7,561.7 L1023.2,560.6 L1025.7,559.7 L1028.3,558.9 L1030.9,558.4 L1033.6,558 L1036.4,557.7 L1039.2,557.5 L1042,557.4 L1044.8,557.3 L1047.6,557.2 L1050.4,557.1 L1053.1,557 L1055.8,556.7 L1058.5,556.4 L1061.1,555.9 L1063.7,555.2 L1066.2,554.4 L1068.7,553.4 L1071.1,552.3 L1073.5,551 L1075.8,549.6 L1078.2,548.1 L1080.5,546.6 L1082.8,545 L1085.1,543.3 L1087.4,541.8 L1089.8,540.3 L1092.2,538.8 L1094.6,537.6 L1097.1,536.4 L1099.6,535.4 L1102.2,534.7 L1104.8,534.1 L1107.5,533.6 L1110.1,533.4 L1112.9,533.3 L1115.6,533.4 L1118.4,533.6 L1121.2,533.8 L1124,534.1 L1126.8,534.5 L1129.5,534.8 L1132.3,535 L1135,535.2 L1137.7,535.2 L1140.4,535.2 L1143,534.9 L1145.6,534.5 L1148.2,534 L1150.8,533.2 L1153.3,532.3 L1155.8,531.3 L1158.3,530.2 L1160.8,529 L1163.3,527.7 L1165.8,526.5 L1168.4,525.2 L1170.9,524 L1173.4,522.9 L1176,522 L1178.6,521.1 L1181.2,520.5 L1183.9,520 L1186.5,519.7 L1189.2,519.6 L1191.9,519.7 L1194.6,520 L1197.3,520.4 L1200.1,520.9 L1202.8,521.5 L1205.5,522.2 L1208.2,522.9 L1210.9,523.6 L1213.6,524.3 L1216.3,524.9 L1219,525.3 L1221.6,525.7 L1224.3,525.9 L1226.9,525.9 L1229.5,525.7 L1232.2,525.4 L1234.8,524.9 L1237.4,524.3 L1240.1,523.6 L1242.7,522.8 L1245.3,521.9Z" fill="none" stroke="#7d2f44" stroke-width="16"/>
<path d="M1248,530 L1250.6,529.1 L1253.3,528.3 L1255.9,527.5 L1258.5,526.9 L1261.2,526.4 L1263.8,526 L1266.5,525.9 L1269.1,525.9 L1271.7,526.1 L1274.3,526.5 L1277,527.1 L1279.6,527.8 L1282.1,528.7 L1284.7,529.7 L1287.3,530.7 L1289.8,531.8 L1292.4,532.9 L1294.9,533.9 L1297.5,534.9 L1300,535.8 L1302.5,536.5 L1305.1,537.1 L1307.7,537.6 L1310.2,537.8 L1312.9,538 L1315.5,537.9 L1318.1,537.7 L1320.8,537.4 L1323.5,536.9 L1326.2,536.5 L1328.9,535.9 L1331.6,535.4 L1334.3,534.9 L1337,534.5 L1339.7,534.2 L1342.4,534 L1345.1,534 L1347.8,534.2 L1350.4,534.5 L1353,535.1 L1355.5,535.8 L1358,536.7 L1360.5,537.7 L1363,538.9 L1365.4,540.2 L1367.8,541.6 L1370.2,543 L1372.6,544.5 L1374.9,545.9 L1377.3,547.2 L1379.7,548.5 L1382.1,549.6 L1384.6,550.6 L1387,551.5 L1389.5,552.1 L1392.1,552.7 L1394.7,553 L1397.3,553.2 L1400,553.3 L1402.7,553.3 L1405.4,553.2 L1408.2,553.1 L1411,552.9 L1413.7,552.8 L1416.5,552.8 L1419.2,552.8 L1421.9,553 L1424.6,553.3 L1427.2,553.8 L1429.8,554.4 L1432.3,555.3 L1434.7,556.3 L1437.1,557.5 L1439.5,558.8 L1441.7,560.3 L1444,561.9 L1446.2,563.6 L1448.4,565.3 L1450.5,567.1 L1452.7,568.8 L1454.9,570.5 L1457,572.1 L1459.3,573.6 L1461.5,575 L1463.9,576.2 L1466.3,577.3 L1468.7,578.2 L1471.2,579 L1473.8,579.6 L1476.4,580.1 L1479.1,580.5 L1481.8,580.8 L1484.5,581.1 L1487.3,581.4 L1490,581.6 L1492.8,581.9 L1495.5,582.3 L1498.2,582.8 L1500.8,583.5 L1503.4,584.3 L1505.8,585.2 L1508.2,586.3 L1510.6,587.6 L1512.8,589.1 L1515,590.7 L1517,592.5 L1519.1,594.4 L1521,596.3 L1523,598.4 L1524.9,600.4 L1526.8,602.4 L1528.7,604.4 L1530.6,606.4 L1532.6,608.2 L1534.7,609.9 L1536.8,611.5 L1539,613 L1541.3,614.3 L1543.6,615.4 L1546.1,616.4 L1548.6,617.3 L1551.1,618.1 L1553.8,618.8 L1556.5,619.5 L1559.2,620.1 L1561.9,620.8 L1564.6,621.4 L1567.2,622.2 L1569.8,623 L1572.4,624 L1574.8,625.1 L1577.2,626.3 L1579.4,627.7 L1581.6,629.3 L1583.7,631 L1585.6,632.9 L1587.5,634.9 L1589.2,637 L1590.9,639.2 L1592.6,641.5 L1594.2,643.8 L1595.8,646.1 L1597.5,648.3 L1599.1,650.5 L1600.8,652.7 L1602.6,654.7 L1604.5,656.6 L1606.4,658.4 L1608.5,660.1 L1610.6,661.6 L1612.9,663 L1615.2,664.2 L1617.6,665.4 L1620.2,666.5 L1622.7,667.5 L1625.3,668.5 L1627.9,669.5 L1630.5,670.6 L1633,671.7 L1635.5,672.8 L1637.9,674.1 L1640.3,675.5 L1642.5,677 L1644.6,678.7 L1646.5,680.5 L1648.4,682.5 L1650.1,684.6 L1651.7,686.8 L1653.2,689.1 L1654.6,691.5 L1656,693.9 L1657.3,696.4 L1658.6,699 L1659.9,701.4 L1661.2,703.9 L1662.6,706.3 L1664.1,708.5 L1665.6,710.7 L1667.3,712.8 L1669.1,714.8 L1671,716.6 L1673,718.3 L1675.1,720 L1677.4,721.5 L1679.7,722.9 L1682.1,724.3 L1684.5,725.7 L1686.9,727.1 L1689.4,728.4 L1691.8,729.8 L1694.1,731.3 L1696.4,732.9 L1698.5,734.6 L1700.6,736.4 L1702.5,738.3 L1704.2,740.3 L1705.8,742.5 L1707.3,744.7 L1708.6,747.1 L1709.8,749.6 L1711,752.2 L1712,754.8 L1713,757.4 L1713.9,760.1 L1714.9,762.8 L1715.9,765.4 L1716.9,768 L1718,770.5 L1719.2,772.9 L1720.6,775.2 L1722,777.4 L1723.6,779.6 L1725.4,781.6 L1727.2,783.5 L1729.2,785.3 L1731.3,787.1 L1733.4,788.9 L1735.6,790.6 L1737.9,792.2 L1740.1,793.9 L1742.3,795.7 L1744.5,797.4 L1746.6,799.3 L1748.5,801.2 L1750.3,803.2 L1752,805.4 L1753.5,807.6 L1754.9,809.9 L1756.1,812.4 L1757.1,814.9 L1758.1,817.5 L1758.9,820.2 L1759.6,822.9 L1760.2,825.7 L1760.8,828.5 L1761.4,831.2 L1762,834 L1762.6,836.7 L1763.4,839.4 L1764.2,841.9 L1765.2,844.5 L1766.3,846.9 L1767.6,849.2 L1769,851.5 L1770.5,853.7 L1772.2,855.8 L1774,857.9 L1775.9,859.9 L1777.9,861.9 L1779.9,863.9 L1781.9,865.9 L1783.8,867.9 L1785.8,869.9 L1787.6,872 L1789.3,874.2 L1790.9,876.4 L1792.3,878.8 L1793.6,881.1 L1794.7,883.6 L1795.6,886.2 L1796.4,888.8 L1797,891.5 L1797.4,894.3 L1797.8,897.1 L1798.1,899.9 L1798.3,902.7 L1798.5,905.6 L1798.8,908.4 L1799,911.2 L1799.4,914 L1799.9,916.7 L1800.4,919.3 L1801.2,921.9 L1802.1,924.4 L1803.1,926.9 L1804.3,929.3 L1805.7,931.6 L1807.1,933.9 L1808.7,936.2 L1810.4,938.5 L1812.1,940.7 L1813.8,943 L1815.5,945.2 L1817.2,947.5 L1818.8,949.8 L1820.2,952.2 L1821.5,954.6 L1822.7,957.1 L1823.7,959.6 L1824.5,962.2 L1825.1,964.9 L1825.6,967.6 L1825.9,970.3 L1826,973.1 L1826,975.9 L1825.9,978.8 L1825.8,981.6 L1825.6,984.5 L1825.5,987.3 L1825.4,990.1 L1825.3,992.9 L1825.4,995.7 L1825.6,998.4 L1825.9,1001.1 L1826.4,1003.7 L1827.1,1006.3 L1827.9,1008.9 L1828.9,1011.4 L1830,1013.9 L1831.3,1016.4 L1832.6,1018.8 L1834,1021.3 L1835.4,1023.8 L1836.8,1026.2 L1838.2,1028.7 L1839.4,1031.2 L1840.6,1033.8 L1841.7,1036.3 L1842.5,1038.9 L1843.2,1041.6 L1843.8,1044.2 L1844.1,1046.9 L1844.2,1049.7 L1844.2,1052.4 L1844,1055.2 L1843.7,1058 L1843.3,1060.8 L1842.8,1063.6 L1842.2,1066.4 L1841.7,1069.2 L1841.2,1072 L1840.8,1074.8 L1840.4,1077.5 L1840.2,1080.3 L1840.2,1083 L1840.3,1085.7 L1840.5,1088.3 L1841,1091 L1841.5,1093.6 L1842.3,1096.3 L1843.1,1098.9 L1844.1,1101.5 L1845.2,1104.1 L1846.2,1106.8 L1847.3,1109.4 L1848.3,1112.1 L1849.3,1114.7 L1850.2,1117.4 L1850.9,1120.1 L1851.5,1122.8 L1851.9,1125.5 L1852.1,1128.2 L1852.2,1130.9 L1852,1133.7 L1851.7,1136.4 L1851.1,1139.1 L1850.5,1141.9 L1849.7,1144.6 L1848.9,1147.3 L1848,1150 L1847.1,1152.7 L1846.2,1155.4 L1845.4,1158.1 L1844.7,1160.8 L1844.1,1163.4 L1843.6,1166.1 L1843.3,1168.8 L1843.1,1171.5 L1843.2,1174.2 L1843.4,1176.9 L1843.7,1179.6 L1844.2,1182.3 L1844.8,1185 L1845.4,1187.8 L1846.1,1190.5 L1846.9,1193.3 L1847.5,1196 L1848.2,1198.8 L1848.7,1201.6 L1849.2,1204.3 L1849.4,1207.1 L1849.5,1209.8 L1849.4,1212.6 L1849.2,1215.3 L1848.7,1218 L1848.1,1220.6 L1847.2,1223.3 L1846.3,1225.9 L1845.2,1228.5 L1844,1231.1 L1842.8,1233.6 L1841.5,1236.2 L1840.3,1238.7 L1839.1,1241.3 L1838,1243.9 L1837,1246.4 L1836.2,1249 L1835.4,1251.6 L1834.9,1254.2 L1834.5,1256.9 L1834.3,1259.6 L1834.2,1262.3 L1834.3,1265 L1834.5,1267.8 L1834.8,1270.6 L1835.1,1273.4 L1835.5,1276.3 L1835.8,1279.1 L1836.1,1281.9 L1836.3,1284.8 L1836.4,1287.6 L1836.3,1290.3 L1836.1,1293.1 L1835.7,1295.8 L1835.2,1298.4 L1834.4,1301 L1833.5,1303.6 L1832.4,1306.1 L1831.1,1308.6 L1829.7,1311.1 L1828.2,1313.5 L1826.7,1315.8 L1825.1,1318.2 L1823.6,1320.6 L1822,1322.9 L1820.6,1325.3 L1819.2,1327.7 L1818,1330.1 L1816.9,1332.6 L1816,1335.1 L1815.2,1337.7 L1814.6,1340.3 L1814.1,1342.9 L1813.8,1345.7 L1813.6,1348.4 L1813.4,1351.2 L1813.4,1354 L1813.4,1356.9 L1813.3,1359.7 L1813.3,1362.6 L1813.1,1365.4 L1812.9,1368.2 L1812.5,1371 L1812,1373.7 L1811.3,1376.3 L1810.4,1378.9 L1809.4,1381.4 L1808.2,1383.8 L1806.8,1386.2 L1805.3,1388.5 L1803.6,1390.7 L1801.9,1392.9 L1800,1395.1 L1798.2,1397.2 L1796.3,1399.3 L1794.5,1401.4 L1792.7,1403.6 L1791,1405.7 L1789.4,1408 L1788,1410.2 L1786.6,1412.6 L1785.5,1415 L1784.5,1417.5 L1783.6,1420 L1782.9,1422.6 L1782.3,1425.3 L1781.8,1428.1 L1781.4,1430.8 L1781,1433.6 L1780.6,1436.5 L1780.1,1439.3 L1779.6,1442.1 L1779.1,1444.8 L1778.4,1447.5 L1777.5,1450.1 L1776.6,1452.7 L1775.4,1455.1 L1774.1,1457.5 L1772.6,1459.8 L1771,1461.9 L1769.2,1464 L1767.3,1466 L1765.3,1468 L1763.2,1469.9 L1761.1,1471.7 L1759,1473.6 L1756.9,1475.4 L1754.8,1477.3 L1752.8,1479.2 L1750.9,1481.1 L1749.2,1483.2 L1747.5,1485.3 L1746,1487.5 L1744.6,1489.8 L1743.4,1492.1 L1742.3,1494.6 L1741.3,1497.2 L1740.5,1499.8 L1739.6,1502.5 L1738.9,1505.2 L1738.1,1507.9 L1737.3,1510.6 L1736.5,1513.3 L1735.6,1516 L1734.5,1518.6 L1733.4,1521.1 L1732.2,1523.5 L1730.7,1525.8 L1729.2,1528 L1727.5,1530.1 L1725.6,1532 L1723.6,1533.9 L1721.5,1535.6 L1719.3,1537.3 L1717,1538.9 L1714.7,1540.5 L1712.3,1542 L1710,1543.5 L1707.7,1545.1 L1705.4,1546.7 L1703.3,1548.3 L1701.2,1550.1 L1699.3,1551.9 L1697.4,1553.8 L1695.7,1555.9 L1694.2,1558 L1692.7,1560.3 L1691.4,1562.6 L1690.1,1565.1 L1689,1567.6 L1687.8,1570.1 L1686.7,1572.7 L1685.6,1575.3 L1684.4,1577.9 L1683.2,1580.4 L1681.9,1582.9 L1680.4,1585.2 L1678.9,1587.5 L1677.2,1589.6 L1675.4,1591.6 L1673.5,1593.4 L1671.4,1595.2 L1669.3,1596.8 L1667,1598.2 L1664.6,1599.6 L1662.1,1600.9 L1659.6,1602.1 L1657.1,1603.3 L1654.6,1604.5 L1652.1,1605.7 L1649.6,1607 L1647.2,1608.3 L1644.9,1609.7 L1642.8,1611.2 L1640.7,1612.8 L1638.7,1614.5 L1636.8,1616.4 L1635.1,1618.4 L1633.4,1620.5 L1631.8,1622.7 L1630.3,1625 L1628.8,1627.4 L1627.4,1629.8 L1625.9,1632.2 L1624.4,1634.6 L1622.9,1636.9 L1621.3,1639.2 L1619.6,1641.4 L1617.8,1643.4 L1615.9,1645.3 L1613.9,1647.1 L1611.8,1648.7 L1609.5,1650.2 L1607.2,1651.5 L1604.7,1652.7 L1602.2,1653.7 L1599.6,1654.7 L1597,1655.6 L1594.4,1656.4 L1591.7,1657.2 L1589.1,1658.1 L1586.5,1658.9 L1583.9,1659.9 L1581.4,1660.9 L1579,1662.1 L1576.7,1663.3 L1574.5,1664.7 L1572.4,1666.3 L1570.4,1668 L1568.4,1669.8 L1566.5,1671.7 L1564.7,1673.8 L1562.9,1675.9 L1561.1,1678 L1559.4,1680.2 L1557.6,1682.4 L1555.8,1684.5 L1553.9,1686.5 L1552,1688.5 L1549.9,1690.3 L1547.8,1692 L1545.7,1693.5 L1543.4,1694.9 L1541,1696 L1538.5,1697.1 L1536,1697.9 L1533.3,1698.7 L1530.7,1699.3 L1528,1699.8 L1525.2,1700.3 L1522.5,1700.7 L1519.8,1701.2 L1517.1,1701.7 L1514.4,1702.2 L1511.8,1702.9 L1509.2,1703.6 L1506.8,1704.5 L1504.4,1705.5 L1502,1706.7 L1499.8,1708.1 L1497.6,1709.6 L1495.5,1711.2 L1493.4,1712.9 L1491.3,1714.7 L1489.3,1716.6 L1487.2,1718.5 L1485.2,1720.4 L1483.1,1722.3 L1481,1724.1 L1478.8,1725.7 L1476.6,1727.3 L1474.3,1728.7 L1472,1730 L1469.5,1731 L1467.1,1731.9 L1464.5,1732.7 L1461.9,1733.2 L1459.2,1733.6 L1456.5,1733.9 L1453.7,1734.1 L1451,1734.2 L1448.2,1734.2 L1445.4,1734.3 L1442.7,1734.4 L1440,1734.5 L1437.3,1734.7 L1434.7,1735.1 L1432.1,1735.6 L1429.6,1736.2 L1427.1,1737 L1424.6,1738 L1422.3,1739.1 L1419.9,1740.4 L1417.6,1741.8 L1415.3,1743.2 L1413,1744.8 L1410.8,1746.4 L1408.5,1748 L1406.2,1749.5 L1403.9,1751 L1401.5,1752.5 L1399.1,1753.7 L1396.7,1754.9 L1394.2,1755.8 L1391.7,1756.6 L1389.1,1757.2 L1386.5,1757.6 L1383.8,1757.8 L1381.1,1757.9 L1378.4,1757.8 L1375.7,1757.6 L1372.9,1757.4 L1370.2,1757 L1367.4,1756.7 L1364.7,1756.4 L1362,1756.1 L1359.3,1756 L1356.7,1755.9 L1354,1756 L1351.4,1756.2 L1348.8,1756.6 L1346.3,1757.2 L1343.8,1757.9 L1341.3,1758.8 L1338.8,1759.8 L1336.3,1760.9 L1333.9,1762.1 L1331.4,1763.3 L1328.9,1764.6 L1326.5,1765.9 L1324,1767 L1321.5,1768.1 L1318.9,1769.1 L1316.4,1769.9 L1313.8,1770.6 L1311.2,1771.1 L1308.6,1771.3 L1305.9,1771.4 L1303.3,1771.3 L1300.6,1771.1 L1297.9,1770.7 L1295.2,1770.1 L1292.6,1769.5 L1289.9,1768.8 L1287.2,1768.1 L1284.5,1767.4 L1281.9,1766.7 L1279.2,1766.1 L1276.6,1765.7 L1274,1765.3 L1271.4,1765.1 L1268.8,1765.1 L1266.2,1765.3 L1263.6,1765.6 L1261,1766.1 L1258.4,1766.7 L1255.8,1767.4 L1253.2,1768.2 L1250.6,1769.1 L1248,1770 L1245.4,1770.9 L1242.7,1771.7 L1240.1,1772.5 L1237.5,1773.1 L1234.8,1773.6 L1232.2,1774 L1229.5,1774.1 L1226.9,1774.1 L1224.3,1773.9 L1221.7,1773.5 L1219,1772.9 L1216.4,1772.2 L1213.9,1771.3 L1211.3,1770.3 L1208.7,1769.3 L1206.2,1768.2 L1203.6,1767.1 L1201.1,1766.1 L1198.5,1765.1 L1196,1764.2 L1193.5,1763.5 L1190.9,1762.9 L1188.3,1762.4 L1185.8,1762.2 L1183.1,1762 L1180.5,1762.1 L1177.9,1762.3 L1175.2,1762.6 L1172.5,1763.1 L1169.8,1763.5 L1167.1,1764.1 L1164.4,1764.6 L1161.7,1765.1 L1159,1765.5 L1156.3,1765.8 L1153.6,1766 L1150.9,1766 L1148.2,1765.8 L1145.6,1765.5 L1143,1764.9 L1140.5,1764.2 L1138,1763.3 L1135.5,1762.3 L1133,1761.1 L1130.6,1759.8 L1128.2,1758.4 L1125.8,1757 L1123.4,1755.5 L1121.1,1754.1 L1118.7,1752.8 L1116.3,1751.5 L1113.9,1750.4 L1111.4,1749.4 L1109,1748.5 L1106.5,1747.9 L1103.9,1747.3 L1101.3,1747 L1098.7,1746.8 L1096,1746.7 L1093.3,1746.7 L1090.6,1746.8 L1087.8,1746.9 L1085,1747.1 L1082.3,1747.2 L1079.5,1747.2 L1076.8,1747.2 L1074.1,1747 L1071.4,1746.7 L1068.8,1746.2 L1066.2,1745.6 L1063.7,1744.7 L1061.3,1743.7 L1058.9,1742.5 L1056.5,1741.2 L1054.3,1739.7 L1052,1738.1 L1049.8,1736.4 L1047.6,1734.7 L1045.5,1732.9 L1043.3,1731.2 L1041.1,1729.5 L1039,1727.9 L1036.7,1726.4 L1034.5,1725 L1032.1,1723.8 L1029.7,1722.7 L1027.3,1721.8 L1024.8,1721 L1022.2,1720.4 L1019.6,1719.9 L1016.9,1719.5 L1014.2,1719.2 L1011.5,1718.9 L1008.7,1718.6 L1006,1718.4 L1003.2,1718.1 L1000.5,1717.7 L997.8,1717.2 L995.2,1716.5 L992.6,1715.7 L990.2,1714.8 L987.8,1713.7 L985.4,1712.4 L983.2,1710.9 L981,1709.3 L979,1707.5 L976.9,1705.6 L975,1703.7 L973,1701.6 L971.1,1699.6 L969.2,1697.6 L967.3,1695.6 L965.4,1693.6 L963.4,1691.8 L961.3,1690.1 L959.2,1688.5 L957,1687 L954.7,1685.7 L952.4,1684.6 L949.9,1683.6 L947.4,1682.7 L944.9,1681.9 L942.2,1681.2 L939.5,1680.5 L936.8,1679.9 L934.1,1679.2 L931.4,1678.6 L928.8,1677.8 L926.2,1677 L923.6,1676 L921.2,1674.9 L918.8,1673.7 L916.6,1672.3 L914.4,1670.7 L912.3,1669 L910.4,1667.1 L908.5,1665.1 L906.8,1663 L905.1,1660.8 L903.4,1658.5 L901.8,1656.2 L900.2,1653.9 L898.5,1651.7 L896.9,1649.5 L895.2,1647.3 L893.4,1645.3 L891.5,1643.4 L889.6,1641.6 L887.5,1639.9 L885.4,1638.4 L883.1,1637 L880.8,1635.8 L878.4,1634.6 L875.8,1633.5 L873.3,1632.5 L870.7,1631.5 L868.1,1630.5 L865.5,1629.4 L863,1628.3 L860.5,1627.2 L858.1,1625.9 L855.7,1624.5 L853.5,1623 L851.4,1621.3 L849.5,1619.5 L847.6,1617.5 L845.9,1615.4 L844.3,1613.2 L842.8,1610.9 L841.4,1608.5 L840,1606.1 L838.7,1603.6 L837.4,1601 L836.1,1598.6 L834.8,1596.1 L833.4,1593.7 L831.9,1591.5 L830.4,1589.3 L828.7,1587.2 L826.9,1585.2 L825,1583.4 L823,1581.7 L820.9,1580 L818.6,1578.5 L816.3,1577.1 L813.9,1575.7 L811.5,1574.3 L809.1,1572.9 L806.6,1571.6 L804.2,1570.2 L801.9,1568.7 L799.6,1567.1 L797.5,1565.4 L795.4,1563.6 L793.5,1561.7 L791.8,1559.7 L790.2,1557.5 L788.7,1555.3 L787.4,1552.9 L786.2,1550.4 L785,1547.8 L784,1545.2 L783,1542.6 L782.1,1539.9 L781.1,1537.2 L780.1,1534.6 L779.1,1532 L778,1529.5 L776.8,1527.1 L775.4,1524.8 L774,1522.6 L772.4,1520.4 L770.6,1518.4 L768.8,1516.5 L766.8,1514.7 L764.7,1512.9 L762.6,1511.1 L760.4,1509.4 L758.1,1507.8 L755.9,1506.1 L753.7,1504.3 L751.5,1502.6 L749.4,1500.7 L747.5,1498.8 L745.7,1496.8 L744,1494.6 L742.5,1492.4 L741.1,1490.1 L739.9,1487.6 L738.9,1485.1 L737.9,1482.5 L737.1,1479.8 L736.4,1477.1 L735.8,1474.3 L735.2,1471.5 L734.6,1468.8 L734,1466 L733.4,1463.3 L732.6,1460.6 L731.8,1458.1 L730.8,1455.5 L729.7,1453.1 L728.4,1450.8 L727,1448.5 L725.5,1446.3 L723.8,1444.2 L722,1442.1 L720.1,1440.1 L718.1,1438.1 L716.1,1436.1 L714.1,1434.1 L712.2,1432.1 L710.2,1430.1 L708.4,1428 L706.7,1425.8 L705.1,1423.6 L703.7,1421.2 L702.4,1418.9 L701.3,1416.4 L700.4,1413.8 L699.6,1411.2 L699,1408.5 L698.6,1405.7 L698.2,1402.9 L697.9,1400.1 L697.7,1397.3 L697.5,1394.4 L697.2,1391.6 L697,1388.8 L696.6,1386 L696.1,1383.3 L695.6,1380.7 L694.8,1378.1 L693.9,1375.6 L692.9,1373.1 L691.7,1370.7 L690.3,1368.4 L688.9,1366.1 L687.3,1363.8 L685.6,1361.5 L683.9,1359.3 L682.2,1357 L680.5,1354.8 L678.8,1352.5 L677.2,1350.2 L675.8,1347.8 L674.5,1345.4 L673.3,1342.9 L672.3,1340.4 L671.5,1337.8 L670.9,1335.1 L670.4,1332.4 L670.1,1329.7 L670,1326.9 L670,1324.1 L670.1,1321.2 L670.2,1318.4 L670.4,1315.5 L670.5,1312.7 L670.6,1309.9 L670.7,1307.1 L670.6,1304.3 L670.4,1301.6 L670.1,1298.9 L669.6,1296.3 L668.9,1293.7 L668.1,1291.1 L667.1,1288.6 L666,1286.1 L664.7,1283.6 L663.4,1281.2 L662,1278.7 L660.6,1276.2 L659.2,1273.8 L657.8,1271.3 L656.6,1268.8 L655.4,1266.2 L654.3,1263.7 L653.5,1261.1 L652.8,1258.4 L652.2,1255.8 L651.9,1253.1 L651.8,1250.3 L651.8,1247.6 L652,1244.8 L652.3,1242 L652.7,1239.2 L653.2,1236.4 L653.8,1233.6 L654.3,1230.8 L654.8,1228 L655.2,1225.2 L655.6,1222.5 L655.8,1219.7 L655.8,1217 L655.7,1214.3 L655.5,1211.7 L655,1209 L654.5,1206.4 L653.7,1203.7 L652.9,1201.1 L651.9,1198.5 L650.8,1195.9 L649.8,1193.2 L648.7,1190.6 L647.7,1187.9 L646.7,1185.3 L645.8,1182.6 L645.1,1179.9 L644.5,1177.2 L644.1,1174.5 L643.9,1171.8 L643.8,1169.1 L644,1166.3 L644.3,1163.6 L644.9,1160.9 L645.5,1158.1 L646.3,1155.4 L647.1,1152.7 L648,1150 L648.9,1147.3 L649.8,1144.6 L650.6,1141.9 L651.3,1139.2 L651.9,1136.6 L652.4,1133.9 L652.7,1131.2 L652.9,1128.5 L652.8,1125.8 L652.6,1123.1 L652.3,1120.4 L651.8,1117.7 L651.2,1115 L650.6,1112.2 L649.9,1109.5 L649.1,1106.7 L648.5,1104 L647.8,1101.2 L647.3,1098.4 L646.8,1095.7 L646.6,1092.9 L646.5,1090.2 L646.6,1087.4 L646.8,1084.7 L647.3,1082 L647.9,1079.4 L648.8,1076.7 L649.7,1074.1 L650.8,1071.5 L652,1068.9 L653.2,1066.4 L654.5,1063.8 L655.7,1061.3 L656.9,1058.7 L658,1056.1 L659,1053.6 L659.8,1051 L660.6,1048.4 L661.1,1045.8 L661.5,1043.1 L661.7,1040.4 L661.8,1037.7 L661.7,1035 L661.5,1032.2 L661.2,1029.4 L660.9,1026.6 L660.5,1023.7 L660.2,1020.9 L659.9,1018.1 L659.7,1015.2 L659.6,1012.4 L659.7,1009.7 L659.9,1006.9 L660.3,1004.2 L660.8,1001.6 L661.6,999 L662.5,996.4 L663.6,993.9 L664.9,991.4 L666.3,988.9 L667.8,986.5 L669.3,984.2 L670.9,981.8 L672.4,979.4 L674,977.1 L675.4,974.7 L676.8,972.3 L678,969.9 L679.1,967.4 L680,964.9 L680.8,962.3 L681.4,959.7 L681.9,957.1 L682.2,954.3 L682.4,951.6 L682.6,948.8 L682.6,946 L682.6,943.1 L682.7,940.3 L682.7,937.4 L682.9,934.6 L683.1,931.8 L683.5,929 L684,926.3 L684.7,923.7 L685.6,921.1 L686.6,918.6 L687.8,916.2 L689.2,913.8 L690.7,911.5 L692.4,909.3 L694.1,907.1 L696,904.9 L697.8,902.8 L699.7,900.7 L701.5,898.6 L703.3,896.4 L705,894.3 L706.6,892 L708,889.8 L709.4,887.4 L710.5,885 L711.5,882.5 L712.4,880 L713.1,877.4 L713.7,874.7 L714.2,871.9 L714.6,869.2 L715,866.4 L715.4,863.5 L715.9,860.7 L716.4,857.9 L716.9,855.2 L717.6,852.5 L718.5,849.9 L719.4,847.3 L720.6,844.9 L721.9,842.5 L723.4,840.2 L725,838.1 L726.8,836 L728.7,834 L730.7,832 L732.8,830.1 L734.9,828.3 L737,826.4 L739.1,824.6 L741.2,822.7 L743.2,820.8 L745.1,818.9 L746.8,816.8 L748.5,814.7 L750,812.5 L751.4,810.2 L752.6,807.9 L753.7,805.4 L754.7,802.8 L755.5,800.2 L756.4,797.5 L757.1,794.8 L757.9,792.1 L758.7,789.4 L759.5,786.7 L760.4,784 L761.5,781.4 L762.6,778.9 L763.8,776.5 L765.3,774.2 L766.8,772 L768.5,769.9 L770.4,768 L772.4,766.1 L774.5,764.4 L776.7,762.7 L779,761.1 L781.3,759.5 L783.7,758 L786,756.5 L788.3,754.9 L790.6,753.3 L792.7,751.7 L794.8,749.9 L796.7,748.1 L798.6,746.2 L800.3,744.1 L801.8,742 L803.3,739.7 L804.6,737.4 L805.9,734.9 L807,732.4 L808.2,729.9 L809.3,727.3 L810.4,724.7 L811.6,722.1 L812.8,719.6 L814.1,717.1 L815.6,714.8 L817.1,712.5 L818.8,710.4 L820.6,708.4 L822.5,706.6 L824.6,704.8 L826.7,703.2 L829,701.8 L831.4,700.4 L833.9,699.1 L836.4,697.9 L838.9,696.7 L841.4,695.5 L843.9,694.3 L846.4,693 L848.8,691.7 L851.1,690.3 L853.2,688.8 L855.3,687.2 L857.3,685.5 L859.2,683.6 L860.9,681.6 L862.6,679.5 L864.2,677.3 L865.7,675 L867.2,672.6 L868.6,670.2 L870.1,667.8 L871.6,665.4 L873.1,663.1 L874.7,660.8 L876.4,658.6 L878.2,656.6 L880.1,654.7 L882.1,652.9 L884.2,651.3 L886.5,649.8 L888.8,648.5 L891.3,647.3 L893.8,646.3 L896.4,645.3 L899,644.4 L901.6,643.6 L904.3,642.8 L906.9,641.9 L909.5,641.1 L912.1,640.1 L914.6,639.1 L917,637.9 L919.3,636.7 L921.5,635.3 L923.6,633.7 L925.6,632 L927.6,630.2 L929.5,628.3 L931.3,626.2 L933.1,624.1 L934.9,622 L936.6,619.8 L938.4,617.6 L940.2,615.5 L942.1,613.5 L944,611.5 L946.1,609.7 L948.2,608 L950.3,606.5 L952.6,605.1 L955,604 L957.5,602.9 L960,602.1 L962.7,601.3 L965.3,600.7 L968,600.2 L970.8,599.7 L973.5,599.3 L976.2,598.8 L978.9,598.3 L981.6,597.8 L984.2,597.1 L986.8,596.4 L989.2,595.5 L991.6,594.5 L994,593.3 L996.2,591.9 L998.4,590.4 L1000.5,588.8 L1002.6,587.1 L1004.7,585.3 L1006.7,583.4 L1008.8,581.5 L1010.8,579.6 L1012.9,577.7 L1015,575.9 L1017.2,574.3 L1019.4,572.7 L1021.7,571.3 L1024,570 L1026.5,569 L1028.9,568.1 L1031.5,567.3 L1034.1,566.8 L1036.8,566.4 L1039.5,566.1 L1042.3,565.9 L1045,565.8 L1047.8,565.8 L1050.6,565.7 L1053.3,565.6 L1056,565.5 L1058.7,565.3 L1061.3,564.9 L1063.9,564.4 L1066.4,563.8 L1068.9,563 L1071.4,562 L1073.7,560.9 L1076.1,559.6 L1078.4,558.2 L1080.7,556.8 L1083,555.2 L1085.2,553.6 L1087.5,552 L1089.8,550.5 L1092.1,549 L1094.5,547.5 L1096.9,546.3 L1099.3,545.1 L1101.8,544.2 L1104.3,543.4 L1106.9,542.8 L1109.5,542.4 L1112.2,542.2 L1114.9,542.1 L1117.6,542.2 L1120.3,542.4 L1123.1,542.6 L1125.8,543 L1128.6,543.3 L1131.3,543.6 L1134,543.9 L1136.7,544 L1139.3,544.1 L1142,544 L1144.6,543.8 L1147.2,543.4 L1149.7,542.8 L1152.2,542.1 L1154.7,541.2 L1157.2,540.2 L1159.7,539.1 L1162.1,537.9 L1164.6,536.7 L1167.1,535.4 L1169.5,534.1 L1172,533 L1174.5,531.9 L1177.1,530.9 L1179.6,530.1 L1182.2,529.4 L1184.8,528.9 L1187.4,528.7 L1190.1,528.6 L1192.7,528.7 L1195.4,528.9 L1198.1,529.3 L1200.8,529.9 L1203.4,530.5 L1206.1,531.2 L1208.8,531.9 L1211.5,532.6 L1214.1,533.3 L1216.8,533.9 L1219.4,534.3 L1222,534.7 L1224.6,534.9 L1227.2,534.9 L1229.8,534.7 L1232.4,534.4 L1235,533.9 L1237.6,533.3 L1240.2,532.6 L1242.8,531.8 L1245.4,530.9Z" fill="url(#core)" stroke="#7a2c40" stroke-width="7"/>
<g transform="translate(1129.7,329.5) rotate(-8.7)">
<path d="M-22,52 L22,52 L26,167.1 L-26,167.1 Z" fill="url(#stalk)"/>
<path d="M-11,52 L11,52 L13.5,163.1 L-13.5,163.1 Z" fill="#d8601a"/>
<path d="M1,74 L7,74 L9,147.1 L3,147.1 Z" fill="#f28e24" opacity="0.9"/>
<path d="M-12.5,54 L-15.5,164.1 M12.5,54 L15.5,164.1" stroke="#240603" stroke-width="5.5" stroke-linecap="round" fill="none"/>
<path d="M-15.5,165.1 L15.5,165.1" stroke="#3a0c06" stroke-width="5" fill="none"/>
<g transform="scale(0.95)">
<path d="M-24,66 C-27,54 -50,42 -57,16 C-63,-6 -64,-34 -56,-51 C-48,-66 -20,-70 0,-66 C20,-70 48,-66 56,-51 C64,-34 63,-6 57,16 C50,42 27,54 24,66 Z" fill="#921728" stroke="#b51e2c" stroke-width="2.5" stroke-linejoin="round"/>
<path d="M-15,64 C-19,52 -41,40 -47,15 C-52,-6 -53,-30 -46,-43 C-39,-55 -16,-59 0,-56 C16,-59 39,-55 46,-43 C53,-30 52,-6 47,15 C41,40 19,52 15,64 Z" fill="#2e0610"/>
<g transform="translate(0,4) scale(0.97,0.95)">
<path d="M-34,-8 C-40,-34 -32,-50 -20,-50 C-12,-50 -8,-42 -6,-34 C-4,-46 4,-52 12,-50 C22,-52 36,-44 36,-22 C36,-10 32,0 28,8 Z" fill="#a3183a"/>
<path d="M0,60 C-18,50 -40,26 -41,-4 C-42,-22 -38,-38 -29,-44 C-21,-42 -15,-32 -12,-16 C-10,-32 -4,-44 0,-46 C4,-44 10,-32 12,-16 C15,-32 21,-42 29,-44 C38,-38 42,-22 41,-4 C40,26 18,50 0,60 Z" fill="url(#petal)"/>
<path d="M-12,-18 C-11,0 -8,18 -4,32 M12,-18 C11,0 8,18 4,32" stroke="#7a1030" stroke-width="3.5" fill="none" stroke-linecap="round"/>
<path d="M-30,-20 C-32,0 -24,24 -12,42" stroke="#e2558a" stroke-width="5" fill="none" stroke-linecap="round" opacity="0.6"/>
</g>
</g>
</g>
<g transform="translate(1377.3,329.5) rotate(8.8)">
<path d="M-22,52 L22,52 L26,167.2 L-26,167.2 Z" fill="url(#stalk)"/>
<path d="M-11,52 L11,52 L13.5,163.2 L-13.5,163.2 Z" fill="#d8601a"/>
<path d="M1,74 L7,74 L9,147.2 L3,147.2 Z" fill="#f28e24" opacity="0.9"/>
<path d="M-12.5,54 L-15.5,164.2 M12.5,54 L15.5,164.2" stroke="#240603" stroke-width="5.5" stroke-linecap="round" fill="none"/>
<path d="M-15.5,165.2 L15.5,165.2" stroke="#3a0c06" stroke-width="5" fill="none"/>
<g transform="scale(0.95)">
<path d="M-24,66 C-27,54 -50,42 -57,16 C-63,-6 -64,-34 -56,-51 C-48,-66 -20,-70 0,-66 C20,-70 48,-66 56,-51 C64,-34 63,-6 57,16 C50,42 27,54 24,66 Z" fill="#921728" stroke="#b51e2c" stroke-width="2.5" stroke-linejoin="round"/>
<path d="M-15,64 C-19,52 -41,40 -47,15 C-52,-6 -53,-30 -46,-43 C-39,-55 -16,-59 0,-56 C16,-59 39,-55 46,-43 C53,-30 52,-6 47,15 C41,40 19,52 15,64 Z" fill="#2e0610"/>
<g transform="translate(0,4) scale(0.97,0.95)">
<path d="M-34,-8 C-40,-34 -32,-50 -20,-50 C-12,-50 -8,-42 -6,-34 C-4,-46 4,-52 12,-50 C22,-52 36,-44 36,-22 C36,-10 32,0 28,8 Z" fill="#a3183a"/>
<path d="M0,60 C-18,50 -40,26 -41,-4 C-42,-22 -38,-38 -29,-44 C-21,-42 -15,-32 -12,-16 C-10,-32 -4,-44 0,-46 C4,-44 10,-32 12,-16 C15,-32 21,-42 29,-44 C38,-38 42,-22 41,-4 C40,26 18,50 0,60 Z" fill="url(#petal)"/>
<path d="M-12,-18 C-11,0 -8,18 -4,32 M12,-18 C11,0 8,18 4,32" stroke="#7a1030" stroke-width="3.5" fill="none" stroke-linecap="round"/>
<path d="M-30,-20 C-32,0 -24,24 -12,42" stroke="#e2558a" stroke-width="5" fill="none" stroke-linecap="round" opacity="0.6"/>
</g>
</g>
</g>
<g transform="translate(1617.5,410.4) rotate(26.6)">
<path d="M-22,52 L22,52 L26,164.8 L-26,164.8 Z" fill="url(#stalk)"/>
<path d="M-11,52 L11,52 L13.5,160.8 L-13.5,160.8 Z" fill="#d8601a"/>
<path d="M1,74 L7,74 L9,144.8 L3,144.8 Z" fill="#f28e24" opacity="0.9"/>
<path d="M-12.5,54 L-15.5,161.8 M12.5,54 L15.5,161.8" stroke="#240603" stroke-width="5.5" stroke-linecap="round" fill="none"/>
<path d="M-15.5,162.8 L15.5,162.8" stroke="#3a0c06" stroke-width="5" fill="none"/>
<g transform="scale(0.95)">
<path d="M-24,66 C-27,54 -50,42 -57,16 C-63,-6 -64,-34 -56,-51 C-48,-66 -20,-70 0,-66 C20,-70 48,-66 56,-51 C64,-34 63,-6 57,16 C50,42 27,54 24,66 Z" fill="#921728" stroke="#b51e2c" stroke-width="2.5" stroke-linejoin="round"/>
<path d="M-15,64 C-19,52 -41,40 -47,15 C-52,-6 -53,-30 -46,-43 C-39,-55 -16,-59 0,-56 C16,-59 39,-55 46,-43 C53,-30 52,-6 47,15 C41,40 19,52 15,64 Z" fill="#2e0610"/>
<g transform="translate(0,4) scale(0.97,0.95)">
<path d="M-34,-8 C-40,-34 -32,-50 -20,-50 C-12,-50 -8,-42 -6,-34 C-4,-46 4,-52 12,-50 C22,-52 36,-44 36,-22 C36,-10 32,0 28,8 Z" fill="#a3183a"/>
<path d="M0,60 C-18,50 -40,26 -41,-4 C-42,-22 -38,-38 -29,-44 C-21,-42 -15,-32 -12,-16 C-10,-32 -4,-44 0,-46 C4,-44 10,-32 12,-16 C15,-32 21,-42 29,-44 C38,-38 42,-22 41,-4 C40,26 18,50 0,60 Z" fill="url(#petal)"/>
<path d="M-12,-18 C-11,0 -8,18 -4,32 M12,-18 C11,0 8,18 4,32" stroke="#7a1030" stroke-width="3.5" fill="none" stroke-linecap="round"/>
<path d="M-30,-20 C-32,0 -24,24 -12,42" stroke="#e2558a" stroke-width="5" fill="none" stroke-linecap="round" opacity="0.6"/>
</g>
</g>
</g>
<g transform="translate(1821.9,582.1) rotate(45.1)">
<path d="M-22,52 L22,52 L26,148.8 L-26,148.8 Z" fill="url(#stalk)"/>
<path d="M-11,52 L11,52 L13.5,144.8 L-13.5,144.8 Z" fill="#d8601a"/>
<path d="M1,74 L7,74 L9,128.8 L3,128.8 Z" fill="#f28e24" opacity="0.9"/>
<path d="M-12.5,54 L-15.5,145.8 M12.5,54 L15.5,145.8" stroke="#240603" stroke-width="5.5" stroke-linecap="round" fill="none"/>
<path d="M-15.5,146.8 L15.5,146.8" stroke="#3a0c06" stroke-width="5" fill="none"/>
<g transform="scale(0.95)">
<path d="M-24,66 C-27,54 -50,42 -57,16 C-63,-6 -64,-34 -56,-51 C-48,-66 -20,-70 0,-66 C20,-70 48,-66 56,-51 C64,-34 63,-6 57,16 C50,42 27,54 24,66 Z" fill="#921728" stroke="#b51e2c" stroke-width="2.5" stroke-linejoin="round"/>
<path d="M-15,64 C-19,52 -41,40 -47,15 C-52,-6 -53,-30 -46,-43 C-39,-55 -16,-59 0,-56 C16,-59 39,-55 46,-43 C53,-30 52,-6 47,15 C41,40 19,52 15,64 Z" fill="#2e0610"/>
<g transform="translate(0,4) scale(0.97,0.95)">
<path d="M-34,-8 C-40,-34 -32,-50 -20,-50 C-12,-50 -8,-42 -6,-34 C-4,-46 4,-52 12,-50 C22,-52 36,-44 36,-22 C36,-10 32,0 28,8 Z" fill="#a3183a"/>
<path d="M0,60 C-18,50 -40,26 -41,-4 C-42,-22 -38,-38 -29,-44 C-21,-42 -15,-32 -12,-16 C-10,-32 -4,-44 0,-46 C4,-44 10,-32 12,-16 C15,-32 21,-42 29,-44 C38,-38 42,-22 41,-4 C40,26 18,50 0,60 Z" fill="url(#petal)"/>
<path d="M-12,-18 C-11,0 -8,18 -4,32 M12,-18 C11,0 8,18 4,32" stroke="#7a1030" stroke-width="3.5" fill="none" stroke-linecap="round"/>
<path d="M-30,-20 C-32,0 -24,24 -12,42" stroke="#e2558a" stroke-width="5" fill="none" stroke-linecap="round" opacity="0.6"/>
</g>
</g>
</g>
<g transform="translate(1972.5,782.6) rotate(62.7)">
<path d="M-22,52 L22,52 L26,157.3 L-26,157.3 Z" fill="url(#stalk)"/>
<path d="M-11,52 L11,52 L13.5,153.3 L-13.5,153.3 Z" fill="#d8601a"/>
<path d="M1,74 L7,74 L9,137.3 L3,137.3 Z" fill="#f28e24" opacity="0.9"/>
<path d="M-12.5,54 L-15.5,154.3 M12.5,54 L15.5,154.3" stroke="#240603" stroke-width="5.5" stroke-linecap="round" fill="none"/>
<path d="M-15.5,155.3 L15.5,155.3" stroke="#3a0c06" stroke-width="5" fill="none"/>
<g transform="scale(0.95)">
<path d="M-24,66 C-27,54 -50,42 -57,16 C-63,-6 -64,-34 -56,-51 C-48,-66 -20,-70 0,-66 C20,-70 48,-66 56,-51 C64,-34 63,-6 57,16 C50,42 27,54 24,66 Z" fill="#921728" stroke="#b51e2c" stroke-width="2.5" stroke-linejoin="round"/>
<path d="M-15,64 C-19,52 -41,40 -47,15 C-52,-6 -53,-30 -46,-43 C-39,-55 -16,-59 0,-56 C16,-59 39,-55 46,-43 C53,-30 52,-6 47,15 C41,40 19,52 15,64 Z" fill="#2e0610"/>
<g transform="translate(0,4) scale(0.97,0.95)">
<path d="M-34,-8 C-40,-34 -32,-50 -20,-50 C-12,-50 -8,-42 -6,-34 C-4,-46 4,-52 12,-50 C22,-52 36,-44 36,-22 C36,-10 32,0 28,8 Z" fill="#a3183a"/>
<path d="M0,60 C-18,50 -40,26 -41,-4 C-42,-22 -38,-38 -29,-44 C-21,-42 -15,-32 -12,-16 C-10,-32 -4,-44 0,-46 C4,-44 10,-32 12,-16 C15,-32 21,-42 29,-44 C38,-38 42,-22 41,-4 C40,26 18,50 0,60 Z" fill="url(#petal)"/>
<path d="M-12,-18 C-11,0 -8,18 -4,32 M12,-18 C11,0 8,18 4,32" stroke="#7a1030" stroke-width="3.5" fill="none" stroke-linecap="round"/>
<path d="M-30,-20 C-32,0 -24,24 -12,42" stroke="#e2558a" stroke-width="5" fill="none" stroke-linecap="round" opacity="0.6"/>
</g>
</g>
</g>
<g transform="translate(2048.5,1033.6) rotate(81.6)">
<path d="M-22,52 L22,52 L26,156.5 L-26,156.5 Z" fill="url(#stalk)"/>
<path d="M-11,52 L11,52 L13.5,152.5 L-13.5,152.5 Z" fill="#d8601a"/>
<path d="M1,74 L7,74 L9,136.5 L3,136.5 Z" fill="#f28e24" opacity="0.9"/>
<path d="M-12.5,54 L-15.5,153.5 M12.5,54 L15.5,153.5" stroke="#240603" stroke-width="5.5" stroke-linecap="round" fill="none"/>
<path d="M-15.5,154.5 L15.5,154.5" stroke="#3a0c06" stroke-width="5" fill="none"/>
<g transform="scale(0.95)">
<path d="M-24,66 C-27,54 -50,42 -57,16 C-63,-6 -64,-34 -56,-51 C-48,-66 -20,-70 0,-66 C20,-70 48,-66 56,-51 C64,-34 63,-6 57,16 C50,42 27,54 24,66 Z" fill="#921728" stroke="#b51e2c" stroke-width="2.5" stroke-linejoin="round"/>
<path d="M-15,64 C-19,52 -41,40 -47,15 C-52,-6 -53,-30 -46,-43 C-39,-55 -16,-59 0,-56 C16,-59 39,-55 46,-43 C53,-30 52,-6 47,15 C41,40 19,52 15,64 Z" fill="#2e0610"/>
<g transform="translate(0,4) scale(0.97,0.95)">
<path d="M-34,-8 C-40,-34 -32,-50 -20,-50 C-12,-50 -8,-42 -6,-34 C-4,-46 4,-52 12,-50 C22,-52 36,-44 36,-22 C36,-10 32,0 28,8 Z" fill="#a3183a"/>
<path d="M0,60 C-18,50 -40,26 -41,-4 C-42,-22 -38,-38 -29,-44 C-21,-42 -15,-32 -12,-16 C-10,-32 -4,-44 0,-46 C4,-44 10,-32 12,-16 C15,-32 21,-42 29,-44 C38,-38 42,-22 41,-4 C40,26 18,50 0,60 Z" fill="url(#petal)"/>
<path d="M-12,-18 C-11,0 -8,18 -4,32 M12,-18 C11,0 8,18 4,32" stroke="#7a1030" stroke-width="3.5" fill="none" stroke-linecap="round"/>
<path d="M-30,-20 C-32,0 -24,24 -12,42" stroke="#e2558a" stroke-width="5" fill="none" stroke-linecap="round" opacity="0.6"/>
</g>
</g>
</g>
<g transform="translate(2048.4,1299.7) rotate(100.9)">
<path d="M-22,52 L22,52 L26,162 L-26,162 Z" fill="url(#stalk)"/>
<path d="M-11,52 L11,52 L13.5,158 L-13.5,158 Z" fill="#d8601a"/>
<path d="M1,74 L7,74 L9,142 L3,142 Z" fill="#f28e24" opacity="0.9"/>
<path d="M-12.5,54 L-15.5,159 M12.5,54 L15.5,159" stroke="#240603" stroke-width="5.5" stroke-linecap="round" fill="none"/>
<path d="M-15.5,160 L15.5,160" stroke="#3a0c06" stroke-width="5" fill="none"/>
<g transform="scale(0.95)">
<path d="M-24,66 C-27,54 -50,42 -57,16 C-63,-6 -64,-34 -56,-51 C-48,-66 -20,-70 0,-66 C20,-70 48,-66 56,-51 C64,-34 63,-6 57,16 C50,42 27,54 24,66 Z" fill="#921728" stroke="#b51e2c" stroke-width="2.5" stroke-linejoin="round"/>
<path d="M-15,64 C-19,52 -41,40 -47,15 C-52,-6 -53,-30 -46,-43 C-39,-55 -16,-59 0,-56 C16,-59 39,-55 46,-43 C53,-30 52,-6 47,15 C41,40 19,52 15,64 Z" fill="#2e0610"/>
<g transform="translate(0,4) scale(0.97,0.95)">
<path d="M-34,-8 C-40,-34 -32,-50 -20,-50 C-12,-50 -8,-42 -6,-34 C-4,-46 4,-52 12,-50 C22,-52 36,-44 36,-22 C36,-10 32,0 28,8 Z" fill="#a3183a"/>
<path d="M0,60 C-18,50 -40,26 -41,-4 C-42,-22 -38,-38 -29,-44 C-21,-42 -15,-32 -12,-16 C-10,-32 -4,-44 0,-46 C4,-44 10,-32 12,-16 C15,-32 21,-42 29,-44 C38,-38 42,-22 41,-4 C40,26 18,50 0,60 Z" fill="url(#petal)"/>
<path d="M-12,-18 C-11,0 -8,18 -4,32 M12,-18 C11,0 8,18 4,32" stroke="#7a1030" stroke-width="3.5" fill="none" stroke-linecap="round"/>
<path d="M-30,-20 C-32,0 -24,24 -12,42" stroke="#e2558a" stroke-width="5" fill="none" stroke-linecap="round" opacity="0.6"/>
</g>
</g>
</g>
<g transform="translate(1965.2,1540.1) rotate(119.1)">
<path d="M-22,52 L22,52 L26,162 L-26,162 Z" fill="url(#stalk)"/>
<path d="M-11,52 L11,52 L13.5,158 L-13.5,158 Z" fill="#d8601a"/>
<path d="M1,74 L7,74 L9,142 L3,142 Z" fill="#f28e24" opacity="0.9"/>
<path d="M-12.5,54 L-15.5,159 M12.5,54 L15.5,159" stroke="#240603" stroke-width="5.5" stroke-linecap="round" fill="none"/>
<path d="M-15.5,160 L15.5,160" stroke="#3a0c06" stroke-width="5" fill="none"/>
<g transform="scale(0.95)">
<path d="M-24,66 C-27,54 -50,42 -57,16 C-63,-6 -64,-34 -56,-51 C-48,-66 -20,-70 0,-66 C20,-70 48,-66 56,-51 C64,-34 63,-6 57,16 C50,42 27,54 24,66 Z" fill="#921728" stroke="#b51e2c" stroke-width="2.5" stroke-linejoin="round"/>
<path d="M-15,64 C-19,52 -41,40 -47,15 C-52,-6 -53,-30 -46,-43 C-39,-55 -16,-59 0,-56 C16,-59 39,-55 46,-43 C53,-30 52,-6 47,15 C41,40 19,52 15,64 Z" fill="#2e0610"/>
<g transform="translate(0,4) scale(0.97,0.95)">
<path d="M-34,-8 C-40,-34 -32,-50 -20,-50 C-12,-50 -8,-42 -6,-34 C-4,-46 4,-52 12,-50 C22,-52 36,-44 36,-22 C36,-10 32,0 28,8 Z" fill="#a3183a"/>
<path d="M0,60 C-18,50 -40,26 -41,-4 C-42,-22 -38,-38 -29,-44 C-21,-42 -15,-32 -12,-16 C-10,-32 -4,-44 0,-46 C4,-44 10,-32 12,-16 C15,-32 21,-42 29,-44 C38,-38 42,-22 41,-4 C40,26 18,50 0,60 Z" fill="url(#petal)"/>
<path d="M-12,-18 C-11,0 -8,18 -4,32 M12,-18 C11,0 8,18 4,32" stroke="#7a1030" stroke-width="3.5" fill="none" stroke-linecap="round"/>
<path d="M-30,-20 C-32,0 -24,24 -12,42" stroke="#e2558a" stroke-width="5" fill="none" stroke-linecap="round" opacity="0.6"/>
</g>
</g>
</g>
<g transform="translate(1810.5,1742.3) rotate(136.7)">
<path d="M-22,52 L22,52 L26,159.3 L-26,159.3 Z" fill="url(#stalk)"/>
<path d="M-11,52 L11,52 L13.5,155.3 L-13.5,155.3 Z" fill="#d8601a"/>
<path d="M1,74 L7,74 L9,139.3 L3,139.3 Z" fill="#f28e24" opacity="0.9"/>
<path d="M-12.5,54 L-15.5,156.3 M12.5,54 L15.5,156.3" stroke="#240603" stroke-width="5.5" stroke-linecap="round" fill="none"/>
<path d="M-15.5,157.3 L15.5,157.3" stroke="#3a0c06" stroke-width="5" fill="none"/>
<g transform="scale(0.95)">
<path d="M-24,66 C-27,54 -50,42 -57,16 C-63,-6 -64,-34 -56,-51 C-48,-66 -20,-70 0,-66 C20,-70 48,-66 56,-51 C64,-34 63,-6 57,16 C50,42 27,54 24,66 Z" fill="#921728" stroke="#b51e2c" stroke-width="2.5" stroke-linejoin="round"/>
<path d="M-15,64 C-19,52 -41,40 -47,15 C-52,-6 -53,-30 -46,-43 C-39,-55 -16,-59 0,-56 C16,-59 39,-55 46,-43 C53,-30 52,-6 47,15 C41,40 19,52 15,64 Z" fill="#2e0610"/>
<g transform="translate(0,4) scale(0.97,0.95)">
<path d="M-34,-8 C-40,-34 -32,-50 -20,-50 C-12,-50 -8,-42 -6,-34 C-4,-46 4,-52 12,-50 C22,-52 36,-44 36,-22 C36,-10 32,0 28,8 Z" fill="#a3183a"/>
<path d="M0,60 C-18,50 -40,26 -41,-4 C-42,-22 -38,-38 -29,-44 C-21,-42 -15,-32 -12,-16 C-10,-32 -4,-44 0,-46 C4,-44 10,-32 12,-16 C15,-32 21,-42 29,-44 C38,-38 42,-22 41,-4 C40,26 18,50 0,60 Z" fill="url(#petal)"/>
<path d="M-12,-18 C-11,0 -8,18 -4,32 M12,-18 C11,0 8,18 4,32" stroke="#7a1030" stroke-width="3.5" fill="none" stroke-linecap="round"/>
<path d="M-30,-20 C-32,0 -24,24 -12,42" stroke="#e2558a" stroke-width="5" fill="none" stroke-linecap="round" opacity="0.6"/>
</g>
</g>
</g>
<g transform="translate(1607.7,1902.8) rotate(154.5)">
<path d="M-22,52 L22,52 L26,173.9 L-26,173.9 Z" fill="url(#stalk)"/>
<path d="M-11,52 L11,52 L13.5,169.9 L-13.5,169.9 Z" fill="#d8601a"/>
<path d="M1,74 L7,74 L9,153.9 L3,153.9 Z" fill="#f28e24" opacity="0.9"/>
<path d="M-12.5,54 L-15.5,170.9 M12.5,54 L15.5,170.9" stroke="#240603" stroke-width="5.5" stroke-linecap="round" fill="none"/>
<path d="M-15.5,171.9 L15.5,171.9" stroke="#3a0c06" stroke-width="5" fill="none"/>
<g transform="scale(0.95)">
<path d="M-24,66 C-27,54 -50,42 -57,16 C-63,-6 -64,-34 -56,-51 C-48,-66 -20,-70 0,-66 C20,-70 48,-66 56,-51 C64,-34 63,-6 57,16 C50,42 27,54 24,66 Z" fill="#921728" stroke="#b51e2c" stroke-width="2.5" stroke-linejoin="round"/>
<path d="M-15,64 C-19,52 -41,40 -47,15 C-52,-6 -53,-30 -46,-43 C-39,-55 -16,-59 0,-56 C16,-59 39,-55 46,-43 C53,-30 52,-6 47,15 C41,40 19,52 15,64 Z" fill="#2e0610"/>
<g transform="translate(0,4) scale(0.97,0.95)">
<path d="M-34,-8 C-40,-34 -32,-50 -20,-50 C-12,-50 -8,-42 -6,-34 C-4,-46 4,-52 12,-50 C22,-52 36,-44 36,-22 C36,-10 32,0 28,8 Z" fill="#a3183a"/>
<path d="M0,60 C-18,50 -40,26 -41,-4 C-42,-22 -38,-38 -29,-44 C-21,-42 -15,-32 -12,-16 C-10,-32 -4,-44 0,-46 C4,-44 10,-32 12,-16 C15,-32 21,-42 29,-44 C38,-38 42,-22 41,-4 C40,26 18,50 0,60 Z" fill="url(#petal)"/>
<path d="M-12,-18 C-11,0 -8,18 -4,32 M12,-18 C11,0 8,18 4,32" stroke="#7a1030" stroke-width="3.5" fill="none" stroke-linecap="round"/>
<path d="M-30,-20 C-32,0 -24,24 -12,42" stroke="#e2558a" stroke-width="5" fill="none" stroke-linecap="round" opacity="0.6"/>
</g>
</g>
</g>
<g transform="translate(1372.4,1974.5) rotate(171.6)">
<path d="M-22,52 L22,52 L26,172.4 L-26,172.4 Z" fill="url(#stalk)"/>
<path d="M-11,52 L11,52 L13.5,168.4 L-13.5,168.4 Z" fill="#d8601a"/>
<path d="M1,74 L7,74 L9,152.4 L3,152.4 Z" fill="#f28e24" opacity="0.9"/>
<path d="M-12.5,54 L-15.5,169.4 M12.5,54 L15.5,169.4" stroke="#240603" stroke-width="5.5" stroke-linecap="round" fill="none"/>
<path d="M-15.5,170.4 L15.5,170.4" stroke="#3a0c06" stroke-width="5" fill="none"/>
<g transform="scale(0.95)">
<path d="M-24,66 C-27,54 -50,42 -57,16 C-63,-6 -64,-34 -56,-51 C-48,-66 -20,-70 0,-66 C20,-70 48,-66 56,-51 C64,-34 63,-6 57,16 C50,42 27,54 24,66 Z" fill="#921728" stroke="#b51e2c" stroke-width="2.5" stroke-linejoin="round"/>
<path d="M-15,64 C-19,52 -41,40 -47,15 C-52,-6 -53,-30 -46,-43 C-39,-55 -16,-59 0,-56 C16,-59 39,-55 46,-43 C53,-30 52,-6 47,15 C41,40 19,52 15,64 Z" fill="#2e0610"/>
<g transform="translate(0,4) scale(0.97,0.95)">
<path d="M-34,-8 C-40,-34 -32,-50 -20,-50 C-12,-50 -8,-42 -6,-34 C-4,-46 4,-52 12,-50 C22,-52 36,-44 36,-22 C36,-10 32,0 28,8 Z" fill="#a3183a"/>
<path d="M0,60 C-18,50 -40,26 -41,-4 C-42,-22 -38,-38 -29,-44 C-21,-42 -15,-32 -12,-16 C-10,-32 -4,-44 0,-46 C4,-44 10,-32 12,-16 C15,-32 21,-42 29,-44 C38,-38 42,-22 41,-4 C40,26 18,50 0,60 Z" fill="url(#petal)"/>
<path d="M-12,-18 C-11,0 -8,18 -4,32 M12,-18 C11,0 8,18 4,32" stroke="#7a1030" stroke-width="3.5" fill="none" stroke-linecap="round"/>
<path d="M-30,-20 C-32,0 -24,24 -12,42" stroke="#e2558a" stroke-width="5" fill="none" stroke-linecap="round" opacity="0.6"/>
</g>
</g>
</g>
<g transform="translate(1120.8,1972.5) rotate(-170.7)">
<path d="M-22,52 L22,52 L26,172.4 L-26,172.4 Z" fill="url(#stalk)"/>
<path d="M-11,52 L11,52 L13.5,168.4 L-13.5,168.4 Z" fill="#d8601a"/>
<path d="M1,74 L7,74 L9,152.4 L3,152.4 Z" fill="#f28e24" opacity="0.9"/>
<path d="M-12.5,54 L-15.5,169.4 M12.5,54 L15.5,169.4" stroke="#240603" stroke-width="5.5" stroke-linecap="round" fill="none"/>
<path d="M-15.5,170.4 L15.5,170.4" stroke="#3a0c06" stroke-width="5" fill="none"/>
<g transform="scale(0.95)">
<path d="M-24,66 C-27,54 -50,42 -57,16 C-63,-6 -64,-34 -56,-51 C-48,-66 -20,-70 0,-66 C20,-70 48,-66 56,-51 C64,-34 63,-6 57,16 C50,42 27,54 24,66 Z" fill="#921728" stroke="#b51e2c" stroke-width="2.5" stroke-linejoin="round"/>
<path d="M-15,64 C-19,52 -41,40 -47,15 C-52,-6 -53,-30 -46,-43 C-39,-55 -16,-59 0,-56 C16,-59 39,-55 46,-43 C53,-30 52,-6 47,15 C41,40 19,52 15,64 Z" fill="#2e0610"/>
<g transform="translate(0,4) scale(0.97,0.95)">
<path d="M-34,-8 C-40,-34 -32,-50 -20,-50 C-12,-50 -8,-42 -6,-34 C-4,-46 4,-52 12,-50 C22,-52 36,-44 36,-22 C36,-10 32,0 28,8 Z" fill="#a3183a"/>
<path d="M0,60 C-18,50 -40,26 -41,-4 C-42,-22 -38,-38 -29,-44 C-21,-42 -15,-32 -12,-16 C-10,-32 -4,-44 0,-46 C4,-44 10,-32 12,-16 C15,-32 21,-42 29,-44 C38,-38 42,-22 41,-4 C40,26 18,50 0,60 Z" fill="url(#petal)"/>
<path d="M-12,-18 C-11,0 -8,18 -4,32 M12,-18 C11,0 8,18 4,32" stroke="#7a1030" stroke-width="3.5" fill="none" stroke-linecap="round"/>
<path d="M-30,-20 C-32,0 -24,24 -12,42" stroke="#e2558a" stroke-width="5" fill="none" stroke-linecap="round" opacity="0.6"/>
</g>
</g>
</g>
<g transform="translate(874.6,1891.5) rotate(-152.7)">
<path d="M-22,52 L22,52 L26,174.6 L-26,174.6 Z" fill="url(#stalk)"/>
<path d="M-11,52 L11,52 L13.5,170.6 L-13.5,170.6 Z" fill="#d8601a"/>
<path d="M1,74 L7,74 L9,154.6 L3,154.6 Z" fill="#f28e24" opacity="0.9"/>
<path d="M-12.5,54 L-15.5,171.6 M12.5,54 L15.5,171.6" stroke="#240603" stroke-width="5.5" stroke-linecap="round" fill="none"/>
<path d="M-15.5,172.6 L15.5,172.6" stroke="#3a0c06" stroke-width="5" fill="none"/>
<g transform="scale(0.95)">
<path d="M-24,66 C-27,54 -50,42 -57,16 C-63,-6 -64,-34 -56,-51 C-48,-66 -20,-70 0,-66 C20,-70 48,-66 56,-51 C64,-34 63,-6 57,16 C50,42 27,54 24,66 Z" fill="#921728" stroke="#b51e2c" stroke-width="2.5" stroke-linejoin="round"/>
<path d="M-15,64 C-19,52 -41,40 -47,15 C-52,-6 -53,-30 -46,-43 C-39,-55 -16,-59 0,-56 C16,-59 39,-55 46,-43 C53,-30 52,-6 47,15 C41,40 19,52 15,64 Z" fill="#2e0610"/>
<g transform="translate(0,4) scale(0.97,0.95)">
<path d="M-34,-8 C-40,-34 -32,-50 -20,-50 C-12,-50 -8,-42 -6,-34 C-4,-46 4,-52 12,-50 C22,-52 36,-44 36,-22 C36,-10 32,0 28,8 Z" fill="#a3183a"/>
<path d="M0,60 C-18,50 -40,26 -41,-4 C-42,-22 -38,-38 -29,-44 C-21,-42 -15,-32 -12,-16 C-10,-32 -4,-44 0,-46 C4,-44 10,-32 12,-16 C15,-32 21,-42 29,-44 C38,-38 42,-22 41,-4 C40,26 18,50 0,60 Z" fill="url(#petal)"/>
<path d="M-12,-18 C-11,0 -8,18 -4,32 M12,-18 C11,0 8,18 4,32" stroke="#7a1030" stroke-width="3.5" fill="none" stroke-linecap="round"/>
<path d="M-30,-20 C-32,0 -24,24 -12,42" stroke="#e2558a" stroke-width="5" fill="none" stroke-linecap="round" opacity="0.6"/>
</g>
</g>
</g>
<g transform="translate(675.2,1736) rotate(-135.4)">
<path d="M-22,52 L22,52 L26,169.2 L-26,169.2 Z" fill="url(#stalk)"/>
<path d="M-11,52 L11,52 L13.5,165.2 L-13.5,165.2 Z" fill="#d8601a"/>
<path d="M1,74 L7,74 L9,149.2 L3,149.2 Z" fill="#f28e24" opacity="0.9"/>
<path d="M-12.5,54 L-15.5,166.2 M12.5,54 L15.5,166.2" stroke="#240603" stroke-width="5.5" stroke-linecap="round" fill="none"/>
<path d="M-15.5,167.2 L15.5,167.2" stroke="#3a0c06" stroke-width="5" fill="none"/>
<g transform="scale(0.95)">
<path d="M-24,66 C-27,54 -50,42 -57,16 C-63,-6 -64,-34 -56,-51 C-48,-66 -20,-70 0,-66 C20,-70 48,-66 56,-51 C64,-34 63,-6 57,16 C50,42 27,54 24,66 Z" fill="#921728" stroke="#b51e2c" stroke-width="2.5" stroke-linejoin="round"/>
<path d="M-15,64 C-19,52 -41,40 -47,15 C-52,-6 -53,-30 -46,-43 C-39,-55 -16,-59 0,-56 C16,-59 39,-55 46,-43 C53,-30 52,-6 47,15 C41,40 19,52 15,64 Z" fill="#2e0610"/>
<g transform="translate(0,4) scale(0.97,0.95)">
<path d="M-34,-8 C-40,-34 -32,-50 -20,-50 C-12,-50 -8,-42 -6,-34 C-4,-46 4,-52 12,-50 C22,-52 36,-44 36,-22 C36,-10 32,0 28,8 Z" fill="#a3183a"/>
<path d="M0,60 C-18,50 -40,26 -41,-4 C-42,-22 -38,-38 -29,-44 C-21,-42 -15,-32 -12,-16 C-10,-32 -4,-44 0,-46 C4,-44 10,-32 12,-16 C15,-32 21,-42 29,-44 C38,-38 42,-22 41,-4 C40,26 18,50 0,60 Z" fill="url(#petal)"/>
<path d="M-12,-18 C-11,0 -8,18 -4,32 M12,-18 C11,0 8,18 4,32" stroke="#7a1030" stroke-width="3.5" fill="none" stroke-linecap="round"/>
<path d="M-30,-20 C-32,0 -24,24 -12,42" stroke="#e2558a" stroke-width="5" fill="none" stroke-linecap="round" opacity="0.6"/>
</g>
</g>
</g>
<g transform="translate(525.6,1529.3) rotate(-117.9)">
<path d="M-22,52 L22,52 L26,170.6 L-26,170.6 Z" fill="url(#stalk)"/>
<path d="M-11,52 L11,52 L13.5,166.6 L-13.5,166.6 Z" fill="#d8601a"/>
<path d="M1,74 L7,74 L9,150.6 L3,150.6 Z" fill="#f28e24" opacity="0.9"/>
<path d="M-12.5,54 L-15.5,167.6 M12.5,54 L15.5,167.6" stroke="#240603" stroke-width="5.5" stroke-linecap="round" fill="none"/>
<path d="M-15.5,168.6 L15.5,168.6" stroke="#3a0c06" stroke-width="5" fill="none"/>
<g transform="scale(0.95)">
<path d="M-24,66 C-27,54 -50,42 -57,16 C-63,-6 -64,-34 -56,-51 C-48,-66 -20,-70 0,-66 C20,-70 48,-66 56,-51 C64,-34 63,-6 57,16 C50,42 27,54 24,66 Z" fill="#921728" stroke="#b51e2c" stroke-width="2.5" stroke-linejoin="round"/>
<path d="M-15,64 C-19,52 -41,40 -47,15 C-52,-6 -53,-30 -46,-43 C-39,-55 -16,-59 0,-56 C16,-59 39,-55 46,-43 C53,-30 52,-6 47,15 C41,40 19,52 15,64 Z" fill="#2e0610"/>
<g transform="translate(0,4) scale(0.97,0.95)">
<path d="M-34,-8 C-40,-34 -32,-50 -20,-50 C-12,-50 -8,-42 -6,-34 C-4,-46 4,-52 12,-50 C22,-52 36,-44 36,-22 C36,-10 32,0 28,8 Z" fill="#a3183a"/>
<path d="M0,60 C-18,50 -40,26 -41,-4 C-42,-22 -38,-38 -29,-44 C-21,-42 -15,-32 -12,-16 C-10,-32 -4,-44 0,-46 C4,-44 10,-32 12,-16 C15,-32 21,-42 29,-44 C38,-38 42,-22 41,-4 C40,26 18,50 0,60 Z" fill="url(#petal)"/>
<path d="M-12,-18 C-11,0 -8,18 -4,32 M12,-18 C11,0 8,18 4,32" stroke="#7a1030" stroke-width="3.5" fill="none" stroke-linecap="round"/>
<path d="M-30,-20 C-32,0 -24,24 -12,42" stroke="#e2558a" stroke-width="5" fill="none" stroke-linecap="round" opacity="0.6"/>
</g>
</g>
</g>
<g transform="translate(454.5,1282.1) rotate(-99.7)">
<path d="M-22,52 L22,52 L26,162.1 L-26,162.1 Z" fill="url(#stalk)"/>
<path d="M-11,52 L11,52 L13.5,158.1 L-13.5,158.1 Z" fill="#d8601a"/>
<path d="M1,74 L7,74 L9,142.1 L3,142.1 Z" fill="#f28e24" opacity="0.9"/>
<path d="M-12.5,54 L-15.5,159.1 M12.5,54 L15.5,159.1" stroke="#240603" stroke-width="5.5" stroke-linecap="round" fill="none"/>
<path d="M-15.5,160.1 L15.5,160.1" stroke="#3a0c06" stroke-width="5" fill="none"/>
<g transform="scale(0.95)">
<path d="M-24,66 C-27,54 -50,42 -57,16 C-63,-6 -64,-34 -56,-51 C-48,-66 -20,-70 0,-66 C20,-70 48,-66 56,-51 C64,-34 63,-6 57,16 C50,42 27,54 24,66 Z" fill="#921728" stroke="#b51e2c" stroke-width="2.5" stroke-linejoin="round"/>
<path d="M-15,64 C-19,52 -41,40 -47,15 C-52,-6 -53,-30 -46,-43 C-39,-55 -16,-59 0,-56 C16,-59 39,-55 46,-43 C53,-30 52,-6 47,15 C41,40 19,52 15,64 Z" fill="#2e0610"/>
<g transform="translate(0,4) scale(0.97,0.95)">
<path d="M-34,-8 C-40,-34 -32,-50 -20,-50 C-12,-50 -8,-42 -6,-34 C-4,-46 4,-52 12,-50 C22,-52 36,-44 36,-22 C36,-10 32,0 28,8 Z" fill="#a3183a"/>
<path d="M0,60 C-18,50 -40,26 -41,-4 C-42,-22 -38,-38 -29,-44 C-21,-42 -15,-32 -12,-16 C-10,-32 -4,-44 0,-46 C4,-44 10,-32 12,-16 C15,-32 21,-42 29,-44 C38,-38 42,-22 41,-4 C40,26 18,50 0,60 Z" fill="url(#petal)"/>
<path d="M-12,-18 C-11,0 -8,18 -4,32 M12,-18 C11,0 8,18 4,32" stroke="#7a1030" stroke-width="3.5" fill="none" stroke-linecap="round"/>
<path d="M-30,-20 C-32,0 -24,24 -12,42" stroke="#e2558a" stroke-width="5" fill="none" stroke-linecap="round" opacity="0.6"/>
</g>
</g>
</g>
<g transform="translate(456.5,1031.6) rotate(-81.4)">
<path d="M-22,52 L22,52 L26,157.8 L-26,157.8 Z" fill="url(#stalk)"/>
<path d="M-11,52 L11,52 L13.5,153.8 L-13.5,153.8 Z" fill="#d8601a"/>
<path d="M1,74 L7,74 L9,137.8 L3,137.8 Z" fill="#f28e24" opacity="0.9"/>
<path d="M-12.5,54 L-15.5,154.8 M12.5,54 L15.5,154.8" stroke="#240603" stroke-width="5.5" stroke-linecap="round" fill="none"/>
<path d="M-15.5,155.8 L15.5,155.8" stroke="#3a0c06" stroke-width="5" fill="none"/>
<g transform="scale(0.95)">
<path d="M-24,66 C-27,54 -50,42 -57,16 C-63,-6 -64,-34 -56,-51 C-48,-66 -20,-70 0,-66 C20,-70 48,-66 56,-51 C64,-34 63,-6 57,16 C50,42 27,54 24,66 Z" fill="#921728" stroke="#b51e2c" stroke-width="2.5" stroke-linejoin="round"/>
<path d="M-15,64 C-19,52 -41,40 -47,15 C-52,-6 -53,-30 -46,-43 C-39,-55 -16,-59 0,-56 C16,-59 39,-55 46,-43 C53,-30 52,-6 47,15 C41,40 19,52 15,64 Z" fill="#2e0610"/>
<g transform="translate(0,4) scale(0.97,0.95)">
<path d="M-34,-8 C-40,-34 -32,-50 -20,-50 C-12,-50 -8,-42 -6,-34 C-4,-46 4,-52 12,-50 C22,-52 36,-44 36,-22 C36,-10 32,0 28,8 Z" fill="#a3183a"/>
<path d="M0,60 C-18,50 -40,26 -41,-4 C-42,-22 -38,-38 -29,-44 C-21,-42 -15,-32 -12,-16 C-10,-32 -4,-44 0,-46 C4,-44 10,-32 12,-16 C15,-32 21,-42 29,-44 C38,-38 42,-22 41,-4 C40,26 18,50 0,60 Z" fill="url(#petal)"/>
<path d="M-12,-18 C-11,0 -8,18 -4,32 M12,-18 C11,0 8,18 4,32" stroke="#7a1030" stroke-width="3.5" fill="none" stroke-linecap="round"/>
<path d="M-30,-20 C-32,0 -24,24 -12,42" stroke="#e2558a" stroke-width="5" fill="none" stroke-linecap="round" opacity="0.6"/>
</g>
</g>
</g>
<g transform="translate(527.5,781.6) rotate(-62.8)">
<path d="M-22,52 L22,52 L26,163.2 L-26,163.2 Z" fill="url(#stalk)"/>
<path d="M-11,52 L11,52 L13.5,159.2 L-13.5,159.2 Z" fill="#d8601a"/>
<path d="M1,74 L7,74 L9,143.2 L3,143.2 Z" fill="#f28e24" opacity="0.9"/>
<path d="M-12.5,54 L-15.5,160.2 M12.5,54 L15.5,160.2" stroke="#240603" stroke-width="5.5" stroke-linecap="round" fill="none"/>
<path d="M-15.5,161.2 L15.5,161.2" stroke="#3a0c06" stroke-width="5" fill="none"/>
<g transform="scale(0.95)">
<path d="M-24,66 C-27,54 -50,42 -57,16 C-63,-6 -64,-34 -56,-51 C-48,-66 -20,-70 0,-66 C20,-70 48,-66 56,-51 C64,-34 63,-6 57,16 C50,42 27,54 24,66 Z" fill="#921728" stroke="#b51e2c" stroke-width="2.5" stroke-linejoin="round"/>
<path d="M-15,64 C-19,52 -41,40 -47,15 C-52,-6 -53,-30 -46,-43 C-39,-55 -16,-59 0,-56 C16,-59 39,-55 46,-43 C53,-30 52,-6 47,15 C41,40 19,52 15,64 Z" fill="#2e0610"/>
<g transform="translate(0,4) scale(0.97,0.95)">
<path d="M-34,-8 C-40,-34 -32,-50 -20,-50 C-12,-50 -8,-42 -6,-34 C-4,-46 4,-52 12,-50 C22,-52 36,-44 36,-22 C36,-10 32,0 28,8 Z" fill="#a3183a"/>
<path d="M0,60 C-18,50 -40,26 -41,-4 C-42,-22 -38,-38 -29,-44 C-21,-42 -15,-32 -12,-16 C-10,-32 -4,-44 0,-46 C4,-44 10,-32 12,-16 C15,-32 21,-42 29,-44 C38,-38 42,-22 41,-4 C40,26 18,50 0,60 Z" fill="url(#petal)"/>
<path d="M-12,-18 C-11,0 -8,18 -4,32 M12,-18 C11,0 8,18 4,32" stroke="#7a1030" stroke-width="3.5" fill="none" stroke-linecap="round"/>
<path d="M-30,-20 C-32,0 -24,24 -12,42" stroke="#e2558a" stroke-width="5" fill="none" stroke-linecap="round" opacity="0.6"/>
</g>
</g>
</g>
<g transform="translate(670.1,568.1) rotate(-45.1)">
<path d="M-22,52 L22,52 L26,168.6 L-26,168.6 Z" fill="url(#stalk)"/>
<path d="M-11,52 L11,52 L13.5,164.6 L-13.5,164.6 Z" fill="#d8601a"/>
<path d="M1,74 L7,74 L9,148.6 L3,148.6 Z" fill="#f28e24" opacity="0.9"/>
<path d="M-12.5,54 L-15.5,165.6 M12.5,54 L15.5,165.6" stroke="#240603" stroke-width="5.5" stroke-linecap="round" fill="none"/>
<path d="M-15.5,166.6 L15.5,166.6" stroke="#3a0c06" stroke-width="5" fill="none"/>
<g transform="scale(0.95)">
<path d="M-24,66 C-27,54 -50,42 -57,16 C-63,-6 -64,-34 -56,-51 C-48,-66 -20,-70 0,-66 C20,-70 48,-66 56,-51 C64,-34 63,-6 57,16 C50,42 27,54 24,66 Z" fill="#921728" stroke="#b51e2c" stroke-width="2.5" stroke-linejoin="round"/>
<path d="M-15,64 C-19,52 -41,40 -47,15 C-52,-6 -53,-30 -46,-43 C-39,-55 -16,-59 0,-56 C16,-59 39,-55 46,-43 C53,-30 52,-6 47,15 C41,40 19,52 15,64 Z" fill="#2e0610"/>
<g transform="translate(0,4) scale(0.97,0.95)">
<path d="M-34,-8 C-40,-34 -32,-50 -20,-50 C-12,-50 -8,-42 -6,-34 C-4,-46 4,-52 12,-50 C22,-52 36,-44 36,-22 C36,-10 32,0 28,8 Z" fill="#a3183a"/>
<path d="M0,60 C-18,50 -40,26 -41,-4 C-42,-22 -38,-38 -29,-44 C-21,-42 -15,-32 -12,-16 C-10,-32 -4,-44 0,-46 C4,-44 10,-32 12,-16 C15,-32 21,-42 29,-44 C38,-38 42,-22 41,-4 C40,26 18,50 0,60 Z" fill="url(#petal)"/>
<path d="M-12,-18 C-11,0 -8,18 -4,32 M12,-18 C11,0 8,18 4,32" stroke="#7a1030" stroke-width="3.5" fill="none" stroke-linecap="round"/>
<path d="M-30,-20 C-32,0 -24,24 -12,42" stroke="#e2558a" stroke-width="5" fill="none" stroke-linecap="round" opacity="0.6"/>
</g>
</g>
</g>
<g transform="translate(868.7,412.6) rotate(-27.9)">
<path d="M-22,52 L22,52 L26,172 L-26,172 Z" fill="url(#stalk)"/>
<path d="M-11,52 L11,52 L13.5,168 L-13.5,168 Z" fill="#d8601a"/>
<path d="M1,74 L7,74 L9,152 L3,152 Z" fill="#f28e24" opacity="0.9"/>
<path d="M-12.5,54 L-15.5,169 M12.5,54 L15.5,169" stroke="#240603" stroke-width="5.5" stroke-linecap="round" fill="none"/>
<path d="M-15.5,170 L15.5,170" stroke="#3a0c06" stroke-width="5" fill="none"/>
<g transform="scale(0.95)">
<path d="M-24,66 C-27,54 -50,42 -57,16 C-63,-6 -64,-34 -56,-51 C-48,-66 -20,-70 0,-66 C20,-70 48,-66 56,-51 C64,-34 63,-6 57,16 C50,42 27,54 24,66 Z" fill="#921728" stroke="#b51e2c" stroke-width="2.5" stroke-linejoin="round"/>
<path d="M-15,64 C-19,52 -41,40 -47,15 C-52,-6 -53,-30 -46,-43 C-39,-55 -16,-59 0,-56 C16,-59 39,-55 46,-43 C53,-30 52,-6 47,15 C41,40 19,52 15,64 Z" fill="#2e0610"/>
<g transform="translate(0,4) scale(0.97,0.95)">
<path d="M-34,-8 C-40,-34 -32,-50 -20,-50 C-12,-50 -8,-42 -6,-34 C-4,-46 4,-52 12,-50 C22,-52 36,-44 36,-22 C36,-10 32,0 28,8 Z" fill="#a3183a"/>
<path d="M0,60 C-18,50 -40,26 -41,-4 C-42,-22 -38,-38 -29,-44 C-21,-42 -15,-32 -12,-16 C-10,-32 -4,-44 0,-46 C4,-44 10,-32 12,-16 C15,-32 21,-42 29,-44 C38,-38 42,-22 41,-4 C40,26 18,50 0,60 Z" fill="url(#petal)"/>
<path d="M-12,-18 C-11,0 -8,18 -4,32 M12,-18 C11,0 8,18 4,32" stroke="#7a1030" stroke-width="3.5" fill="none" stroke-linecap="round"/>
<path d="M-30,-20 C-32,0 -24,24 -12,42" stroke="#e2558a" stroke-width="5" fill="none" stroke-linecap="round" opacity="0.6"/>
</g>
</g>
</g>
<path d="M976,1148.9 C973.5,1140.6 960.4,1115.1 960.7,1099.2 C961,1083.3 969.9,1067 977.9,1053.3 C985.9,1039.6 998.6,1030.9 1008.5,1016.9 C1018.4,1002.9 1031.8,985 1037.2,969.1 C1042.6,953.2 1033.1,933.4 1041.1,921.3 C1049.1,909.2 1070.8,905 1085.1,896.4 C1099.4,887.8 1117,881.1 1127.2,869.6 C1137.4,858.1 1143.4,843.8 1146.3,827.5 C1149.2,811.2 1149.5,787.3 1144.4,772 C1139.3,756.7 1128.1,744.6 1115.7,735.7 C1103.3,726.8 1085.4,721 1069.8,718.4 C1054.2,715.8 1037.5,716.6 1021.9,720.4 C1006.3,724.2 990.4,732.8 976,741.4 C961.6,750 948.2,760.8 935.8,772 C923.4,783.2 911,794 901.4,808.4 C891.8,822.8 885.1,842.2 878.4,858.1 C871.7,874 862.8,888 861.2,904 C859.6,920 864.4,938.5 868.9,953.8 C873.4,969.1 883.5,980.3 888,995.9 C892.5,1011.5 893.6,1030.5 895.7,1047.5 C897.8,1064.5 899.7,1089.6 900.5,1098" fill="none" stroke="#f0a898" stroke-width="90" stroke-linecap="round" stroke-linejoin="round" opacity="0.5" filter="url(#soft)"/>
<path d="M1626.7,964 C1622.9,955.4 1611,929 1603.7,912.4 C1596.4,895.8 1592,878.5 1582.7,864.5 C1573.5,850.5 1560,839.4 1548.2,828.2 C1536.4,817.1 1525.9,805.6 1511.9,797.6 C1497.9,789.6 1480,782.3 1464,780.4 C1448,778.5 1432.1,782.3 1416.2,786.1 C1400.3,789.9 1382.4,794 1368.4,803.3 C1354.4,812.5 1340,827.6 1332,841.6 C1324,855.6 1322.1,872.2 1320.5,887.5 C1318.9,902.8 1322.1,917.4 1322.4,933.4 C1322.7,949.4 1324,966.9 1322.4,983.2 C1320.8,999.5 1317.7,1015.1 1312.9,1031 C1308.1,1046.9 1301.8,1063.5 1293.8,1078.8 C1285.8,1094.1 1275.9,1109.1 1265.1,1122.8 C1254.2,1136.5 1242,1151.8 1228.7,1161.1 C1215.4,1170.4 1200.7,1174.2 1185.1,1178.4 C1169.5,1182.6 1151.6,1184.2 1135.3,1186.1 C1119,1188 1103.1,1186.7 1087.5,1189.9 C1071.9,1193.1 1055.9,1197.9 1041.6,1205.2 C1027.2,1212.5 1010.6,1221.5 1001.4,1233.9 C992.1,1246.3 987.4,1264.5 986.1,1279.8 C984.8,1295.1 989,1310.8 993.8,1325.8 C998.6,1340.8 1006.2,1355.4 1014.8,1369.8 C1023.4,1384.2 1034.6,1398.8 1045.4,1411.9 C1056.2,1425 1067,1438 1079.8,1448.2 C1092.5,1458.4 1107.2,1465.4 1121.9,1473.1 C1136.6,1480.8 1152.6,1488 1167.9,1494.1 C1183.2,1500.1 1198.2,1504.9 1213.8,1509.4 C1229.4,1513.9 1245.7,1518.4 1261.6,1520.9 C1277.5,1523.5 1293.1,1524.4 1309.4,1524.7 C1325.7,1525 1342.6,1524.4 1359.2,1522.8 C1375.8,1521.2 1392.3,1519 1408.9,1515.2 C1425.5,1511.4 1444,1507.6 1458.7,1499.9 C1473.4,1492.2 1485.4,1479.8 1496.9,1469.3 C1508.4,1458.8 1519.3,1449.2 1527.6,1436.7 C1535.9,1424.2 1542.9,1409.6 1546.7,1394.6 C1550.5,1379.6 1552.7,1362.1 1550.5,1346.8 C1548.3,1331.5 1543.5,1314 1533.3,1302.8 C1523.1,1291.6 1504.3,1282.3 1489.3,1279.8 C1474.3,1277.2 1458.4,1282.1 1443.4,1287.5 C1428.4,1292.9 1415.4,1306.7 1399.4,1312.4 C1383.5,1318.1 1363,1325.4 1347.7,1321.9 C1332.4,1318.4 1315.8,1304.4 1307.5,1291.3 C1299.2,1278.2 1296.7,1259.4 1298,1243.5 C1299.3,1227.6 1305.3,1208.1 1315.2,1195.7 C1325.1,1183.3 1342,1174.7 1357.3,1168.9 C1372.6,1163.2 1390.7,1162.8 1407,1161.2 C1423.3,1159.6 1438.6,1159.9 1454.9,1159.3 C1471.2,1158.7 1488.7,1160 1504.6,1157.4 C1520.5,1154.9 1536.5,1150.1 1550.5,1144 C1564.5,1137.9 1582.4,1124.8 1588.8,1121" fill="none" stroke="#f0a898" stroke-width="90" stroke-linecap="round" stroke-linejoin="round" opacity="0.5" filter="url(#soft)"/>
<path d="M976,1148.9 C973.5,1140.6 960.4,1115.1 960.7,1099.2 C961,1083.3 969.9,1067 977.9,1053.3 C985.9,1039.6 998.6,1030.9 1008.5,1016.9 C1018.4,1002.9 1031.8,985 1037.2,969.1 C1042.6,953.2 1033.1,933.4 1041.1,921.3 C1049.1,909.2 1070.8,905 1085.1,896.4 C1099.4,887.8 1117,881.1 1127.2,869.6 C1137.4,858.1 1143.4,843.8 1146.3,827.5 C1149.2,811.2 1149.5,787.3 1144.4,772 C1139.3,756.7 1128.1,744.6 1115.7,735.7 C1103.3,726.8 1085.4,721 1069.8,718.4 C1054.2,715.8 1037.5,716.6 1021.9,720.4 C1006.3,724.2 990.4,732.8 976,741.4 C961.6,750 948.2,760.8 935.8,772 C923.4,783.2 911,794 901.4,808.4 C891.8,822.8 885.1,842.2 878.4,858.1 C871.7,874 862.8,888 861.2,904 C859.6,920 864.4,938.5 868.9,953.8 C873.4,969.1 883.5,980.3 888,995.9 C892.5,1011.5 893.6,1030.5 895.7,1047.5 C897.8,1064.5 899.7,1089.6 900.5,1098" fill="none" stroke="#aa4842" stroke-width="58" stroke-linecap="round" stroke-linejoin="round"/>
<path d="M0,-39.5 C19.8,-36.3 32,-19.8 32,0 C32,19.8 19.8,36.3 0,39.5 C-19.8,36.3 -32,19.8 -32,0 C-32,-19.8 -19.8,-36.3 0,-39.5 Z" transform="translate(976,1148.9) rotate(-107.1)" fill="#aa4842"/>
<path d="M0,-39.5 C19.8,-36.3 32,-19.8 32,0 C32,19.8 19.8,36.3 0,39.5 C-19.8,36.3 -32,19.8 -32,0 C-32,-19.8 -19.8,-36.3 0,-39.5 Z" transform="translate(960.7,1099.2) rotate(-88.9)" fill="#aa4842"/>
<path d="M0,-39.5 C19.8,-36.3 32,-19.8 32,0 C32,19.8 19.8,36.3 0,39.5 C-19.8,36.3 -32,19.8 -32,0 C-32,-19.8 -19.8,-36.3 0,-39.5 Z" transform="translate(977.9,1053.3) rotate(-59.9)" fill="#aa4842"/>
<path d="M0,-39.5 C19.8,-36.3 32,-19.8 32,0 C32,19.8 19.8,36.3 0,39.5 C-19.8,36.3 -32,19.8 -32,0 C-32,-19.8 -19.8,-36.3 0,-39.5 Z" transform="translate(1008.5,1016.9) rotate(-54.8)" fill="#aa4842"/>
<path d="M0,-39.5 C19.8,-36.3 32,-19.8 32,0 C32,19.8 19.8,36.3 0,39.5 C-19.8,36.3 -32,19.8 -32,0 C-32,-19.8 -19.8,-36.3 0,-39.5 Z" transform="translate(1037.2,969.1) rotate(-71.2)" fill="#aa4842"/>
<path d="M0,-39.5 C19.8,-36.3 32,-19.8 32,0 C32,19.8 19.8,36.3 0,39.5 C-19.8,36.3 -32,19.8 -32,0 C-32,-19.8 -19.8,-36.3 0,-39.5 Z" transform="translate(1041.1,921.3) rotate(-56.6)" fill="#aa4842"/>
<path d="M0,-39.5 C19.8,-36.3 32,-19.8 32,0 C32,19.8 19.8,36.3 0,39.5 C-19.8,36.3 -32,19.8 -32,0 C-32,-19.8 -19.8,-36.3 0,-39.5 Z" transform="translate(1085.1,896.4) rotate(-31)" fill="#aa4842"/>
<path d="M0,-39.5 C19.8,-36.3 32,-19.8 32,0 C32,19.8 19.8,36.3 0,39.5 C-19.8,36.3 -32,19.8 -32,0 C-32,-19.8 -19.8,-36.3 0,-39.5 Z" transform="translate(1127.2,869.6) rotate(-48.4)" fill="#aa4842"/>
<path d="M0,-39.5 C19.8,-36.3 32,-19.8 32,0 C32,19.8 19.8,36.3 0,39.5 C-19.8,36.3 -32,19.8 -32,0 C-32,-19.8 -19.8,-36.3 0,-39.5 Z" transform="translate(1146.3,827.5) rotate(-80)" fill="#aa4842"/>
<path d="M0,-39.5 C19.8,-36.3 32,-19.8 32,0 C32,19.8 19.8,36.3 0,39.5 C-19.8,36.3 -32,19.8 -32,0 C-32,-19.8 -19.8,-36.3 0,-39.5 Z" transform="translate(1144.4,772) rotate(-108.4)" fill="#aa4842"/>
<path d="M0,-39.5 C19.8,-36.3 32,-19.8 32,0 C32,19.8 19.8,36.3 0,39.5 C-19.8,36.3 -32,19.8 -32,0 C-32,-19.8 -19.8,-36.3 0,-39.5 Z" transform="translate(1115.7,735.7) rotate(-144.3)" fill="#aa4842"/>
<path d="M0,-39.5 C19.8,-36.3 32,-19.8 32,0 C32,19.8 19.8,36.3 0,39.5 C-19.8,36.3 -32,19.8 -32,0 C-32,-19.8 -19.8,-36.3 0,-39.5 Z" transform="translate(1069.8,718.4) rotate(-170.7)" fill="#aa4842"/>
<path d="M0,-39.5 C19.8,-36.3 32,-19.8 32,0 C32,19.8 19.8,36.3 0,39.5 C-19.8,36.3 -32,19.8 -32,0 C-32,-19.8 -19.8,-36.3 0,-39.5 Z" transform="translate(1021.9,720.4) rotate(166.2)" fill="#aa4842"/>
<path d="M0,-39.5 C19.8,-36.3 32,-19.8 32,0 C32,19.8 19.8,36.3 0,39.5 C-19.8,36.3 -32,19.8 -32,0 C-32,-19.8 -19.8,-36.3 0,-39.5 Z" transform="translate(976,741.4) rotate(149.1)" fill="#aa4842"/>
<path d="M0,-39.5 C19.8,-36.3 32,-19.8 32,0 C32,19.8 19.8,36.3 0,39.5 C-19.8,36.3 -32,19.8 -32,0 C-32,-19.8 -19.8,-36.3 0,-39.5 Z" transform="translate(935.8,772) rotate(138.1)" fill="#aa4842"/>
<path d="M0,-39.5 C19.8,-36.3 32,-19.8 32,0 C32,19.8 19.8,36.3 0,39.5 C-19.8,36.3 -32,19.8 -32,0 C-32,-19.8 -19.8,-36.3 0,-39.5 Z" transform="translate(901.4,808.4) rotate(123.7)" fill="#aa4842"/>
<path d="M0,-39.5 C19.8,-36.3 32,-19.8 32,0 C32,19.8 19.8,36.3 0,39.5 C-19.8,36.3 -32,19.8 -32,0 C-32,-19.8 -19.8,-36.3 0,-39.5 Z" transform="translate(878.4,858.1) rotate(112.8)" fill="#aa4842"/>
<path d="M0,-39.5 C19.8,-36.3 32,-19.8 32,0 C32,19.8 19.8,36.3 0,39.5 C-19.8,36.3 -32,19.8 -32,0 C-32,-19.8 -19.8,-36.3 0,-39.5 Z" transform="translate(861.2,904) rotate(95.7)" fill="#aa4842"/>
<path d="M0,-39.5 C19.8,-36.3 32,-19.8 32,0 C32,19.8 19.8,36.3 0,39.5 C-19.8,36.3 -32,19.8 -32,0 C-32,-19.8 -19.8,-36.3 0,-39.5 Z" transform="translate(868.9,953.8) rotate(73.7)" fill="#aa4842"/>
<path d="M0,-39.5 C19.8,-36.3 32,-19.8 32,0 C32,19.8 19.8,36.3 0,39.5 C-19.8,36.3 -32,19.8 -32,0 C-32,-19.8 -19.8,-36.3 0,-39.5 Z" transform="translate(888,995.9) rotate(74)" fill="#aa4842"/>
<path d="M0,-39.5 C19.8,-36.3 32,-19.8 32,0 C32,19.8 19.8,36.3 0,39.5 C-19.8,36.3 -32,19.8 -32,0 C-32,-19.8 -19.8,-36.3 0,-39.5 Z" transform="translate(895.7,1047.5) rotate(83)" fill="#aa4842"/>
<path d="M0,-39.5 C19.8,-36.3 32,-19.8 32,0 C32,19.8 19.8,36.3 0,39.5 C-19.8,36.3 -32,19.8 -32,0 C-32,-19.8 -19.8,-36.3 0,-39.5 Z" transform="translate(900.5,1098) rotate(84.6)" fill="#aa4842"/>
<path d="M1626.7,964 C1622.9,955.4 1611,929 1603.7,912.4 C1596.4,895.8 1592,878.5 1582.7,864.5 C1573.5,850.5 1560,839.4 1548.2,828.2 C1536.4,817.1 1525.9,805.6 1511.9,797.6 C1497.9,789.6 1480,782.3 1464,780.4 C1448,778.5 1432.1,782.3 1416.2,786.1 C1400.3,789.9 1382.4,794 1368.4,803.3 C1354.4,812.5 1340,827.6 1332,841.6 C1324,855.6 1322.1,872.2 1320.5,887.5 C1318.9,902.8 1322.1,917.4 1322.4,933.4 C1322.7,949.4 1324,966.9 1322.4,983.2 C1320.8,999.5 1317.7,1015.1 1312.9,1031 C1308.1,1046.9 1301.8,1063.5 1293.8,1078.8 C1285.8,1094.1 1275.9,1109.1 1265.1,1122.8 C1254.2,1136.5 1242,1151.8 1228.7,1161.1 C1215.4,1170.4 1200.7,1174.2 1185.1,1178.4 C1169.5,1182.6 1151.6,1184.2 1135.3,1186.1 C1119,1188 1103.1,1186.7 1087.5,1189.9 C1071.9,1193.1 1055.9,1197.9 1041.6,1205.2 C1027.2,1212.5 1010.6,1221.5 1001.4,1233.9 C992.1,1246.3 987.4,1264.5 986.1,1279.8 C984.8,1295.1 989,1310.8 993.8,1325.8 C998.6,1340.8 1006.2,1355.4 1014.8,1369.8 C1023.4,1384.2 1034.6,1398.8 1045.4,1411.9 C1056.2,1425 1067,1438 1079.8,1448.2 C1092.5,1458.4 1107.2,1465.4 1121.9,1473.1 C1136.6,1480.8 1152.6,1488 1167.9,1494.1 C1183.2,1500.1 1198.2,1504.9 1213.8,1509.4 C1229.4,1513.9 1245.7,1518.4 1261.6,1520.9 C1277.5,1523.5 1293.1,1524.4 1309.4,1524.7 C1325.7,1525 1342.6,1524.4 1359.2,1522.8 C1375.8,1521.2 1392.3,1519 1408.9,1515.2 C1425.5,1511.4 1444,1507.6 1458.7,1499.9 C1473.4,1492.2 1485.4,1479.8 1496.9,1469.3 C1508.4,1458.8 1519.3,1449.2 1527.6,1436.7 C1535.9,1424.2 1542.9,1409.6 1546.7,1394.6 C1550.5,1379.6 1552.7,1362.1 1550.5,1346.8 C1548.3,1331.5 1543.5,1314 1533.3,1302.8 C1523.1,1291.6 1504.3,1282.3 1489.3,1279.8 C1474.3,1277.2 1458.4,1282.1 1443.4,1287.5 C1428.4,1292.9 1415.4,1306.7 1399.4,1312.4 C1383.5,1318.1 1363,1325.4 1347.7,1321.9 C1332.4,1318.4 1315.8,1304.4 1307.5,1291.3 C1299.2,1278.2 1296.7,1259.4 1298,1243.5 C1299.3,1227.6 1305.3,1208.1 1315.2,1195.7 C1325.1,1183.3 1342,1174.7 1357.3,1168.9 C1372.6,1163.2 1390.7,1162.8 1407,1161.2 C1423.3,1159.6 1438.6,1159.9 1454.9,1159.3 C1471.2,1158.7 1488.7,1160 1504.6,1157.4 C1520.5,1154.9 1536.5,1150.1 1550.5,1144 C1564.5,1137.9 1582.4,1124.8 1588.8,1121" fill="none" stroke="#aa4842" stroke-width="58" stroke-linecap="round" stroke-linejoin="round"/>
<path d="M0,-39.5 C19.8,-36.3 32,-19.8 32,0 C32,19.8 19.8,36.3 0,39.5 C-19.8,36.3 -32,19.8 -32,0 C-32,-19.8 -19.8,-36.3 0,-39.5 Z" transform="translate(1626.7,964) rotate(-114)" fill="#aa4842"/>
<path d="M0,-39.5 C19.8,-36.3 32,-19.8 32,0 C32,19.8 19.8,36.3 0,39.5 C-19.8,36.3 -32,19.8 -32,0 C-32,-19.8 -19.8,-36.3 0,-39.5 Z" transform="translate(1603.7,912.4) rotate(-113.9)" fill="#aa4842"/>
<path d="M0,-39.5 C19.8,-36.3 32,-19.8 32,0 C32,19.8 19.8,36.3 0,39.5 C-19.8,36.3 -32,19.8 -32,0 C-32,-19.8 -19.8,-36.3 0,-39.5 Z" transform="translate(1582.7,864.5) rotate(-123.4)" fill="#aa4842"/>
<path d="M0,-39.5 C19.8,-36.3 32,-19.8 32,0 C32,19.8 19.8,36.3 0,39.5 C-19.8,36.3 -32,19.8 -32,0 C-32,-19.8 -19.8,-36.3 0,-39.5 Z" transform="translate(1548.2,828.2) rotate(-136.6)" fill="#aa4842"/>
<path d="M0,-39.5 C19.8,-36.3 32,-19.8 32,0 C32,19.8 19.8,36.3 0,39.5 C-19.8,36.3 -32,19.8 -32,0 C-32,-19.8 -19.8,-36.3 0,-39.5 Z" transform="translate(1511.9,797.6) rotate(-150.4)" fill="#aa4842"/>
<path d="M0,-39.5 C19.8,-36.3 32,-19.8 32,0 C32,19.8 19.8,36.3 0,39.5 C-19.8,36.3 -32,19.8 -32,0 C-32,-19.8 -19.8,-36.3 0,-39.5 Z" transform="translate(1464,780.4) rotate(-173.1)" fill="#aa4842"/>
<path d="M0,-39.5 C19.8,-36.3 32,-19.8 32,0 C32,19.8 19.8,36.3 0,39.5 C-19.8,36.3 -32,19.8 -32,0 C-32,-19.8 -19.8,-36.3 0,-39.5 Z" transform="translate(1416.2,786.1) rotate(166.5)" fill="#aa4842"/>
<path d="M0,-39.5 C19.8,-36.3 32,-19.8 32,0 C32,19.8 19.8,36.3 0,39.5 C-19.8,36.3 -32,19.8 -32,0 C-32,-19.8 -19.8,-36.3 0,-39.5 Z" transform="translate(1368.4,803.3) rotate(146.6)" fill="#aa4842"/>
<path d="M0,-39.5 C19.8,-36.3 32,-19.8 32,0 C32,19.8 19.8,36.3 0,39.5 C-19.8,36.3 -32,19.8 -32,0 C-32,-19.8 -19.8,-36.3 0,-39.5 Z" transform="translate(1332,841.6) rotate(119.6)" fill="#aa4842"/>
<path d="M0,-39.5 C19.8,-36.3 32,-19.8 32,0 C32,19.8 19.8,36.3 0,39.5 C-19.8,36.3 -32,19.8 -32,0 C-32,-19.8 -19.8,-36.3 0,-39.5 Z" transform="translate(1320.5,887.5) rotate(96)" fill="#aa4842"/>
<path d="M0,-39.5 C19.8,-36.3 32,-19.8 32,0 C32,19.8 19.8,36.3 0,39.5 C-19.8,36.3 -32,19.8 -32,0 C-32,-19.8 -19.8,-36.3 0,-39.5 Z" transform="translate(1322.4,933.4) rotate(88.9)" fill="#aa4842"/>
<path d="M0,-39.5 C19.8,-36.3 32,-19.8 32,0 C32,19.8 19.8,36.3 0,39.5 C-19.8,36.3 -32,19.8 -32,0 C-32,-19.8 -19.8,-36.3 0,-39.5 Z" transform="translate(1322.4,983.2) rotate(95.6)" fill="#aa4842"/>
<path d="M0,-39.5 C19.8,-36.3 32,-19.8 32,0 C32,19.8 19.8,36.3 0,39.5 C-19.8,36.3 -32,19.8 -32,0 C-32,-19.8 -19.8,-36.3 0,-39.5 Z" transform="translate(1312.9,1031) rotate(106.7)" fill="#aa4842"/>
<path d="M0,-39.5 C19.8,-36.3 32,-19.8 32,0 C32,19.8 19.8,36.3 0,39.5 C-19.8,36.3 -32,19.8 -32,0 C-32,-19.8 -19.8,-36.3 0,-39.5 Z" transform="translate(1293.8,1078.8) rotate(117.5)" fill="#aa4842"/>
<path d="M0,-39.5 C19.8,-36.3 32,-19.8 32,0 C32,19.8 19.8,36.3 0,39.5 C-19.8,36.3 -32,19.8 -32,0 C-32,-19.8 -19.8,-36.3 0,-39.5 Z" transform="translate(1265.1,1122.8) rotate(128.3)" fill="#aa4842"/>
<path d="M0,-39.5 C19.8,-36.3 32,-19.8 32,0 C32,19.8 19.8,36.3 0,39.5 C-19.8,36.3 -32,19.8 -32,0 C-32,-19.8 -19.8,-36.3 0,-39.5 Z" transform="translate(1228.7,1161.1) rotate(145.2)" fill="#aa4842"/>
<path d="M0,-39.5 C19.8,-36.3 32,-19.8 32,0 C32,19.8 19.8,36.3 0,39.5 C-19.8,36.3 -32,19.8 -32,0 C-32,-19.8 -19.8,-36.3 0,-39.5 Z" transform="translate(1185.1,1178.4) rotate(165)" fill="#aa4842"/>
<path d="M0,-39.5 C19.8,-36.3 32,-19.8 32,0 C32,19.8 19.8,36.3 0,39.5 C-19.8,36.3 -32,19.8 -32,0 C-32,-19.8 -19.8,-36.3 0,-39.5 Z" transform="translate(1135.3,1186.1) rotate(173.3)" fill="#aa4842"/>
<path d="M0,-39.5 C19.8,-36.3 32,-19.8 32,0 C32,19.8 19.8,36.3 0,39.5 C-19.8,36.3 -32,19.8 -32,0 C-32,-19.8 -19.8,-36.3 0,-39.5 Z" transform="translate(1087.5,1189.9) rotate(168.5)" fill="#aa4842"/>
<path d="M0,-39.5 C19.8,-36.3 32,-19.8 32,0 C32,19.8 19.8,36.3 0,39.5 C-19.8,36.3 -32,19.8 -32,0 C-32,-19.8 -19.8,-36.3 0,-39.5 Z" transform="translate(1041.6,1205.2) rotate(152.9)" fill="#aa4842"/>
<path d="M0,-39.5 C19.8,-36.3 32,-19.8 32,0 C32,19.8 19.8,36.3 0,39.5 C-19.8,36.3 -32,19.8 -32,0 C-32,-19.8 -19.8,-36.3 0,-39.5 Z" transform="translate(1001.4,1233.9) rotate(126.6)" fill="#aa4842"/>
<path d="M0,-39.5 C19.8,-36.3 32,-19.8 32,0 C32,19.8 19.8,36.3 0,39.5 C-19.8,36.3 -32,19.8 -32,0 C-32,-19.8 -19.8,-36.3 0,-39.5 Z" transform="translate(986.1,1279.8) rotate(94.7)" fill="#aa4842"/>
<path d="M0,-39.5 C19.8,-36.3 32,-19.8 32,0 C32,19.8 19.8,36.3 0,39.5 C-19.8,36.3 -32,19.8 -32,0 C-32,-19.8 -19.8,-36.3 0,-39.5 Z" transform="translate(993.8,1325.8) rotate(72.3)" fill="#aa4842"/>
<path d="M0,-39.5 C19.8,-36.3 32,-19.8 32,0 C32,19.8 19.8,36.3 0,39.5 C-19.8,36.3 -32,19.8 -32,0 C-32,-19.8 -19.8,-36.3 0,-39.5 Z" transform="translate(1014.8,1369.8) rotate(59.1)" fill="#aa4842"/>
<path d="M0,-39.5 C19.8,-36.3 32,-19.8 32,0 C32,19.8 19.8,36.3 0,39.5 C-19.8,36.3 -32,19.8 -32,0 C-32,-19.8 -19.8,-36.3 0,-39.5 Z" transform="translate(1045.4,1411.9) rotate(50.3)" fill="#aa4842"/>
<path d="M0,-39.5 C19.8,-36.3 32,-19.8 32,0 C32,19.8 19.8,36.3 0,39.5 C-19.8,36.3 -32,19.8 -32,0 C-32,-19.8 -19.8,-36.3 0,-39.5 Z" transform="translate(1079.8,1448.2) rotate(38.7)" fill="#aa4842"/>
<path d="M0,-39.5 C19.8,-36.3 32,-19.8 32,0 C32,19.8 19.8,36.3 0,39.5 C-19.8,36.3 -32,19.8 -32,0 C-32,-19.8 -19.8,-36.3 0,-39.5 Z" transform="translate(1121.9,1473.1) rotate(27.5)" fill="#aa4842"/>
<path d="M0,-39.5 C19.8,-36.3 32,-19.8 32,0 C32,19.8 19.8,36.3 0,39.5 C-19.8,36.3 -32,19.8 -32,0 C-32,-19.8 -19.8,-36.3 0,-39.5 Z" transform="translate(1167.9,1494.1) rotate(21.6)" fill="#aa4842"/>
<path d="M0,-39.5 C19.8,-36.3 32,-19.8 32,0 C32,19.8 19.8,36.3 0,39.5 C-19.8,36.3 -32,19.8 -32,0 C-32,-19.8 -19.8,-36.3 0,-39.5 Z" transform="translate(1213.8,1509.4) rotate(16)" fill="#aa4842"/>
<path d="M0,-39.5 C19.8,-36.3 32,-19.8 32,0 C32,19.8 19.8,36.3 0,39.5 C-19.8,36.3 -32,19.8 -32,0 C-32,-19.8 -19.8,-36.3 0,-39.5 Z" transform="translate(1261.6,1520.9) rotate(9.1)" fill="#aa4842"/>
<path d="M0,-39.5 C19.8,-36.3 32,-19.8 32,0 C32,19.8 19.8,36.3 0,39.5 C-19.8,36.3 -32,19.8 -32,0 C-32,-19.8 -19.8,-36.3 0,-39.5 Z" transform="translate(1309.4,1524.7) rotate(1.1)" fill="#aa4842"/>
<path d="M0,-39.5 C19.8,-36.3 32,-19.8 32,0 C32,19.8 19.8,36.3 0,39.5 C-19.8,36.3 -32,19.8 -32,0 C-32,-19.8 -19.8,-36.3 0,-39.5 Z" transform="translate(1359.2,1522.8) rotate(-5.5)" fill="#aa4842"/>
<path d="M0,-39.5 C19.8,-36.3 32,-19.8 32,0 C32,19.8 19.8,36.3 0,39.5 C-19.8,36.3 -32,19.8 -32,0 C-32,-19.8 -19.8,-36.3 0,-39.5 Z" transform="translate(1408.9,1515.2) rotate(-13)" fill="#aa4842"/>
<path d="M0,-39.5 C19.8,-36.3 32,-19.8 32,0 C32,19.8 19.8,36.3 0,39.5 C-19.8,36.3 -32,19.8 -32,0 C-32,-19.8 -19.8,-36.3 0,-39.5 Z" transform="translate(1458.7,1499.9) rotate(-27.5)" fill="#aa4842"/>
<path d="M0,-39.5 C19.8,-36.3 32,-19.8 32,0 C32,19.8 19.8,36.3 0,39.5 C-19.8,36.3 -32,19.8 -32,0 C-32,-19.8 -19.8,-36.3 0,-39.5 Z" transform="translate(1496.9,1469.3) rotate(-42.5)" fill="#aa4842"/>
<path d="M0,-39.5 C19.8,-36.3 32,-19.8 32,0 C32,19.8 19.8,36.3 0,39.5 C-19.8,36.3 -32,19.8 -32,0 C-32,-19.8 -19.8,-36.3 0,-39.5 Z" transform="translate(1527.6,1436.7) rotate(-56.3)" fill="#aa4842"/>
<path d="M0,-39.5 C19.8,-36.3 32,-19.8 32,0 C32,19.8 19.8,36.3 0,39.5 C-19.8,36.3 -32,19.8 -32,0 C-32,-19.8 -19.8,-36.3 0,-39.5 Z" transform="translate(1546.7,1394.6) rotate(-75.7)" fill="#aa4842"/>
<path d="M0,-39.5 C19.8,-36.3 32,-19.8 32,0 C32,19.8 19.8,36.3 0,39.5 C-19.8,36.3 -32,19.8 -32,0 C-32,-19.8 -19.8,-36.3 0,-39.5 Z" transform="translate(1550.5,1346.8) rotate(-98.3)" fill="#aa4842"/>
<path d="M0,-39.5 C19.8,-36.3 32,-19.8 32,0 C32,19.8 19.8,36.3 0,39.5 C-19.8,36.3 -32,19.8 -32,0 C-32,-19.8 -19.8,-36.3 0,-39.5 Z" transform="translate(1533.3,1302.8) rotate(-132.4)" fill="#aa4842"/>
<path d="M0,-39.5 C19.8,-36.3 32,-19.8 32,0 C32,19.8 19.8,36.3 0,39.5 C-19.8,36.3 -32,19.8 -32,0 C-32,-19.8 -19.8,-36.3 0,-39.5 Z" transform="translate(1489.3,1279.8) rotate(-170.3)" fill="#aa4842"/>
<path d="M0,-39.5 C19.8,-36.3 32,-19.8 32,0 C32,19.8 19.8,36.3 0,39.5 C-19.8,36.3 -32,19.8 -32,0 C-32,-19.8 -19.8,-36.3 0,-39.5 Z" transform="translate(1443.4,1287.5) rotate(160.1)" fill="#aa4842"/>
<path d="M0,-39.5 C19.8,-36.3 32,-19.8 32,0 C32,19.8 19.8,36.3 0,39.5 C-19.8,36.3 -32,19.8 -32,0 C-32,-19.8 -19.8,-36.3 0,-39.5 Z" transform="translate(1399.4,1312.4) rotate(160.2)" fill="#aa4842"/>
<path d="M0,-39.5 C19.8,-36.3 32,-19.8 32,0 C32,19.8 19.8,36.3 0,39.5 C-19.8,36.3 -32,19.8 -32,0 C-32,-19.8 -19.8,-36.3 0,-39.5 Z" transform="translate(1347.7,1321.9) rotate(-167.1)" fill="#aa4842"/>
<path d="M0,-39.5 C19.8,-36.3 32,-19.8 32,0 C32,19.8 19.8,36.3 0,39.5 C-19.8,36.3 -32,19.8 -32,0 C-32,-19.8 -19.8,-36.3 0,-39.5 Z" transform="translate(1307.5,1291.3) rotate(-122.4)" fill="#aa4842"/>
<path d="M0,-39.5 C19.8,-36.3 32,-19.8 32,0 C32,19.8 19.8,36.3 0,39.5 C-19.8,36.3 -32,19.8 -32,0 C-32,-19.8 -19.8,-36.3 0,-39.5 Z" transform="translate(1298,1243.5) rotate(-85.4)" fill="#aa4842"/>
<path d="M0,-39.5 C19.8,-36.3 32,-19.8 32,0 C32,19.8 19.8,36.3 0,39.5 C-19.8,36.3 -32,19.8 -32,0 C-32,-19.8 -19.8,-36.3 0,-39.5 Z" transform="translate(1315.2,1195.7) rotate(-51.5)" fill="#aa4842"/>
<path d="M0,-39.5 C19.8,-36.3 32,-19.8 32,0 C32,19.8 19.8,36.3 0,39.5 C-19.8,36.3 -32,19.8 -32,0 C-32,-19.8 -19.8,-36.3 0,-39.5 Z" transform="translate(1357.3,1168.9) rotate(-20.6)" fill="#aa4842"/>
<path d="M0,-39.5 C19.8,-36.3 32,-19.8 32,0 C32,19.8 19.8,36.3 0,39.5 C-19.8,36.3 -32,19.8 -32,0 C-32,-19.8 -19.8,-36.3 0,-39.5 Z" transform="translate(1407,1161.2) rotate(-5.6)" fill="#aa4842"/>
<path d="M0,-39.5 C19.8,-36.3 32,-19.8 32,0 C32,19.8 19.8,36.3 0,39.5 C-19.8,36.3 -32,19.8 -32,0 C-32,-19.8 -19.8,-36.3 0,-39.5 Z" transform="translate(1454.9,1159.3) rotate(-2.2)" fill="#aa4842"/>
<path d="M0,-39.5 C19.8,-36.3 32,-19.8 32,0 C32,19.8 19.8,36.3 0,39.5 C-19.8,36.3 -32,19.8 -32,0 C-32,-19.8 -19.8,-36.3 0,-39.5 Z" transform="translate(1504.6,1157.4) rotate(-9.1)" fill="#aa4842"/>
<path d="M0,-39.5 C19.8,-36.3 32,-19.8 32,0 C32,19.8 19.8,36.3 0,39.5 C-19.8,36.3 -32,19.8 -32,0 C-32,-19.8 -19.8,-36.3 0,-39.5 Z" transform="translate(1550.5,1144) rotate(-23.4)" fill="#aa4842"/>
<path d="M0,-39.5 C19.8,-36.3 32,-19.8 32,0 C32,19.8 19.8,36.3 0,39.5 C-19.8,36.3 -32,19.8 -32,0 C-32,-19.8 -19.8,-36.3 0,-39.5 Z" transform="translate(1588.8,1121) rotate(-31)" fill="#aa4842"/>
<path d="M899,1050 L902,1112 L960,1112 L979,1056 Z" fill="#aa4842" stroke="#aa4842" stroke-width="10" stroke-linejoin="round"/>
<path d="M935,1049 L951,1066 L936,1084 L920,1067 Z" fill="#e9b9aa" stroke="#c4655c" stroke-width="3" stroke-linejoin="round"/>
<path d="M976,1148.9 C973.5,1140.6 960.4,1115.1 960.7,1099.2 C961,1083.3 969.9,1067 977.9,1053.3 C985.9,1039.6 998.6,1030.9 1008.5,1016.9 C1018.4,1002.9 1031.8,985 1037.2,969.1 C1042.6,953.2 1033.1,933.4 1041.1,921.3 C1049.1,909.2 1070.8,905 1085.1,896.4 C1099.4,887.8 1117,881.1 1127.2,869.6 C1137.4,858.1 1143.4,843.8 1146.3,827.5 C1149.2,811.2 1149.5,787.3 1144.4,772 C1139.3,756.7 1128.1,744.6 1115.7,735.7 C1103.3,726.8 1085.4,721 1069.8,718.4 C1054.2,715.8 1037.5,716.6 1021.9,720.4 C1006.3,724.2 990.4,732.8 976,741.4 C961.6,750 948.2,760.8 935.8,772 C923.4,783.2 911,794 901.4,808.4 C891.8,822.8 885.1,842.2 878.4,858.1 C871.7,874 862.8,888 861.2,904 C859.6,920 864.4,938.5 868.9,953.8 C873.4,969.1 883.5,980.3 888,995.9 C892.5,1011.5 893.6,1030.5 895.7,1047.5 C897.8,1064.5 899.7,1089.6 900.5,1098" fill="none" stroke="#2a0704" stroke-width="30" stroke-linecap="round" stroke-linejoin="round"/>
<path d="M0,-29 C13.9,-26.7 22.5,-14.5 22.5,0 C22.5,14.5 13.9,26.7 0,29 C-13.9,26.7 -22.5,14.5 -22.5,0 C-22.5,-14.5 -13.9,-26.7 0,-29 Z" transform="translate(976,1148.9) rotate(-107.1)" fill="#2a0704"/>
<path d="M0,-29 C13.9,-26.7 22.5,-14.5 22.5,0 C22.5,14.5 13.9,26.7 0,29 C-13.9,26.7 -22.5,14.5 -22.5,0 C-22.5,-14.5 -13.9,-26.7 0,-29 Z" transform="translate(960.7,1099.2) rotate(-88.9)" fill="#2a0704"/>
<path d="M0,-29 C13.9,-26.7 22.5,-14.5 22.5,0 C22.5,14.5 13.9,26.7 0,29 C-13.9,26.7 -22.5,14.5 -22.5,0 C-22.5,-14.5 -13.9,-26.7 0,-29 Z" transform="translate(977.9,1053.3) rotate(-59.9)" fill="#2a0704"/>
<path d="M0,-29 C13.9,-26.7 22.5,-14.5 22.5,0 C22.5,14.5 13.9,26.7 0,29 C-13.9,26.7 -22.5,14.5 -22.5,0 C-22.5,-14.5 -13.9,-26.7 0,-29 Z" transform="translate(1008.5,1016.9) rotate(-54.8)" fill="#2a0704"/>
<path d="M0,-29 C13.9,-26.7 22.5,-14.5 22.5,0 C22.5,14.5 13.9,26.7 0,29 C-13.9,26.7 -22.5,14.5 -22.5,0 C-22.5,-14.5 -13.9,-26.7 0,-29 Z" transform="translate(1037.2,969.1) rotate(-71.2)" fill="#2a0704"/>
<path d="M0,-29 C13.9,-26.7 22.5,-14.5 22.5,0 C22.5,14.5 13.9,26.7 0,29 C-13.9,26.7 -22.5,14.5 -22.5,0 C-22.5,-14.5 -13.9,-26.7 0,-29 Z" transform="translate(1041.1,921.3) rotate(-56.6)" fill="#2a0704"/>
<path d="M0,-29 C13.9,-26.7 22.5,-14.5 22.5,0 C22.5,14.5 13.9,26.7 0,29 C-13.9,26.7 -22.5,14.5 -22.5,0 C-22.5,-14.5 -13.9,-26.7 0,-29 Z" transform="translate(1085.1,896.4) rotate(-31)" fill="#2a0704"/>
<path d="M0,-29 C13.9,-26.7 22.5,-14.5 22.5,0 C22.5,14.5 13.9,26.7 0,29 C-13.9,26.7 -22.5,14.5 -22.5,0 C-22.5,-14.5 -13.9,-26.7 0,-29 Z" transform="translate(1127.2,869.6) rotate(-48.4)" fill="#2a0704"/>
<path d="M0,-29 C13.9,-26.7 22.5,-14.5 22.5,0 C22.5,14.5 13.9,26.7 0,29 C-13.9,26.7 -22.5,14.5 -22.5,0 C-22.5,-14.5 -13.9,-26.7 0,-29 Z" transform="translate(1146.3,827.5) rotate(-80)" fill="#2a0704"/>
<path d="M0,-29 C13.9,-26.7 22.5,-14.5 22.5,0 C22.5,14.5 13.9,26.7 0,29 C-13.9,26.7 -22.5,14.5 -22.5,0 C-22.5,-14.5 -13.9,-26.7 0,-29 Z" transform="translate(1144.4,772) rotate(-108.4)" fill="#2a0704"/>
<path d="M0,-29 C13.9,-26.7 22.5,-14.5 22.5,0 C22.5,14.5 13.9,26.7 0,29 C-13.9,26.7 -22.5,14.5 -22.5,0 C-22.5,-14.5 -13.9,-26.7 0,-29 Z" transform="translate(1115.7,735.7) rotate(-144.3)" fill="#2a0704"/>
<path d="M0,-29 C13.9,-26.7 22.5,-14.5 22.5,0 C22.5,14.5 13.9,26.7 0,29 C-13.9,26.7 -22.5,14.5 -22.5,0 C-22.5,-14.5 -13.9,-26.7 0,-29 Z" transform="translate(1069.8,718.4) rotate(-170.7)" fill="#2a0704"/>
<path d="M0,-29 C13.9,-26.7 22.5,-14.5 22.5,0 C22.5,14.5 13.9,26.7 0,29 C-13.9,26.7 -22.5,14.5 -22.5,0 C-22.5,-14.5 -13.9,-26.7 0,-29 Z" transform="translate(1021.9,720.4) rotate(166.2)" fill="#2a0704"/>
<path d="M0,-29 C13.9,-26.7 22.5,-14.5 22.5,0 C22.5,14.5 13.9,26.7 0,29 C-13.9,26.7 -22.5,14.5 -22.5,0 C-22.5,-14.5 -13.9,-26.7 0,-29 Z" transform="translate(976,741.4) rotate(149.1)" fill="#2a0704"/>
<path d="M0,-29 C13.9,-26.7 22.5,-14.5 22.5,0 C22.5,14.5 13.9,26.7 0,29 C-13.9,26.7 -22.5,14.5 -22.5,0 C-22.5,-14.5 -13.9,-26.7 0,-29 Z" transform="translate(935.8,772) rotate(138.1)" fill="#2a0704"/>
<path d="M0,-29 C13.9,-26.7 22.5,-14.5 22.5,0 C22.5,14.5 13.9,26.7 0,29 C-13.9,26.7 -22.5,14.5 -22.5,0 C-22.5,-14.5 -13.9,-26.7 0,-29 Z" transform="translate(901.4,808.4) rotate(123.7)" fill="#2a0704"/>
<path d="M0,-29 C13.9,-26.7 22.5,-14.5 22.5,0 C22.5,14.5 13.9,26.7 0,29 C-13.9,26.7 -22.5,14.5 -22.5,0 C-22.5,-14.5 -13.9,-26.7 0,-29 Z" transform="translate(878.4,858.1) rotate(112.8)" fill="#2a0704"/>
<path d="M0,-29 C13.9,-26.7 22.5,-14.5 22.5,0 C22.5,14.5 13.9,26.7 0,29 C-13.9,26.7 -22.5,14.5 -22.5,0 C-22.5,-14.5 -13.9,-26.7 0,-29 Z" transform="translate(861.2,904) rotate(95.7)" fill="#2a0704"/>
<path d="M0,-29 C13.9,-26.7 22.5,-14.5 22.5,0 C22.5,14.5 13.9,26.7 0,29 C-13.9,26.7 -22.5,14.5 -22.5,0 C-22.5,-14.5 -13.9,-26.7 0,-29 Z" transform="translate(868.9,953.8) rotate(73.7)" fill="#2a0704"/>
<path d="M0,-29 C13.9,-26.7 22.5,-14.5 22.5,0 C22.5,14.5 13.9,26.7 0,29 C-13.9,26.7 -22.5,14.5 -22.5,0 C-22.5,-14.5 -13.9,-26.7 0,-29 Z" transform="translate(888,995.9) rotate(74)" fill="#2a0704"/>
<path d="M0,-29 C13.9,-26.7 22.5,-14.5 22.5,0 C22.5,14.5 13.9,26.7 0,29 C-13.9,26.7 -22.5,14.5 -22.5,0 C-22.5,-14.5 -13.9,-26.7 0,-29 Z" transform="translate(895.7,1047.5) rotate(83)" fill="#2a0704"/>
<path d="M0,-29 C13.9,-26.7 22.5,-14.5 22.5,0 C22.5,14.5 13.9,26.7 0,29 C-13.9,26.7 -22.5,14.5 -22.5,0 C-22.5,-14.5 -13.9,-26.7 0,-29 Z" transform="translate(900.5,1098) rotate(84.6)" fill="#2a0704"/>
<path d="M1626.7,964 C1622.9,955.4 1611,929 1603.7,912.4 C1596.4,895.8 1592,878.5 1582.7,864.5 C1573.5,850.5 1560,839.4 1548.2,828.2 C1536.4,817.1 1525.9,805.6 1511.9,797.6 C1497.9,789.6 1480,782.3 1464,780.4 C1448,778.5 1432.1,782.3 1416.2,786.1 C1400.3,789.9 1382.4,794 1368.4,803.3 C1354.4,812.5 1340,827.6 1332,841.6 C1324,855.6 1322.1,872.2 1320.5,887.5 C1318.9,902.8 1322.1,917.4 1322.4,933.4 C1322.7,949.4 1324,966.9 1322.4,983.2 C1320.8,999.5 1317.7,1015.1 1312.9,1031 C1308.1,1046.9 1301.8,1063.5 1293.8,1078.8 C1285.8,1094.1 1275.9,1109.1 1265.1,1122.8 C1254.2,1136.5 1242,1151.8 1228.7,1161.1 C1215.4,1170.4 1200.7,1174.2 1185.1,1178.4 C1169.5,1182.6 1151.6,1184.2 1135.3,1186.1 C1119,1188 1103.1,1186.7 1087.5,1189.9 C1071.9,1193.1 1055.9,1197.9 1041.6,1205.2 C1027.2,1212.5 1010.6,1221.5 1001.4,1233.9 C992.1,1246.3 987.4,1264.5 986.1,1279.8 C984.8,1295.1 989,1310.8 993.8,1325.8 C998.6,1340.8 1006.2,1355.4 1014.8,1369.8 C1023.4,1384.2 1034.6,1398.8 1045.4,1411.9 C1056.2,1425 1067,1438 1079.8,1448.2 C1092.5,1458.4 1107.2,1465.4 1121.9,1473.1 C1136.6,1480.8 1152.6,1488 1167.9,1494.1 C1183.2,1500.1 1198.2,1504.9 1213.8,1509.4 C1229.4,1513.9 1245.7,1518.4 1261.6,1520.9 C1277.5,1523.5 1293.1,1524.4 1309.4,1524.7 C1325.7,1525 1342.6,1524.4 1359.2,1522.8 C1375.8,1521.2 1392.3,1519 1408.9,1515.2 C1425.5,1511.4 1444,1507.6 1458.7,1499.9 C1473.4,1492.2 1485.4,1479.8 1496.9,1469.3 C1508.4,1458.8 1519.3,1449.2 1527.6,1436.7 C1535.9,1424.2 1542.9,1409.6 1546.7,1394.6 C1550.5,1379.6 1552.7,1362.1 1550.5,1346.8 C1548.3,1331.5 1543.5,1314 1533.3,1302.8 C1523.1,1291.6 1504.3,1282.3 1489.3,1279.8 C1474.3,1277.2 1458.4,1282.1 1443.4,1287.5 C1428.4,1292.9 1415.4,1306.7 1399.4,1312.4 C1383.5,1318.1 1363,1325.4 1347.7,1321.9 C1332.4,1318.4 1315.8,1304.4 1307.5,1291.3 C1299.2,1278.2 1296.7,1259.4 1298,1243.5 C1299.3,1227.6 1305.3,1208.1 1315.2,1195.7 C1325.1,1183.3 1342,1174.7 1357.3,1168.9 C1372.6,1163.2 1390.7,1162.8 1407,1161.2 C1423.3,1159.6 1438.6,1159.9 1454.9,1159.3 C1471.2,1158.7 1488.7,1160 1504.6,1157.4 C1520.5,1154.9 1536.5,1150.1 1550.5,1144 C1564.5,1137.9 1582.4,1124.8 1588.8,1121" fill="none" stroke="#2a0704" stroke-width="30" stroke-linecap="round" stroke-linejoin="round"/>
<path d="M0,-29 C13.9,-26.7 22.5,-14.5 22.5,0 C22.5,14.5 13.9,26.7 0,29 C-13.9,26.7 -22.5,14.5 -22.5,0 C-22.5,-14.5 -13.9,-26.7 0,-29 Z" transform="translate(1626.7,964) rotate(-114)" fill="#2a0704"/>
<path d="M0,-29 C13.9,-26.7 22.5,-14.5 22.5,0 C22.5,14.5 13.9,26.7 0,29 C-13.9,26.7 -22.5,14.5 -22.5,0 C-22.5,-14.5 -13.9,-26.7 0,-29 Z" transform="translate(1603.7,912.4) rotate(-113.9)" fill="#2a0704"/>
<path d="M0,-29 C13.9,-26.7 22.5,-14.5 22.5,0 C22.5,14.5 13.9,26.7 0,29 C-13.9,26.7 -22.5,14.5 -22.5,0 C-22.5,-14.5 -13.9,-26.7 0,-29 Z" transform="translate(1582.7,864.5) rotate(-123.4)" fill="#2a0704"/>
<path d="M0,-29 C13.9,-26.7 22.5,-14.5 22.5,0 C22.5,14.5 13.9,26.7 0,29 C-13.9,26.7 -22.5,14.5 -22.5,0 C-22.5,-14.5 -13.9,-26.7 0,-29 Z" transform="translate(1548.2,828.2) rotate(-136.6)" fill="#2a0704"/>
<path d="M0,-29 C13.9,-26.7 22.5,-14.5 22.5,0 C22.5,14.5 13.9,26.7 0,29 C-13.9,26.7 -22.5,14.5 -22.5,0 C-22.5,-14.5 -13.9,-26.7 0,-29 Z" transform="translate(1511.9,797.6) rotate(-150.4)" fill="#2a0704"/>
<path d="M0,-29 C13.9,-26.7 22.5,-14.5 22.5,0 C22.5,14.5 13.9,26.7 0,29 C-13.9,26.7 -22.5,14.5 -22.5,0 C-22.5,-14.5 -13.9,-26.7 0,-29 Z" transform="translate(1464,780.4) rotate(-173.1)" fill="#2a0704"/>
<path d="M0,-29 C13.9,-26.7 22.5,-14.5 22.5,0 C22.5,14.5 13.9,26.7 0,29 C-13.9,26.7 -22.5,14.5 -22.5,0 C-22.5,-14.5 -13.9,-26.7 0,-29 Z" transform="translate(1416.2,786.1) rotate(166.5)" fill="#2a0704"/>
<path d="M0,-29 C13.9,-26.7 22.5,-14.5 22.5,0 C22.5,14.5 13.9,26.7 0,29 C-13.9,26.7 -22.5,14.5 -22.5,0 C-22.5,-14.5 -13.9,-26.7 0,-29 Z" transform="translate(1368.4,803.3) rotate(146.6)" fill="#2a0704"/>
<path d="M0,-29 C13.9,-26.7 22.5,-14.5 22.5,0 C22.5,14.5 13.9,26.7 0,29 C-13.9,26.7 -22.5,14.5 -22.5,0 C-22.5,-14.5 -13.9,-26.7 0,-29 Z" transform="translate(1332,841.6) rotate(119.6)" fill="#2a0704"/>
<path d="M0,-29 C13.9,-26.7 22.5,-14.5 22.5,0 C22.5,14.5 13.9,26.7 0,29 C-13.9,26.7 -22.5,14.5 -22.5,0 C-22.5,-14.5 -13.9,-26.7 0,-29 Z" transform="translate(1320.5,887.5) rotate(96)" fill="#2a0704"/>
<path d="M0,-29 C13.9,-26.7 22.5,-14.5 22.5,0 C22.5,14.5 13.9,26.7 0,29 C-13.9,26.7 -22.5,14.5 -22.5,0 C-22.5,-14.5 -13.9,-26.7 0,-29 Z" transform="translate(1322.4,933.4) rotate(88.9)" fill="#2a0704"/>
<path d="M0,-29 C13.9,-26.7 22.5,-14.5 22.5,0 C22.5,14.5 13.9,26.7 0,29 C-13.9,26.7 -22.5,14.5 -22.5,0 C-22.5,-14.5 -13.9,-26.7 0,-29 Z" transform="translate(1322.4,983.2) rotate(95.6)" fill="#2a0704"/>
<path d="M0,-29 C13.9,-26.7 22.5,-14.5 22.5,0 C22.5,14.5 13.9,26.7 0,29 C-13.9,26.7 -22.5,14.5 -22.5,0 C-22.5,-14.5 -13.9,-26.7 0,-29 Z" transform="translate(1312.9,1031) rotate(106.7)" fill="#2a0704"/>
<path d="M0,-29 C13.9,-26.7 22.5,-14.5 22.5,0 C22.5,14.5 13.9,26.7 0,29 C-13.9,26.7 -22.5,14.5 -22.5,0 C-22.5,-14.5 -13.9,-26.7 0,-29 Z" transform="translate(1293.8,1078.8) rotate(117.5)" fill="#2a0704"/>
<path d="M0,-29 C13.9,-26.7 22.5,-14.5 22.5,0 C22.5,14.5 13.9,26.7 0,29 C-13.9,26.7 -22.5,14.5 -22.5,0 C-22.5,-14.5 -13.9,-26.7 0,-29 Z" transform="translate(1265.1,1122.8) rotate(128.3)" fill="#2a0704"/>
<path d="M0,-29 C13.9,-26.7 22.5,-14.5 22.5,0 C22.5,14.5 13.9,26.7 0,29 C-13.9,26.7 -22.5,14.5 -22.5,0 C-22.5,-14.5 -13.9,-26.7 0,-29 Z" transform="translate(1228.7,1161.1) rotate(145.2)" fill="#2a0704"/>
<path d="M0,-29 C13.9,-26.7 22.5,-14.5 22.5,0 C22.5,14.5 13.9,26.7 0,29 C-13.9,26.7 -22.5,14.5 -22.5,0 C-22.5,-14.5 -13.9,-26.7 0,-29 Z" transform="translate(1185.1,1178.4) rotate(165)" fill="#2a0704"/>
<path d="M0,-29 C13.9,-26.7 22.5,-14.5 22.5,0 C22.5,14.5 13.9,26.7 0,29 C-13.9,26.7 -22.5,14.5 -22.5,0 C-22.5,-14.5 -13.9,-26.7 0,-29 Z" transform="translate(1135.3,1186.1) rotate(173.3)" fill="#2a0704"/>
<path d="M0,-29 C13.9,-26.7 22.5,-14.5 22.5,0 C22.5,14.5 13.9,26.7 0,29 C-13.9,26.7 -22.5,14.5 -22.5,0 C-22.5,-14.5 -13.9,-26.7 0,-29 Z" transform="translate(1087.5,1189.9) rotate(168.5)" fill="#2a0704"/>
<path d="M0,-29 C13.9,-26.7 22.5,-14.5 22.5,0 C22.5,14.5 13.9,26.7 0,29 C-13.9,26.7 -22.5,14.5 -22.5,0 C-22.5,-14.5 -13.9,-26.7 0,-29 Z" transform="translate(1041.6,1205.2) rotate(152.9)" fill="#2a0704"/>
<path d="M0,-29 C13.9,-26.7 22.5,-14.5 22.5,0 C22.5,14.5 13.9,26.7 0,29 C-13.9,26.7 -22.5,14.5 -22.5,0 C-22.5,-14.5 -13.9,-26.7 0,-29 Z" transform="translate(1001.4,1233.9) rotate(126.6)" fill="#2a0704"/>
<path d="M0,-29 C13.9,-26.7 22.5,-14.5 22.5,0 C22.5,14.5 13.9,26.7 0,29 C-13.9,26.7 -22.5,14.5 -22.5,0 C-22.5,-14.5 -13.9,-26.7 0,-29 Z" transform="translate(986.1,1279.8) rotate(94.7)" fill="#2a0704"/>
<path d="M0,-29 C13.9,-26.7 22.5,-14.5 22.5,0 C22.5,14.5 13.9,26.7 0,29 C-13.9,26.7 -22.5,14.5 -22.5,0 C-22.5,-14.5 -13.9,-26.7 0,-29 Z" transform="translate(993.8,1325.8) rotate(72.3)" fill="#2a0704"/>
<path d="M0,-29 C13.9,-26.7 22.5,-14.5 22.5,0 C22.5,14.5 13.9,26.7 0,29 C-13.9,26.7 -22.5,14.5 -22.5,0 C-22.5,-14.5 -13.9,-26.7 0,-29 Z" transform="translate(1014.8,1369.8) rotate(59.1)" fill="#2a0704"/>
<path d="M0,-29 C13.9,-26.7 22.5,-14.5 22.5,0 C22.5,14.5 13.9,26.7 0,29 C-13.9,26.7 -22.5,14.5 -22.5,0 C-22.5,-14.5 -13.9,-26.7 0,-29 Z" transform="translate(1045.4,1411.9) rotate(50.3)" fill="#2a0704"/>
<path d="M0,-29 C13.9,-26.7 22.5,-14.5 22.5,0 C22.5,14.5 13.9,26.7 0,29 C-13.9,26.7 -22.5,14.5 -22.5,0 C-22.5,-14.5 -13.9,-26.7 0,-29 Z" transform="translate(1079.8,1448.2) rotate(38.7)" fill="#2a0704"/>
<path d="M0,-29 C13.9,-26.7 22.5,-14.5 22.5,0 C22.5,14.5 13.9,26.7 0,29 C-13.9,26.7 -22.5,14.5 -22.5,0 C-22.5,-14.5 -13.9,-26.7 0,-29 Z" transform="translate(1121.9,1473.1) rotate(27.5)" fill="#2a0704"/>
<path d="M0,-29 C13.9,-26.7 22.5,-14.5 22.5,0 C22.5,14.5 13.9,26.7 0,29 C-13.9,26.7 -22.5,14.5 -22.5,0 C-22.5,-14.5 -13.9,-26.7 0,-29 Z" transform="translate(1167.9,1494.1) rotate(21.6)" fill="#2a0704"/>
<path d="M0,-29 C13.9,-26.7 22.5,-14.5 22.5,0 C22.5,14.5 13.9,26.7 0,29 C-13.9,26.7 -22.5,14.5 -22.5,0 C-22.5,-14.5 -13.9,-26.7 0,-29 Z" transform="translate(1213.8,1509.4) rotate(16)" fill="#2a0704"/>
<path d="M0,-29 C13.9,-26.7 22.5,-14.5 22.5,0 C22.5,14.5 13.9,26.7 0,29 C-13.9,26.7 -22.5,14.5 -22.5,0 C-22.5,-14.5 -13.9,-26.7 0,-29 Z" transform="translate(1261.6,1520.9) rotate(9.1)" fill="#2a0704"/>
<path d="M0,-29 C13.9,-26.7 22.5,-14.5 22.5,0 C22.5,14.5 13.9,26.7 0,29 C-13.9,26.7 -22.5,14.5 -22.5,0 C-22.5,-14.5 -13.9,-26.7 0,-29 Z" transform="translate(1309.4,1524.7) rotate(1.1)" fill="#2a0704"/>
<path d="M0,-29 C13.9,-26.7 22.5,-14.5 22.5,0 C22.5,14.5 13.9,26.7 0,29 C-13.9,26.7 -22.5,14.5 -22.5,0 C-22.5,-14.5 -13.9,-26.7 0,-29 Z" transform="translate(1359.2,1522.8) rotate(-5.5)" fill="#2a0704"/>
<path d="M0,-29 C13.9,-26.7 22.5,-14.5 22.5,0 C22.5,14.5 13.9,26.7 0,29 C-13.9,26.7 -22.5,14.5 -22.5,0 C-22.5,-14.5 -13.9,-26.7 0,-29 Z" transform="translate(1408.9,1515.2) rotate(-13)" fill="#2a0704"/>
<path d="M0,-29 C13.9,-26.7 22.5,-14.5 22.5,0 C22.5,14.5 13.9,26.7 0,29 C-13.9,26.7 -22.5,14.5 -22.5,0 C-22.5,-14.5 -13.9,-26.7 0,-29 Z" transform="translate(1458.7,1499.9) rotate(-27.5)" fill="#2a0704"/>
<path d="M0,-29 C13.9,-26.7 22.5,-14.5 22.5,0 C22.5,14.5 13.9,26.7 0,29 C-13.9,26.7 -22.5,14.5 -22.5,0 C-22.5,-14.5 -13.9,-26.7 0,-29 Z" transform="translate(1496.9,1469.3) rotate(-42.5)" fill="#2a0704"/>
<path d="M0,-29 C13.9,-26.7 22.5,-14.5 22.5,0 C22.5,14.5 13.9,26.7 0,29 C-13.9,26.7 -22.5,14.5 -22.5,0 C-22.5,-14.5 -13.9,-26.7 0,-29 Z" transform="translate(1527.6,1436.7) rotate(-56.3)" fill="#2a0704"/>
<path d="M0,-29 C13.9,-26.7 22.5,-14.5 22.5,0 C22.5,14.5 13.9,26.7 0,29 C-13.9,26.7 -22.5,14.5 -22.5,0 C-22.5,-14.5 -13.9,-26.7 0,-29 Z" transform="translate(1546.7,1394.6) rotate(-75.7)" fill="#2a0704"/>
<path d="M0,-29 C13.9,-26.7 22.5,-14.5 22.5,0 C22.5,14.5 13.9,26.7 0,29 C-13.9,26.7 -22.5,14.5 -22.5,0 C-22.5,-14.5 -13.9,-26.7 0,-29 Z" transform="translate(1550.5,1346.8) rotate(-98.3)" fill="#2a0704"/>
<path d="M0,-29 C13.9,-26.7 22.5,-14.5 22.5,0 C22.5,14.5 13.9,26.7 0,29 C-13.9,26.7 -22.5,14.5 -22.5,0 C-22.5,-14.5 -13.9,-26.7 0,-29 Z" transform="translate(1533.3,1302.8) rotate(-132.4)" fill="#2a0704"/>
<path d="M0,-29 C13.9,-26.7 22.5,-14.5 22.5,0 C22.5,14.5 13.9,26.7 0,29 C-13.9,26.7 -22.5,14.5 -22.5,0 C-22.5,-14.5 -13.9,-26.7 0,-29 Z" transform="translate(1489.3,1279.8) rotate(-170.3)" fill="#2a0704"/>
<path d="M0,-29 C13.9,-26.7 22.5,-14.5 22.5,0 C22.5,14.5 13.9,26.7 0,29 C-13.9,26.7 -22.5,14.5 -22.5,0 C-22.5,-14.5 -13.9,-26.7 0,-29 Z" transform="translate(1443.4,1287.5) rotate(160.1)" fill="#2a0704"/>
<path d="M0,-29 C13.9,-26.7 22.5,-14.5 22.5,0 C22.5,14.5 13.9,26.7 0,29 C-13.9,26.7 -22.5,14.5 -22.5,0 C-22.5,-14.5 -13.9,-26.7 0,-29 Z" transform="translate(1399.4,1312.4) rotate(160.2)" fill="#2a0704"/>
<path d="M0,-29 C13.9,-26.7 22.5,-14.5 22.5,0 C22.5,14.5 13.9,26.7 0,29 C-13.9,26.7 -22.5,14.5 -22.5,0 C-22.5,-14.5 -13.9,-26.7 0,-29 Z" transform="translate(1347.7,1321.9) rotate(-167.1)" fill="#2a0704"/>
<path d="M0,-29 C13.9,-26.7 22.5,-14.5 22.5,0 C22.5,14.5 13.9,26.7 0,29 C-13.9,26.7 -22.5,14.5 -22.5,0 C-22.5,-14.5 -13.9,-26.7 0,-29 Z" transform="translate(1307.5,1291.3) rotate(-122.4)" fill="#2a0704"/>
<path d="M0,-29 C13.9,-26.7 22.5,-14.5 22.5,0 C22.5,14.5 13.9,26.7 0,29 C-13.9,26.7 -22.5,14.5 -22.5,0 C-22.5,-14.5 -13.9,-26.7 0,-29 Z" transform="translate(1298,1243.5) rotate(-85.4)" fill="#2a0704"/>
<path d="M0,-29 C13.9,-26.7 22.5,-14.5 22.5,0 C22.5,14.5 13.9,26.7 0,29 C-13.9,26.7 -22.5,14.5 -22.5,0 C-22.5,-14.5 -13.9,-26.7 0,-29 Z" transform="translate(1315.2,1195.7) rotate(-51.5)" fill="#2a0704"/>
<path d="M0,-29 C13.9,-26.7 22.5,-14.5 22.5,0 C22.5,14.5 13.9,26.7 0,29 C-13.9,26.7 -22.5,14.5 -22.5,0 C-22.5,-14.5 -13.9,-26.7 0,-29 Z" transform="translate(1357.3,1168.9) rotate(-20.6)" fill="#2a0704"/>
<path d="M0,-29 C13.9,-26.7 22.5,-14.5 22.5,0 C22.5,14.5 13.9,26.7 0,29 C-13.9,26.7 -22.5,14.5 -22.5,0 C-22.5,-14.5 -13.9,-26.7 0,-29 Z" transform="translate(1407,1161.2) rotate(-5.6)" fill="#2a0704"/>
<path d="M0,-29 C13.9,-26.7 22.5,-14.5 22.5,0 C22.5,14.5 13.9,26.7 0,29 C-13.9,26.7 -22.5,14.5 -22.5,0 C-22.5,-14.5 -13.9,-26.7 0,-29 Z" transform="translate(1454.9,1159.3) rotate(-2.2)" fill="#2a0704"/>
<path d="M0,-29 C13.9,-26.7 22.5,-14.5 22.5,0 C22.5,14.5 13.9,26.7 0,29 C-13.9,26.7 -22.5,14.5 -22.5,0 C-22.5,-14.5 -13.9,-26.7 0,-29 Z" transform="translate(1504.6,1157.4) rotate(-9.1)" fill="#2a0704"/>
<path d="M0,-29 C13.9,-26.7 22.5,-14.5 22.5,0 C22.5,14.5 13.9,26.7 0,29 C-13.9,26.7 -22.5,14.5 -22.5,0 C-22.5,-14.5 -13.9,-26.7 0,-29 Z" transform="translate(1550.5,1144) rotate(-23.4)" fill="#2a0704"/>
<path d="M0,-29 C13.9,-26.7 22.5,-14.5 22.5,0 C22.5,14.5 13.9,26.7 0,29 C-13.9,26.7 -22.5,14.5 -22.5,0 C-22.5,-14.5 -13.9,-26.7 0,-29 Z" transform="translate(1588.8,1121) rotate(-31)" fill="#2a0704"/>
<g transform="translate(976,1148.9) rotate(-107.1)"><path d="M0,-23.5 C11,-21.6 17.8,-11.8 17.8,0 C17.8,11.8 11,21.6 0,23.5 C-11,21.6 -17.8,11.8 -17.8,0 C-17.8,-11.8 -11,-21.6 0,-23.5 Z" fill="url(#bead)"/><ellipse cx="-2" cy="-5" rx="3.2" ry="6" fill="#dcc4cc" opacity="0.9" transform="rotate(20)"/></g>
<g transform="translate(960.7,1099.2) rotate(-88.9)"><path d="M0,-23.5 C11,-21.6 17.8,-11.8 17.8,0 C17.8,11.8 11,21.6 0,23.5 C-11,21.6 -17.8,11.8 -17.8,0 C-17.8,-11.8 -11,-21.6 0,-23.5 Z" fill="url(#bead)"/><ellipse cx="-2" cy="-5" rx="3.2" ry="6" fill="#dcc4cc" opacity="0.9" transform="rotate(20)"/></g>
<g transform="translate(977.9,1053.3) rotate(-59.9)"><path d="M0,-23.5 C11,-21.6 17.8,-11.8 17.8,0 C17.8,11.8 11,21.6 0,23.5 C-11,21.6 -17.8,11.8 -17.8,0 C-17.8,-11.8 -11,-21.6 0,-23.5 Z" fill="url(#bead)"/><ellipse cx="-2" cy="-5" rx="3.2" ry="6" fill="#dcc4cc" opacity="0.9" transform="rotate(20)"/></g>
<g transform="translate(1008.5,1016.9) rotate(-54.8)"><path d="M0,-23.5 C11,-21.6 17.8,-11.8 17.8,0 C17.8,11.8 11,21.6 0,23.5 C-11,21.6 -17.8,11.8 -17.8,0 C-17.8,-11.8 -11,-21.6 0,-23.5 Z" fill="url(#bead)"/><ellipse cx="-2" cy="-5" rx="3.2" ry="6" fill="#dcc4cc" opacity="0.9" transform="rotate(20)"/></g>
<g transform="translate(1037.2,969.1) rotate(-71.2)"><path d="M0,-23.5 C11,-21.6 17.8,-11.8 17.8,0 C17.8,11.8 11,21.6 0,23.5 C-11,21.6 -17.8,11.8 -17.8,0 C-17.8,-11.8 -11,-21.6 0,-23.5 Z" fill="url(#bead)"/><ellipse cx="-2" cy="-5" rx="3.2" ry="6" fill="#dcc4cc" opacity="0.9" transform="rotate(20)"/></g>
<g transform="translate(1041.1,921.3) rotate(-56.6)"><path d="M0,-23.5 C11,-21.6 17.8,-11.8 17.8,0 C17.8,11.8 11,21.6 0,23.5 C-11,21.6 -17.8,11.8 -17.8,0 C-17.8,-11.8 -11,-21.6 0,-23.5 Z" fill="url(#bead)"/><ellipse cx="-2" cy="-5" rx="3.2" ry="6" fill="#dcc4cc" opacity="0.9" transform="rotate(20)"/></g>
<g transform="translate(1085.1,896.4) rotate(-31)"><path d="M0,-23.5 C11,-21.6 17.8,-11.8 17.8,0 C17.8,11.8 11,21.6 0,23.5 C-11,21.6 -17.8,11.8 -17.8,0 C-17.8,-11.8 -11,-21.6 0,-23.5 Z" fill="url(#bead)"/><ellipse cx="-2" cy="-5" rx="3.2" ry="6" fill="#dcc4cc" opacity="0.9" transform="rotate(20)"/></g>
<g transform="translate(1127.2,869.6) rotate(-48.4)"><path d="M0,-23.5 C11,-21.6 17.8,-11.8 17.8,0 C17.8,11.8 11,21.6 0,23.5 C-11,21.6 -17.8,11.8 -17.8,0 C-17.8,-11.8 -11,-21.6 0,-23.5 Z" fill="url(#bead)"/><ellipse cx="-2" cy="-5" rx="3.2" ry="6" fill="#dcc4cc" opacity="0.9" transform="rotate(20)"/></g>
<g transform="translate(1146.3,827.5) rotate(-80)"><path d="M0,-23.5 C11,-21.6 17.8,-11.8 17.8,0 C17.8,11.8 11,21.6 0,23.5 C-11,21.6 -17.8,11.8 -17.8,0 C-17.8,-11.8 -11,-21.6 0,-23.5 Z" fill="url(#bead)"/><ellipse cx="-2" cy="-5" rx="3.2" ry="6" fill="#dcc4cc" opacity="0.9" transform="rotate(20)"/></g>
<g transform="translate(1144.4,772) rotate(-108.4)"><path d="M0,-23.5 C11,-21.6 17.8,-11.8 17.8,0 C17.8,11.8 11,21.6 0,23.5 C-11,21.6 -17.8,11.8 -17.8,0 C-17.8,-11.8 -11,-21.6 0,-23.5 Z" fill="url(#bead)"/><ellipse cx="-2" cy="-5" rx="3.2" ry="6" fill="#dcc4cc" opacity="0.9" transform="rotate(20)"/></g>
<g transform="translate(1115.7,735.7) rotate(-144.3)"><path d="M0,-23.5 C11,-21.6 17.8,-11.8 17.8,0 C17.8,11.8 11,21.6 0,23.5 C-11,21.6 -17.8,11.8 -17.8,0 C-17.8,-11.8 -11,-21.6 0,-23.5 Z" fill="url(#bead)"/><ellipse cx="-2" cy="-5" rx="3.2" ry="6" fill="#dcc4cc" opacity="0.9" transform="rotate(20)"/></g>
<g transform="translate(1069.8,718.4) rotate(-170.7)"><path d="M0,-23.5 C11,-21.6 17.8,-11.8 17.8,0 C17.8,11.8 11,21.6 0,23.5 C-11,21.6 -17.8,11.8 -17.8,0 C-17.8,-11.8 -11,-21.6 0,-23.5 Z" fill="url(#bead)"/><ellipse cx="-2" cy="-5" rx="3.2" ry="6" fill="#dcc4cc" opacity="0.9" transform="rotate(20)"/></g>
<g transform="translate(1021.9,720.4) rotate(166.2)"><path d="M0,-23.5 C11,-21.6 17.8,-11.8 17.8,0 C17.8,11.8 11,21.6 0,23.5 C-11,21.6 -17.8,11.8 -17.8,0 C-17.8,-11.8 -11,-21.6 0,-23.5 Z" fill="url(#bead)"/><ellipse cx="-2" cy="-5" rx="3.2" ry="6" fill="#dcc4cc" opacity="0.9" transform="rotate(20)"/></g>
<g transform="translate(976,741.4) rotate(149.1)"><path d="M0,-23.5 C11,-21.6 17.8,-11.8 17.8,0 C17.8,11.8 11,21.6 0,23.5 C-11,21.6 -17.8,11.8 -17.8,0 C-17.8,-11.8 -11,-21.6 0,-23.5 Z" fill="url(#bead)"/><ellipse cx="-2" cy="-5" rx="3.2" ry="6" fill="#dcc4cc" opacity="0.9" transform="rotate(20)"/></g>
<g transform="translate(935.8,772) rotate(138.1)"><path d="M0,-23.5 C11,-21.6 17.8,-11.8 17.8,0 C17.8,11.8 11,21.6 0,23.5 C-11,21.6 -17.8,11.8 -17.8,0 C-17.8,-11.8 -11,-21.6 0,-23.5 Z" fill="url(#bead)"/><ellipse cx="-2" cy="-5" rx="3.2" ry="6" fill="#dcc4cc" opacity="0.9" transform="rotate(20)"/></g>
<g transform="translate(901.4,808.4) rotate(123.7)"><path d="M0,-23.5 C11,-21.6 17.8,-11.8 17.8,0 C17.8,11.8 11,21.6 0,23.5 C-11,21.6 -17.8,11.8 -17.8,0 C-17.8,-11.8 -11,-21.6 0,-23.5 Z" fill="url(#bead)"/><ellipse cx="-2" cy="-5" rx="3.2" ry="6" fill="#dcc4cc" opacity="0.9" transform="rotate(20)"/></g>
<g transform="translate(878.4,858.1) rotate(112.8)"><path d="M0,-23.5 C11,-21.6 17.8,-11.8 17.8,0 C17.8,11.8 11,21.6 0,23.5 C-11,21.6 -17.8,11.8 -17.8,0 C-17.8,-11.8 -11,-21.6 0,-23.5 Z" fill="url(#bead)"/><ellipse cx="-2" cy="-5" rx="3.2" ry="6" fill="#dcc4cc" opacity="0.9" transform="rotate(20)"/></g>
<g transform="translate(861.2,904) rotate(95.7)"><path d="M0,-23.5 C11,-21.6 17.8,-11.8 17.8,0 C17.8,11.8 11,21.6 0,23.5 C-11,21.6 -17.8,11.8 -17.8,0 C-17.8,-11.8 -11,-21.6 0,-23.5 Z" fill="url(#bead)"/><ellipse cx="-2" cy="-5" rx="3.2" ry="6" fill="#dcc4cc" opacity="0.9" transform="rotate(20)"/></g>
<g transform="translate(868.9,953.8) rotate(73.7)"><path d="M0,-23.5 C11,-21.6 17.8,-11.8 17.8,0 C17.8,11.8 11,21.6 0,23.5 C-11,21.6 -17.8,11.8 -17.8,0 C-17.8,-11.8 -11,-21.6 0,-23.5 Z" fill="url(#bead)"/><ellipse cx="-2" cy="-5" rx="3.2" ry="6" fill="#dcc4cc" opacity="0.9" transform="rotate(20)"/></g>
<g transform="translate(888,995.9) rotate(74)"><path d="M0,-23.5 C11,-21.6 17.8,-11.8 17.8,0 C17.8,11.8 11,21.6 0,23.5 C-11,21.6 -17.8,11.8 -17.8,0 C-17.8,-11.8 -11,-21.6 0,-23.5 Z" fill="url(#bead)"/><ellipse cx="-2" cy="-5" rx="3.2" ry="6" fill="#dcc4cc" opacity="0.9" transform="rotate(20)"/></g>
<g transform="translate(895.7,1047.5) rotate(83)"><path d="M0,-23.5 C11,-21.6 17.8,-11.8 17.8,0 C17.8,11.8 11,21.6 0,23.5 C-11,21.6 -17.8,11.8 -17.8,0 C-17.8,-11.8 -11,-21.6 0,-23.5 Z" fill="url(#bead)"/><ellipse cx="-2" cy="-5" rx="3.2" ry="6" fill="#dcc4cc" opacity="0.9" transform="rotate(20)"/></g>
<g transform="translate(900.5,1098) rotate(84.6)"><path d="M0,-23.5 C11,-21.6 17.8,-11.8 17.8,0 C17.8,11.8 11,21.6 0,23.5 C-11,21.6 -17.8,11.8 -17.8,0 C-17.8,-11.8 -11,-21.6 0,-23.5 Z" fill="url(#bead)"/><ellipse cx="-2" cy="-5" rx="3.2" ry="6" fill="#dcc4cc" opacity="0.9" transform="rotate(20)"/></g>
<g transform="translate(1626.7,964) rotate(-114)"><path d="M0,-23.5 C11,-21.6 17.8,-11.8 17.8,0 C17.8,11.8 11,21.6 0,23.5 C-11,21.6 -17.8,11.8 -17.8,0 C-17.8,-11.8 -11,-21.6 0,-23.5 Z" fill="url(#bead)"/><ellipse cx="-2" cy="-5" rx="3.2" ry="6" fill="#dcc4cc" opacity="0.9" transform="rotate(20)"/></g>
<g transform="translate(1603.7,912.4) rotate(-113.9)"><path d="M0,-23.5 C11,-21.6 17.8,-11.8 17.8,0 C17.8,11.8 11,21.6 0,23.5 C-11,21.6 -17.8,11.8 -17.8,0 C-17.8,-11.8 -11,-21.6 0,-23.5 Z" fill="url(#bead)"/><ellipse cx="-2" cy="-5" rx="3.2" ry="6" fill="#dcc4cc" opacity="0.9" transform="rotate(20)"/></g>
<g transform="translate(1582.7,864.5) rotate(-123.4)"><path d="M0,-23.5 C11,-21.6 17.8,-11.8 17.8,0 C17.8,11.8 11,21.6 0,23.5 C-11,21.6 -17.8,11.8 -17.8,0 C-17.8,-11.8 -11,-21.6 0,-23.5 Z" fill="url(#bead)"/><ellipse cx="-2" cy="-5" rx="3.2" ry="6" fill="#dcc4cc" opacity="0.9" transform="rotate(20)"/></g>
<g transform="translate(1548.2,828.2) rotate(-136.6)"><path d="M0,-23.5 C11,-21.6 17.8,-11.8 17.8,0 C17.8,11.8 11,21.6 0,23.5 C-11,21.6 -17.8,11.8 -17.8,0 C-17.8,-11.8 -11,-21.6 0,-23.5 Z" fill="url(#bead)"/><ellipse cx="-2" cy="-5" rx="3.2" ry="6" fill="#dcc4cc" opacity="0.9" transform="rotate(20)"/></g>
<g transform="translate(1511.9,797.6) rotate(-150.4)"><path d="M0,-23.5 C11,-21.6 17.8,-11.8 17.8,0 C17.8,11.8 11,21.6 0,23.5 C-11,21.6 -17.8,11.8 -17.8,0 C-17.8,-11.8 -11,-21.6 0,-23.5 Z" fill="url(#bead)"/><ellipse cx="-2" cy="-5" rx="3.2" ry="6" fill="#dcc4cc" opacity="0.9" transform="rotate(20)"/></g>
<g transform="translate(1464,780.4) rotate(-173.1)"><path d="M0,-23.5 C11,-21.6 17.8,-11.8 17.8,0 C17.8,11.8 11,21.6 0,23.5 C-11,21.6 -17.8,11.8 -17.8,0 C-17.8,-11.8 -11,-21.6 0,-23.5 Z" fill="url(#bead)"/><ellipse cx="-2" cy="-5" rx="3.2" ry="6" fill="#dcc4cc" opacity="0.9" transform="rotate(20)"/></g>
<g transform="translate(1416.2,786.1) rotate(166.5)"><path d="M0,-23.5 C11,-21.6 17.8,-11.8 17.8,0 C17.8,11.8 11,21.6 0,23.5 C-11,21.6 -17.8,11.8 -17.8,0 C-17.8,-11.8 -11,-21.6 0,-23.5 Z" fill="url(#bead)"/><ellipse cx="-2" cy="-5" rx="3.2" ry="6" fill="#dcc4cc" opacity="0.9" transform="rotate(20)"/></g>
<g transform="translate(1368.4,803.3) rotate(146.6)"><path d="M0,-23.5 C11,-21.6 17.8,-11.8 17.8,0 C17.8,11.8 11,21.6 0,23.5 C-11,21.6 -17.8,11.8 -17.8,0 C-17.8,-11.8 -11,-21.6 0,-23.5 Z" fill="url(#bead)"/><ellipse cx="-2" cy="-5" rx="3.2" ry="6" fill="#dcc4cc" opacity="0.9" transform="rotate(20)"/></g>
<g transform="translate(1332,841.6) rotate(119.6)"><path d="M0,-23.5 C11,-21.6 17.8,-11.8 17.8,0 C17.8,11.8 11,21.6 0,23.5 C-11,21.6 -17.8,11.8 -17.8,0 C-17.8,-11.8 -11,-21.6 0,-23.5 Z" fill="url(#bead)"/><ellipse cx="-2" cy="-5" rx="3.2" ry="6" fill="#dcc4cc" opacity="0.9" transform="rotate(20)"/></g>
<g transform="translate(1320.5,887.5) rotate(96)"><path d="M0,-23.5 C11,-21.6 17.8,-11.8 17.8,0 C17.8,11.8 11,21.6 0,23.5 C-11,21.6 -17.8,11.8 -17.8,0 C-17.8,-11.8 -11,-21.6 0,-23.5 Z" fill="url(#bead)"/><ellipse cx="-2" cy="-5" rx="3.2" ry="6" fill="#dcc4cc" opacity="0.9" transform="rotate(20)"/></g>
<g transform="translate(1322.4,933.4) rotate(88.9)"><path d="M0,-23.5 C11,-21.6 17.8,-11.8 17.8,0 C17.8,11.8 11,21.6 0,23.5 C-11,21.6 -17.8,11.8 -17.8,0 C-17.8,-11.8 -11,-21.6 0,-23.5 Z" fill="url(#bead)"/><ellipse cx="-2" cy="-5" rx="3.2" ry="6" fill="#dcc4cc" opacity="0.9" transform="rotate(20)"/></g>
<g transform="translate(1322.4,983.2) rotate(95.6)"><path d="M0,-23.5 C11,-21.6 17.8,-11.8 17.8,0 C17.8,11.8 11,21.6 0,23.5 C-11,21.6 -17.8,11.8 -17.8,0 C-17.8,-11.8 -11,-21.6 0,-23.5 Z" fill="url(#bead)"/><ellipse cx="-2" cy="-5" rx="3.2" ry="6" fill="#dcc4cc" opacity="0.9" transform="rotate(20)"/></g>
<g transform="translate(1312.9,1031) rotate(106.7)"><path d="M0,-23.5 C11,-21.6 17.8,-11.8 17.8,0 C17.8,11.8 11,21.6 0,23.5 C-11,21.6 -17.8,11.8 -17.8,0 C-17.8,-11.8 -11,-21.6 0,-23.5 Z" fill="url(#bead)"/><ellipse cx="-2" cy="-5" rx="3.2" ry="6" fill="#dcc4cc" opacity="0.9" transform="rotate(20)"/></g>
<g transform="translate(1293.8,1078.8) rotate(117.5)"><path d="M0,-23.5 C11,-21.6 17.8,-11.8 17.8,0 C17.8,11.8 11,21.6 0,23.5 C-11,21.6 -17.8,11.8 -17.8,0 C-17.8,-11.8 -11,-21.6 0,-23.5 Z" fill="url(#bead)"/><ellipse cx="-2" cy="-5" rx="3.2" ry="6" fill="#dcc4cc" opacity="0.9" transform="rotate(20)"/></g>
<g transform="translate(1265.1,1122.8) rotate(128.3)"><path d="M0,-23.5 C11,-21.6 17.8,-11.8 17.8,0 C17.8,11.8 11,21.6 0,23.5 C-11,21.6 -17.8,11.8 -17.8,0 C-17.8,-11.8 -11,-21.6 0,-23.5 Z" fill="url(#bead)"/><ellipse cx="-2" cy="-5" rx="3.2" ry="6" fill="#dcc4cc" opacity="0.9" transform="rotate(20)"/></g>
<g transform="translate(1228.7,1161.1) rotate(145.2)"><path d="M0,-23.5 C11,-21.6 17.8,-11.8 17.8,0 C17.8,11.8 11,21.6 0,23.5 C-11,21.6 -17.8,11.8 -17.8,0 C-17.8,-11.8 -11,-21.6 0,-23.5 Z" fill="url(#bead)"/><ellipse cx="-2" cy="-5" rx="3.2" ry="6" fill="#dcc4cc" opacity="0.9" transform="rotate(20)"/></g>
<g transform="translate(1185.1,1178.4) rotate(165)"><path d="M0,-23.5 C11,-21.6 17.8,-11.8 17.8,0 C17.8,11.8 11,21.6 0,23.5 C-11,21.6 -17.8,11.8 -17.8,0 C-17.8,-11.8 -11,-21.6 0,-23.5 Z" fill="url(#bead)"/><ellipse cx="-2" cy="-5" rx="3.2" ry="6" fill="#dcc4cc" opacity="0.9" transform="rotate(20)"/></g>
<g transform="translate(1135.3,1186.1) rotate(173.3)"><path d="M0,-23.5 C11,-21.6 17.8,-11.8 17.8,0 C17.8,11.8 11,21.6 0,23.5 C-11,21.6 -17.8,11.8 -17.8,0 C-17.8,-11.8 -11,-21.6 0,-23.5 Z" fill="url(#bead)"/><ellipse cx="-2" cy="-5" rx="3.2" ry="6" fill="#dcc4cc" opacity="0.9" transform="rotate(20)"/></g>
<g transform="translate(1087.5,1189.9) rotate(168.5)"><path d="M0,-23.5 C11,-21.6 17.8,-11.8 17.8,0 C17.8,11.8 11,21.6 0,23.5 C-11,21.6 -17.8,11.8 -17.8,0 C-17.8,-11.8 -11,-21.6 0,-23.5 Z" fill="url(#bead)"/><ellipse cx="-2" cy="-5" rx="3.2" ry="6" fill="#dcc4cc" opacity="0.9" transform="rotate(20)"/></g>
<g transform="translate(1041.6,1205.2) rotate(152.9)"><path d="M0,-23.5 C11,-21.6 17.8,-11.8 17.8,0 C17.8,11.8 11,21.6 0,23.5 C-11,21.6 -17.8,11.8 -17.8,0 C-17.8,-11.8 -11,-21.6 0,-23.5 Z" fill="url(#bead)"/><ellipse cx="-2" cy="-5" rx="3.2" ry="6" fill="#dcc4cc" opacity="0.9" transform="rotate(20)"/></g>
<g transform="translate(1001.4,1233.9) rotate(126.6)"><path d="M0,-23.5 C11,-21.6 17.8,-11.8 17.8,0 C17.8,11.8 11,21.6 0,23.5 C-11,21.6 -17.8,11.8 -17.8,0 C-17.8,-11.8 -11,-21.6 0,-23.5 Z" fill="url(#bead)"/><ellipse cx="-2" cy="-5" rx="3.2" ry="6" fill="#dcc4cc" opacity="0.9" transform="rotate(20)"/></g>
<g transform="translate(986.1,1279.8) rotate(94.7)"><path d="M0,-23.5 C11,-21.6 17.8,-11.8 17.8,0 C17.8,11.8 11,21.6 0,23.5 C-11,21.6 -17.8,11.8 -17.8,0 C-17.8,-11.8 -11,-21.6 0,-23.5 Z" fill="url(#bead)"/><ellipse cx="-2" cy="-5" rx="3.2" ry="6" fill="#dcc4cc" opacity="0.9" transform="rotate(20)"/></g>
<g transform="translate(993.8,1325.8) rotate(72.3)"><path d="M0,-23.5 C11,-21.6 17.8,-11.8 17.8,0 C17.8,11.8 11,21.6 0,23.5 C-11,21.6 -17.8,11.8 -17.8,0 C-17.8,-11.8 -11,-21.6 0,-23.5 Z" fill="url(#bead)"/><ellipse cx="-2" cy="-5" rx="3.2" ry="6" fill="#dcc4cc" opacity="0.9" transform="rotate(20)"/></g>
<g transform="translate(1014.8,1369.8) rotate(59.1)"><path d="M0,-23.5 C11,-21.6 17.8,-11.8 17.8,0 C17.8,11.8 11,21.6 0,23.5 C-11,21.6 -17.8,11.8 -17.8,0 C-17.8,-11.8 -11,-21.6 0,-23.5 Z" fill="url(#bead)"/><ellipse cx="-2" cy="-5" rx="3.2" ry="6" fill="#dcc4cc" opacity="0.9" transform="rotate(20)"/></g>
<g transform="translate(1045.4,1411.9) rotate(50.3)"><path d="M0,-23.5 C11,-21.6 17.8,-11.8 17.8,0 C17.8,11.8 11,21.6 0,23.5 C-11,21.6 -17.8,11.8 -17.8,0 C-17.8,-11.8 -11,-21.6 0,-23.5 Z" fill="url(#bead)"/><ellipse cx="-2" cy="-5" rx="3.2" ry="6" fill="#dcc4cc" opacity="0.9" transform="rotate(20)"/></g>
<g transform="translate(1079.8,1448.2) rotate(38.7)"><path d="M0,-23.5 C11,-21.6 17.8,-11.8 17.8,0 C17.8,11.8 11,21.6 0,23.5 C-11,21.6 -17.8,11.8 -17.8,0 C-17.8,-11.8 -11,-21.6 0,-23.5 Z" fill="url(#bead)"/><ellipse cx="-2" cy="-5" rx="3.2" ry="6" fill="#dcc4cc" opacity="0.9" transform="rotate(20)"/></g>
<g transform="translate(1121.9,1473.1) rotate(27.5)"><path d="M0,-23.5 C11,-21.6 17.8,-11.8 17.8,0 C17.8,11.8 11,21.6 0,23.5 C-11,21.6 -17.8,11.8 -17.8,0 C-17.8,-11.8 -11,-21.6 0,-23.5 Z" fill="url(#bead)"/><ellipse cx="-2" cy="-5" rx="3.2" ry="6" fill="#dcc4cc" opacity="0.9" transform="rotate(20)"/></g>
<g transform="translate(1167.9,1494.1) rotate(21.6)"><path d="M0,-23.5 C11,-21.6 17.8,-11.8 17.8,0 C17.8,11.8 11,21.6 0,23.5 C-11,21.6 -17.8,11.8 -17.8,0 C-17.8,-11.8 -11,-21.6 0,-23.5 Z" fill="url(#bead)"/><ellipse cx="-2" cy="-5" rx="3.2" ry="6" fill="#dcc4cc" opacity="0.9" transform="rotate(20)"/></g>
<g transform="translate(1213.8,1509.4) rotate(16)"><path d="M0,-23.5 C11,-21.6 17.8,-11.8 17.8,0 C17.8,11.8 11,21.6 0,23.5 C-11,21.6 -17.8,11.8 -17.8,0 C-17.8,-11.8 -11,-21.6 0,-23.5 Z" fill="url(#bead)"/><ellipse cx="-2" cy="-5" rx="3.2" ry="6" fill="#dcc4cc" opacity="0.9" transform="rotate(20)"/></g>
<g transform="translate(1261.6,1520.9) rotate(9.1)"><path d="M0,-23.5 C11,-21.6 17.8,-11.8 17.8,0 C17.8,11.8 11,21.6 0,23.5 C-11,21.6 -17.8,11.8 -17.8,0 C-17.8,-11.8 -11,-21.6 0,-23.5 Z" fill="url(#bead)"/><ellipse cx="-2" cy="-5" rx="3.2" ry="6" fill="#dcc4cc" opacity="0.9" transform="rotate(20)"/></g>
<g transform="translate(1309.4,1524.7) rotate(1.1)"><path d="M0,-23.5 C11,-21.6 17.8,-11.8 17.8,0 C17.8,11.8 11,21.6 0,23.5 C-11,21.6 -17.8,11.8 -17.8,0 C-17.8,-11.8 -11,-21.6 0,-23.5 Z" fill="url(#bead)"/><ellipse cx="-2" cy="-5" rx="3.2" ry="6" fill="#dcc4cc" opacity="0.9" transform="rotate(20)"/></g>
<g transform="translate(1359.2,1522.8) rotate(-5.5)"><path d="M0,-23.5 C11,-21.6 17.8,-11.8 17.8,0 C17.8,11.8 11,21.6 0,23.5 C-11,21.6 -17.8,11.8 -17.8,0 C-17.8,-11.8 -11,-21.6 0,-23.5 Z" fill="url(#bead)"/><ellipse cx="-2" cy="-5" rx="3.2" ry="6" fill="#dcc4cc" opacity="0.9" transform="rotate(20)"/></g>
<g transform="translate(1408.9,1515.2) rotate(-13)"><path d="M0,-23.5 C11,-21.6 17.8,-11.8 17.8,0 C17.8,11.8 11,21.6 0,23.5 C-11,21.6 -17.8,11.8 -17.8,0 C-17.8,-11.8 -11,-21.6 0,-23.5 Z" fill="url(#bead)"/><ellipse cx="-2" cy="-5" rx="3.2" ry="6" fill="#dcc4cc" opacity="0.9" transform="rotate(20)"/></g>
<g transform="translate(1458.7,1499.9) rotate(-27.5)"><path d="M0,-23.5 C11,-21.6 17.8,-11.8 17.8,0 C17.8,11.8 11,21.6 0,23.5 C-11,21.6 -17.8,11.8 -17.8,0 C-17.8,-11.8 -11,-21.6 0,-23.5 Z" fill="url(#bead)"/><ellipse cx="-2" cy="-5" rx="3.2" ry="6" fill="#dcc4cc" opacity="0.9" transform="rotate(20)"/></g>
<g transform="translate(1496.9,1469.3) rotate(-42.5)"><path d="M0,-23.5 C11,-21.6 17.8,-11.8 17.8,0 C17.8,11.8 11,21.6 0,23.5 C-11,21.6 -17.8,11.8 -17.8,0 C-17.8,-11.8 -11,-21.6 0,-23.5 Z" fill="url(#bead)"/><ellipse cx="-2" cy="-5" rx="3.2" ry="6" fill="#dcc4cc" opacity="0.9" transform="rotate(20)"/></g>
<g transform="translate(1527.6,1436.7) rotate(-56.3)"><path d="M0,-23.5 C11,-21.6 17.8,-11.8 17.8,0 C17.8,11.8 11,21.6 0,23.5 C-11,21.6 -17.8,11.8 -17.8,0 C-17.8,-11.8 -11,-21.6 0,-23.5 Z" fill="url(#bead)"/><ellipse cx="-2" cy="-5" rx="3.2" ry="6" fill="#dcc4cc" opacity="0.9" transform="rotate(20)"/></g>
<g transform="translate(1546.7,1394.6) rotate(-75.7)"><path d="M0,-23.5 C11,-21.6 17.8,-11.8 17.8,0 C17.8,11.8 11,21.6 0,23.5 C-11,21.6 -17.8,11.8 -17.8,0 C-17.8,-11.8 -11,-21.6 0,-23.5 Z" fill="url(#bead)"/><ellipse cx="-2" cy="-5" rx="3.2" ry="6" fill="#dcc4cc" opacity="0.9" transform="rotate(20)"/></g>
<g transform="translate(1550.5,1346.8) rotate(-98.3)"><path d="M0,-23.5 C11,-21.6 17.8,-11.8 17.8,0 C17.8,11.8 11,21.6 0,23.5 C-11,21.6 -17.8,11.8 -17.8,0 C-17.8,-11.8 -11,-21.6 0,-23.5 Z" fill="url(#bead)"/><ellipse cx="-2" cy="-5" rx="3.2" ry="6" fill="#dcc4cc" opacity="0.9" transform="rotate(20)"/></g>
<g transform="translate(1533.3,1302.8) rotate(-132.4)"><path d="M0,-23.5 C11,-21.6 17.8,-11.8 17.8,0 C17.8,11.8 11,21.6 0,23.5 C-11,21.6 -17.8,11.8 -17.8,0 C-17.8,-11.8 -11,-21.6 0,-23.5 Z" fill="url(#bead)"/><ellipse cx="-2" cy="-5" rx="3.2" ry="6" fill="#dcc4cc" opacity="0.9" transform="rotate(20)"/></g>
<g transform="translate(1489.3,1279.8) rotate(-170.3)"><path d="M0,-23.5 C11,-21.6 17.8,-11.8 17.8,0 C17.8,11.8 11,21.6 0,23.5 C-11,21.6 -17.8,11.8 -17.8,0 C-17.8,-11.8 -11,-21.6 0,-23.5 Z" fill="url(#bead)"/><ellipse cx="-2" cy="-5" rx="3.2" ry="6" fill="#dcc4cc" opacity="0.9" transform="rotate(20)"/></g>
<g transform="translate(1443.4,1287.5) rotate(160.1)"><path d="M0,-23.5 C11,-21.6 17.8,-11.8 17.8,0 C17.8,11.8 11,21.6 0,23.5 C-11,21.6 -17.8,11.8 -17.8,0 C-17.8,-11.8 -11,-21.6 0,-23.5 Z" fill="url(#bead)"/><ellipse cx="-2" cy="-5" rx="3.2" ry="6" fill="#dcc4cc" opacity="0.9" transform="rotate(20)"/></g>
<g transform="translate(1399.4,1312.4) rotate(160.2)"><path d="M0,-23.5 C11,-21.6 17.8,-11.8 17.8,0 C17.8,11.8 11,21.6 0,23.5 C-11,21.6 -17.8,11.8 -17.8,0 C-17.8,-11.8 -11,-21.6 0,-23.5 Z" fill="url(#bead)"/><ellipse cx="-2" cy="-5" rx="3.2" ry="6" fill="#dcc4cc" opacity="0.9" transform="rotate(20)"/></g>
<g transform="translate(1347.7,1321.9) rotate(-167.1)"><path d="M0,-23.5 C11,-21.6 17.8,-11.8 17.8,0 C17.8,11.8 11,21.6 0,23.5 C-11,21.6 -17.8,11.8 -17.8,0 C-17.8,-11.8 -11,-21.6 0,-23.5 Z" fill="url(#bead)"/><ellipse cx="-2" cy="-5" rx="3.2" ry="6" fill="#dcc4cc" opacity="0.9" transform="rotate(20)"/></g>
<g transform="translate(1307.5,1291.3) rotate(-122.4)"><path d="M0,-23.5 C11,-21.6 17.8,-11.8 17.8,0 C17.8,11.8 11,21.6 0,23.5 C-11,21.6 -17.8,11.8 -17.8,0 C-17.8,-11.8 -11,-21.6 0,-23.5 Z" fill="url(#bead)"/><ellipse cx="-2" cy="-5" rx="3.2" ry="6" fill="#dcc4cc" opacity="0.9" transform="rotate(20)"/></g>
<g transform="translate(1298,1243.5) rotate(-85.4)"><path d="M0,-23.5 C11,-21.6 17.8,-11.8 17.8,0 C17.8,11.8 11,21.6 0,23.5 C-11,21.6 -17.8,11.8 -17.8,0 C-17.8,-11.8 -11,-21.6 0,-23.5 Z" fill="url(#bead)"/><ellipse cx="-2" cy="-5" rx="3.2" ry="6" fill="#dcc4cc" opacity="0.9" transform="rotate(20)"/></g>
<g transform="translate(1315.2,1195.7) rotate(-51.5)"><path d="M0,-23.5 C11,-21.6 17.8,-11.8 17.8,0 C17.8,11.8 11,21.6 0,23.5 C-11,21.6 -17.8,11.8 -17.8,0 C-17.8,-11.8 -11,-21.6 0,-23.5 Z" fill="url(#bead)"/><ellipse cx="-2" cy="-5" rx="3.2" ry="6" fill="#dcc4cc" opacity="0.9" transform="rotate(20)"/></g>
<g transform="translate(1357.3,1168.9) rotate(-20.6)"><path d="M0,-23.5 C11,-21.6 17.8,-11.8 17.8,0 C17.8,11.8 11,21.6 0,23.5 C-11,21.6 -17.8,11.8 -17.8,0 C-17.8,-11.8 -11,-21.6 0,-23.5 Z" fill="url(#bead)"/><ellipse cx="-2" cy="-5" rx="3.2" ry="6" fill="#dcc4cc" opacity="0.9" transform="rotate(20)"/></g>
<g transform="translate(1407,1161.2) rotate(-5.6)"><path d="M0,-23.5 C11,-21.6 17.8,-11.8 17.8,0 C17.8,11.8 11,21.6 0,23.5 C-11,21.6 -17.8,11.8 -17.8,0 C-17.8,-11.8 -11,-21.6 0,-23.5 Z" fill="url(#bead)"/><ellipse cx="-2" cy="-5" rx="3.2" ry="6" fill="#dcc4cc" opacity="0.9" transform="rotate(20)"/></g>
<g transform="translate(1454.9,1159.3) rotate(-2.2)"><path d="M0,-23.5 C11,-21.6 17.8,-11.8 17.8,0 C17.8,11.8 11,21.6 0,23.5 C-11,21.6 -17.8,11.8 -17.8,0 C-17.8,-11.8 -11,-21.6 0,-23.5 Z" fill="url(#bead)"/><ellipse cx="-2" cy="-5" rx="3.2" ry="6" fill="#dcc4cc" opacity="0.9" transform="rotate(20)"/></g>
<g transform="translate(1504.6,1157.4) rotate(-9.1)"><path d="M0,-23.5 C11,-21.6 17.8,-11.8 17.8,0 C17.8,11.8 11,21.6 0,23.5 C-11,21.6 -17.8,11.8 -17.8,0 C-17.8,-11.8 -11,-21.6 0,-23.5 Z" fill="url(#bead)"/><ellipse cx="-2" cy="-5" rx="3.2" ry="6" fill="#dcc4cc" opacity="0.9" transform="rotate(20)"/></g>
<g transform="translate(1550.5,1144) rotate(-23.4)"><path d="M0,-23.5 C11,-21.6 17.8,-11.8 17.8,0 C17.8,11.8 11,21.6 0,23.5 C-11,21.6 -17.8,11.8 -17.8,0 C-17.8,-11.8 -11,-21.6 0,-23.5 Z" fill="url(#bead)"/><ellipse cx="-2" cy="-5" rx="3.2" ry="6" fill="#dcc4cc" opacity="0.9" transform="rotate(20)"/></g>
<g transform="translate(1588.8,1121) rotate(-31)"><path d="M0,-23.5 C11,-21.6 17.8,-11.8 17.8,0 C17.8,11.8 11,21.6 0,23.5 C-11,21.6 -17.8,11.8 -17.8,0 C-17.8,-11.8 -11,-21.6 0,-23.5 Z" fill="url(#bead)"/><ellipse cx="-2" cy="-5" rx="3.2" ry="6" fill="#dcc4cc" opacity="0.9" transform="rotate(20)"/></g>
<path d="M1276.2,570.2 C1268.7,570.7 1254.8,571.7 1245.4,576.5 C1236.1,581.3 1226.9,590.5 1220.1,598.9 C1213.3,607.3 1208.4,618.1 1204.7,627 C1201,635.9 1197,644.5 1197.7,652.2 C1198.4,659.9 1203.8,665.8 1208.9,673.3 C1214.1,680.8 1222,690.3 1228.6,697.1 C1235.1,703.9 1240.7,709 1248.2,713.9 C1255.7,718.8 1265.2,724.7 1273.4,726.6 C1281.6,728.5 1290.8,727.6 1297.3,725.2 C1303.8,722.9 1309.7,717.6 1312.7,712.5 C1315.7,707.4 1315.3,699.9 1315.5,694.3 C1315.7,688.7 1311.5,684 1314.1,678.9 C1316.7,673.8 1327.6,670.2 1330.9,663.4 C1334.2,656.6 1335,645.7 1333.8,638.2 C1332.6,630.7 1328.1,622.8 1323.9,618.6 C1319.7,614.4 1313.2,612.9 1308.5,612.9 C1303.8,612.9 1298.9,619.8 1295.9,618.6 C1292.9,617.4 1291.5,611.3 1290.3,605.9 C1289.1,600.5 1288.9,591.7 1288.9,586.3 C1288.9,580.9 1292.4,576.4 1290.3,573.7 C1288.2,571 1283.7,569.7 1276.2,570.2Z" fill="#e09088" opacity="0.5" stroke="#e09088" stroke-width="14" stroke-linejoin="round" filter="url(#soft)"/>
<path d="M1276.2,570.2 C1268.7,570.7 1254.8,571.7 1245.4,576.5 C1236.1,581.3 1226.9,590.5 1220.1,598.9 C1213.3,607.3 1208.4,618.1 1204.7,627 C1201,635.9 1197,644.5 1197.7,652.2 C1198.4,659.9 1203.8,665.8 1208.9,673.3 C1214.1,680.8 1222,690.3 1228.6,697.1 C1235.1,703.9 1240.7,709 1248.2,713.9 C1255.7,718.8 1265.2,724.7 1273.4,726.6 C1281.6,728.5 1290.8,727.6 1297.3,725.2 C1303.8,722.9 1309.7,717.6 1312.7,712.5 C1315.7,707.4 1315.3,699.9 1315.5,694.3 C1315.7,688.7 1311.5,684 1314.1,678.9 C1316.7,673.8 1327.6,670.2 1330.9,663.4 C1334.2,656.6 1335,645.7 1333.8,638.2 C1332.6,630.7 1328.1,622.8 1323.9,618.6 C1319.7,614.4 1313.2,612.9 1308.5,612.9 C1303.8,612.9 1298.9,619.8 1295.9,618.6 C1292.9,617.4 1291.5,611.3 1290.3,605.9 C1289.1,600.5 1288.9,591.7 1288.9,586.3 C1288.9,580.9 1292.4,576.4 1290.3,573.7 C1288.2,571 1283.7,569.7 1276.2,570.2Z" fill="#98303c" stroke="#b4525a" stroke-width="5" stroke-linejoin="round"/>
<path d="M1260.8,594.7 C1255.7,596.3 1245.9,606.6 1239.8,612.9 C1233.7,619.3 1226.2,626 1224.3,632.6 C1222.5,639.1 1225,645.2 1228.6,652.2 C1232.1,659.2 1239.3,667.6 1245.4,674.7 C1251.5,681.7 1258.5,688.7 1265,694.3 C1271.6,699.9 1279.1,706.7 1284.7,708.3 C1290.3,710 1296.6,706.9 1298.7,704.1 C1300.8,701.3 1301,696.4 1297.3,691.5 C1293.5,686.6 1282.6,680.7 1276.2,674.7 C1269.9,668.6 1263.2,661.1 1259.4,655 C1255.7,648.9 1253.3,643.8 1253.8,638.2 C1254.3,632.6 1259.4,627.2 1262.2,621.4 C1265,615.5 1270.9,607.6 1270.6,603.1 C1270.4,598.7 1266,593.1 1260.8,594.7Z" fill="#db4a5c" stroke="#7c1626" stroke-width="4" stroke-linejoin="round"/>
<path d="M1276.2,612.9 C1271.6,614.1 1261.8,622.3 1259.4,627 C1257.1,631.6 1259.4,638.2 1262.2,641 C1265,643.8 1271.6,645.2 1276.2,643.8 C1280.9,642.4 1288.4,636.6 1290.3,632.6 C1292.1,628.6 1289.8,623.2 1287.5,620 C1285.1,616.7 1280.9,611.8 1276.2,612.9Z" fill="#6e0a18"/>
<path d="M1298.7,632.6 C1294.7,634.4 1287.9,642.2 1284.7,646.6 C1281.4,651 1278.1,656.2 1279.1,659.2 C1280,662.3 1285.6,664.8 1290.3,664.8 C1294.9,664.8 1303.1,662.3 1307.1,659.2 C1311.1,656.2 1313.9,650.6 1314.1,646.6 C1314.4,642.6 1311.1,637.7 1308.5,635.4 C1305.9,633 1302.7,630.7 1298.7,632.6Z" fill="#e98a90"/>
<path d="M769.8,1195.8 C763.5,1195.8 750.1,1201.3 743.1,1206.3 C736.1,1211.3 730.5,1218.7 727.7,1225.9 C724.9,1233.2 728.5,1243 726.3,1249.8 C724.1,1256.6 714.4,1259.1 714.4,1266.6 C714.4,1274.1 722,1287 726.3,1294.7 C730.6,1302.4 734.9,1307.3 740.3,1312.9 C745.7,1318.5 752.3,1324.1 758.6,1328.3 C764.9,1332.5 770.3,1336.2 778.2,1338.1 C786.1,1340 798,1340.7 806.2,1339.5 C814.4,1338.3 821.4,1335.3 827.3,1331.1 C833.1,1326.9 838.5,1319.9 841.3,1314.3 C844.1,1308.7 846.4,1302.9 844.1,1297.5 C841.8,1292.1 831,1286.5 827.3,1282 C823.6,1277.5 820.5,1273.8 821.7,1270.8 C822.9,1267.8 829.2,1267.3 834.3,1263.8 C839.4,1260.3 849.9,1253.5 852.5,1249.8 C855.1,1246.1 852,1244 849.7,1241.4 C847.4,1238.8 842,1238.8 838.5,1234.3 C835,1229.8 832.7,1218.7 828.7,1214.7 C824.7,1210.7 820.8,1210 814.7,1210.5 C808.6,1211 797.8,1218.2 792.2,1217.5 C786.6,1216.8 784.7,1209.9 781,1206.3 C777.3,1202.7 776.1,1195.8 769.8,1195.8Z" fill="#e09088" opacity="0.5" stroke="#e09088" stroke-width="14" stroke-linejoin="round" filter="url(#soft)"/>
<path d="M769.8,1195.8 C763.5,1195.8 750.1,1201.3 743.1,1206.3 C736.1,1211.3 730.5,1218.7 727.7,1225.9 C724.9,1233.2 728.5,1243 726.3,1249.8 C724.1,1256.6 714.4,1259.1 714.4,1266.6 C714.4,1274.1 722,1287 726.3,1294.7 C730.6,1302.4 734.9,1307.3 740.3,1312.9 C745.7,1318.5 752.3,1324.1 758.6,1328.3 C764.9,1332.5 770.3,1336.2 778.2,1338.1 C786.1,1340 798,1340.7 806.2,1339.5 C814.4,1338.3 821.4,1335.3 827.3,1331.1 C833.1,1326.9 838.5,1319.9 841.3,1314.3 C844.1,1308.7 846.4,1302.9 844.1,1297.5 C841.8,1292.1 831,1286.5 827.3,1282 C823.6,1277.5 820.5,1273.8 821.7,1270.8 C822.9,1267.8 829.2,1267.3 834.3,1263.8 C839.4,1260.3 849.9,1253.5 852.5,1249.8 C855.1,1246.1 852,1244 849.7,1241.4 C847.4,1238.8 842,1238.8 838.5,1234.3 C835,1229.8 832.7,1218.7 828.7,1214.7 C824.7,1210.7 820.8,1210 814.7,1210.5 C808.6,1211 797.8,1218.2 792.2,1217.5 C786.6,1216.8 784.7,1209.9 781,1206.3 C777.3,1202.7 776.1,1195.8 769.8,1195.8Z" fill="#98303c" stroke="#b4525a" stroke-width="5" stroke-linejoin="round"/>
<path d="M767,1220.3 C760.9,1222.2 753.4,1235.5 750.1,1244.2 C746.9,1252.8 745.9,1263.3 747.3,1272.2 C748.7,1281.1 753.4,1290.2 758.6,1297.5 C763.7,1304.7 770.2,1312 778.2,1315.7 C786.1,1319.4 797.8,1321.1 806.2,1319.9 C814.7,1318.7 826.4,1313.6 828.7,1308.7 C831,1303.8 822.6,1297.5 820.3,1290.5 C817.9,1283.4 814.7,1273.4 814.7,1266.6 C814.7,1259.8 821.7,1255.4 820.3,1249.8 C818.9,1244.2 811.9,1235.7 806.2,1232.9 C800.6,1230.1 793.2,1235 786.6,1232.9 C780.1,1230.8 773,1218.4 767,1220.3Z" fill="#db4a5c" stroke="#7c1626" stroke-width="4" stroke-linejoin="round"/>
<path d="M782.4,1268 C779.4,1269.9 779.4,1278.8 779.6,1283.4 C779.8,1288.1 780.3,1294.4 783.8,1296.1 C787.3,1297.7 794.6,1292.6 800.6,1293.3 C806.7,1294 815.6,1298.2 820.3,1300.3 C824.9,1302.4 829.6,1308.2 828.7,1305.9 C827.8,1303.5 819.8,1291.9 814.7,1286.2 C809.5,1280.6 803.2,1275.3 797.8,1272.2 C792.5,1269.2 785.4,1266.1 782.4,1268Z" fill="#6e0a18"/>
<path d="M1474.3,1652.2 C1471.5,1652.9 1465.4,1658.8 1464.5,1663.4 C1463.5,1668.1 1465.2,1677.9 1468.7,1680.3 C1472.2,1682.6 1481.9,1679.1 1485.5,1677.5 C1489.1,1675.8 1491.1,1673.5 1490.4,1670.5 C1489.7,1667.4 1484,1662.3 1481.3,1659.2 C1478.6,1656.2 1477.1,1651.5 1474.3,1652.2Z" fill="#e8a02a"/>
<path d="M1436.4,1561.7 C1428.7,1562.7 1413.8,1566.3 1404.2,1570.9 C1394.6,1575.5 1386.6,1582.6 1378.9,1589.1 C1371.2,1595.6 1362.6,1603.3 1357.9,1610.1 C1353.2,1616.9 1351.6,1622.8 1350.9,1629.8 C1350.2,1636.8 1351.1,1645.4 1353.7,1652.2 C1356.3,1659 1361.6,1665.6 1366.3,1670.5 C1371,1675.4 1376.3,1681.2 1381.7,1681.7 C1387.1,1682.2 1393.7,1676.3 1398.6,1673.3 C1403.5,1670.2 1408.4,1661.8 1411.2,1663.4 C1414,1665 1411.9,1677.2 1415.4,1683.1 C1418.9,1688.9 1425.9,1696.4 1432.2,1698.5 C1438.5,1700.6 1446.8,1698 1453.3,1695.7 C1459.8,1693.4 1465.7,1688 1471.5,1684.5 C1477.3,1681 1485.3,1677.3 1488.3,1674.7 C1491.3,1672.1 1491.3,1672.6 1489.7,1669.1 C1488.1,1665.6 1478.7,1657.8 1478.5,1653.6 C1478.3,1649.4 1483.6,1647.8 1488.3,1643.8 C1493,1639.8 1502.8,1634.7 1506.6,1629.8 C1510.3,1624.9 1512.4,1619.9 1510.8,1614.3 C1509.2,1608.7 1503.2,1602.2 1496.7,1596.1 C1490.2,1590 1479.2,1583.1 1471.5,1577.9 C1463.8,1572.8 1456.2,1567.9 1450.4,1565.2 C1444.6,1562.5 1444.1,1560.8 1436.4,1561.7Z" fill="#e09088" opacity="0.5" stroke="#e09088" stroke-width="14" stroke-linejoin="round" filter="url(#soft)"/>
<path d="M1436.4,1561.7 C1428.7,1562.7 1413.8,1566.3 1404.2,1570.9 C1394.6,1575.5 1386.6,1582.6 1378.9,1589.1 C1371.2,1595.6 1362.6,1603.3 1357.9,1610.1 C1353.2,1616.9 1351.6,1622.8 1350.9,1629.8 C1350.2,1636.8 1351.1,1645.4 1353.7,1652.2 C1356.3,1659 1361.6,1665.6 1366.3,1670.5 C1371,1675.4 1376.3,1681.2 1381.7,1681.7 C1387.1,1682.2 1393.7,1676.3 1398.6,1673.3 C1403.5,1670.2 1408.4,1661.8 1411.2,1663.4 C1414,1665 1411.9,1677.2 1415.4,1683.1 C1418.9,1688.9 1425.9,1696.4 1432.2,1698.5 C1438.5,1700.6 1446.8,1698 1453.3,1695.7 C1459.8,1693.4 1465.7,1688 1471.5,1684.5 C1477.3,1681 1485.3,1677.3 1488.3,1674.7 C1491.3,1672.1 1491.3,1672.6 1489.7,1669.1 C1488.1,1665.6 1478.7,1657.8 1478.5,1653.6 C1478.3,1649.4 1483.6,1647.8 1488.3,1643.8 C1493,1639.8 1502.8,1634.7 1506.6,1629.8 C1510.3,1624.9 1512.4,1619.9 1510.8,1614.3 C1509.2,1608.7 1503.2,1602.2 1496.7,1596.1 C1490.2,1590 1479.2,1583.1 1471.5,1577.9 C1463.8,1572.8 1456.2,1567.9 1450.4,1565.2 C1444.6,1562.5 1444.1,1560.8 1436.4,1561.7Z" fill="#98303c" stroke="#b4525a" stroke-width="5" stroke-linejoin="round"/>
<path d="M1437.8,1586.3 C1431.3,1587 1418.7,1594 1409.8,1598.9 C1400.9,1603.8 1391.3,1608.7 1384.5,1615.7 C1377.7,1622.8 1370,1633 1369.1,1641 C1368.2,1648.9 1374,1661.6 1378.9,1663.4 C1383.8,1665.3 1392.9,1656.4 1398.6,1652.2 C1404.2,1648 1408.8,1637.3 1412.6,1638.2 C1416.3,1639.1 1417.7,1651.3 1421,1657.8 C1424.3,1664.4 1428,1673.3 1432.2,1677.5 C1436.4,1681.7 1441.1,1684.9 1446.2,1683.1 C1451.4,1681.2 1458.9,1672.8 1463.1,1666.2 C1467.3,1659.7 1467.8,1650.8 1471.5,1643.8 C1475.2,1636.8 1483.2,1629.8 1485.5,1624.2 C1487.9,1618.6 1489.7,1613.2 1485.5,1610.1 C1481.3,1607.1 1466.4,1608.5 1460.3,1605.9 C1454.2,1603.4 1452.8,1598 1449.1,1594.7 C1445.3,1591.4 1444.4,1585.6 1437.8,1586.3Z" fill="#db4a5c" stroke="#7c1626" stroke-width="4" stroke-linejoin="round"/>
<path d="M1430.8,1617.9 C1428,1617.1 1419.8,1625 1415.4,1629.8 C1410.9,1634.6 1405.1,1643.3 1404.2,1646.6 C1403.2,1649.9 1407,1650.8 1409.8,1649.4 C1412.6,1648 1417.3,1640.8 1421,1638.2 C1424.7,1635.6 1430.6,1637.4 1432.2,1634 C1433.9,1630.6 1433.6,1618.6 1430.8,1617.9Z" fill="#6e0a18"/>
</svg></body></html>
